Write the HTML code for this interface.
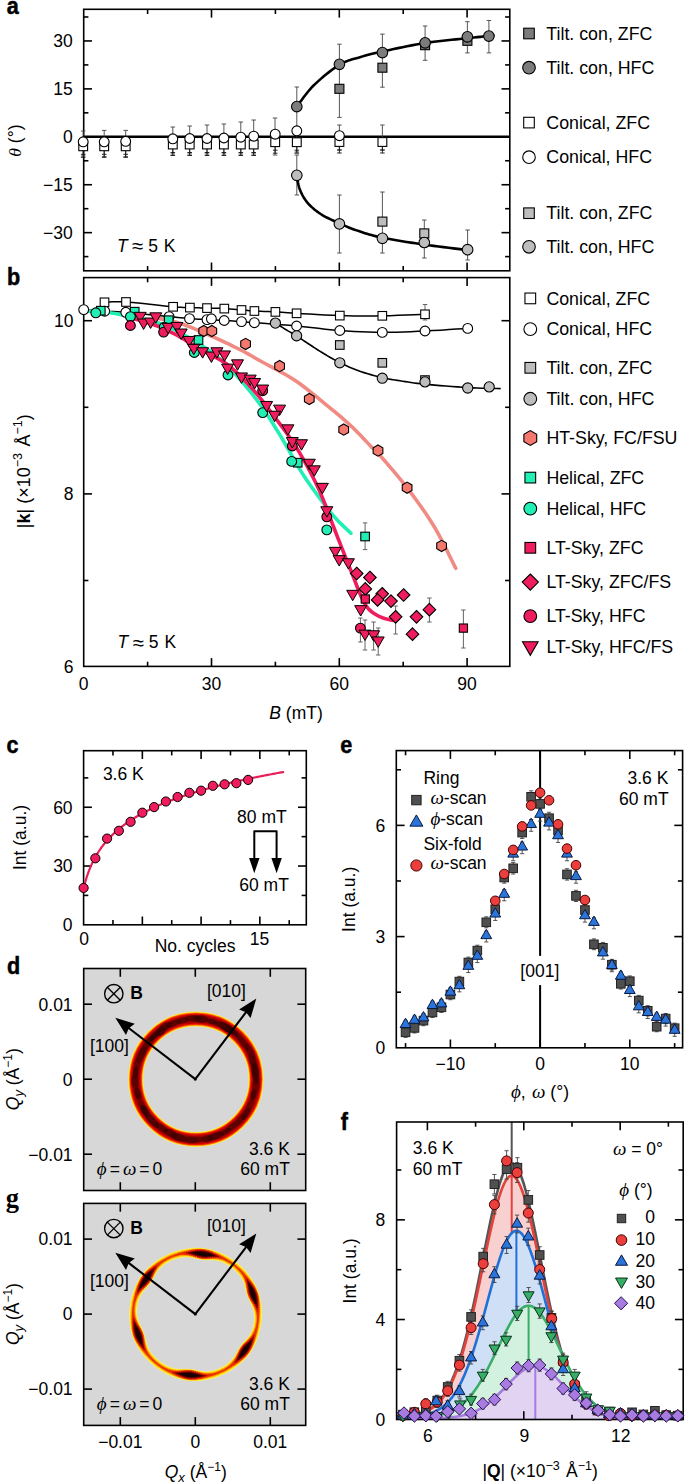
<!DOCTYPE html>
<html><head><meta charset="utf-8"><style>html,body{margin:0;padding:0;background:#fff;}svg{display:block;}</style></head><body>
<svg width="685" height="1484" viewBox="0 0 685 1484">
<rect x="83.7" y="9.3" width="426.1" height="261.5" fill="none" stroke="#000" stroke-width="1.6"/>
<line x1="83.7" y1="232.65" x2="92" y2="232.65" stroke="#000" stroke-width="1.6"/>
<line x1="509.8" y1="232.65" x2="501.5" y2="232.65" stroke="#000" stroke-width="1.6"/>
<line x1="83.7" y1="184.73" x2="92" y2="184.73" stroke="#000" stroke-width="1.6"/>
<line x1="509.8" y1="184.73" x2="501.5" y2="184.73" stroke="#000" stroke-width="1.6"/>
<line x1="83.7" y1="88.88" x2="92" y2="88.88" stroke="#000" stroke-width="1.6"/>
<line x1="509.8" y1="88.88" x2="501.5" y2="88.88" stroke="#000" stroke-width="1.6"/>
<line x1="83.7" y1="40.95" x2="92" y2="40.95" stroke="#000" stroke-width="1.6"/>
<line x1="509.8" y1="40.95" x2="501.5" y2="40.95" stroke="#000" stroke-width="1.6"/>
<line x1="83.7" y1="256.61" x2="88.4" y2="256.61" stroke="#000" stroke-width="1.6"/>
<line x1="509.8" y1="256.61" x2="505.1" y2="256.61" stroke="#000" stroke-width="1.6"/>
<line x1="83.7" y1="208.69" x2="88.4" y2="208.69" stroke="#000" stroke-width="1.6"/>
<line x1="509.8" y1="208.69" x2="505.1" y2="208.69" stroke="#000" stroke-width="1.6"/>
<line x1="83.7" y1="160.76" x2="88.4" y2="160.76" stroke="#000" stroke-width="1.6"/>
<line x1="509.8" y1="160.76" x2="505.1" y2="160.76" stroke="#000" stroke-width="1.6"/>
<line x1="83.7" y1="112.84" x2="88.4" y2="112.84" stroke="#000" stroke-width="1.6"/>
<line x1="509.8" y1="112.84" x2="505.1" y2="112.84" stroke="#000" stroke-width="1.6"/>
<line x1="83.7" y1="64.91" x2="88.4" y2="64.91" stroke="#000" stroke-width="1.6"/>
<line x1="509.8" y1="64.91" x2="505.1" y2="64.91" stroke="#000" stroke-width="1.6"/>
<line x1="83.7" y1="16.99" x2="88.4" y2="16.99" stroke="#000" stroke-width="1.6"/>
<line x1="509.8" y1="16.99" x2="505.1" y2="16.99" stroke="#000" stroke-width="1.6"/>
<line x1="211.5" y1="270.8" x2="211.5" y2="262.5" stroke="#000" stroke-width="1.6"/>
<line x1="211.5" y1="9.3" x2="211.5" y2="17.6" stroke="#000" stroke-width="1.6"/>
<line x1="339.3" y1="270.8" x2="339.3" y2="262.5" stroke="#000" stroke-width="1.6"/>
<line x1="339.3" y1="9.3" x2="339.3" y2="17.6" stroke="#000" stroke-width="1.6"/>
<line x1="467.1" y1="270.8" x2="467.1" y2="262.5" stroke="#000" stroke-width="1.6"/>
<line x1="467.1" y1="9.3" x2="467.1" y2="17.6" stroke="#000" stroke-width="1.6"/>
<line x1="147.6" y1="270.8" x2="147.6" y2="266.1" stroke="#000" stroke-width="1.6"/>
<line x1="147.6" y1="9.3" x2="147.6" y2="14" stroke="#000" stroke-width="1.6"/>
<line x1="275.4" y1="270.8" x2="275.4" y2="266.1" stroke="#000" stroke-width="1.6"/>
<line x1="275.4" y1="9.3" x2="275.4" y2="14" stroke="#000" stroke-width="1.6"/>
<line x1="403.2" y1="270.8" x2="403.2" y2="266.1" stroke="#000" stroke-width="1.6"/>
<line x1="403.2" y1="9.3" x2="403.2" y2="14" stroke="#000" stroke-width="1.6"/>
<text x="72.8" y="47.25" font-family="Liberation Sans" font-size="17.5" text-anchor="end" font-weight="normal" font-style="normal">30</text>
<text x="72.8" y="95.18" font-family="Liberation Sans" font-size="17.5" text-anchor="end" font-weight="normal" font-style="normal">15</text>
<text x="72.8" y="143.1" font-family="Liberation Sans" font-size="17.5" text-anchor="end" font-weight="normal" font-style="normal">0</text>
<text x="72.8" y="191.03" font-family="Liberation Sans" font-size="17.5" text-anchor="end" font-weight="normal" font-style="normal">−15</text>
<text x="72.8" y="238.95" font-family="Liberation Sans" font-size="17.5" text-anchor="end" font-weight="normal" font-style="normal">−30</text>
<text transform="translate(21.3,140.6) rotate(-90)" font-family="Liberation Sans" font-size="17.5" text-anchor="middle"><tspan font-family="Liberation Serif" font-style="italic">θ</tspan> (°)</text>
<line x1="83.7" y1="136.7" x2="509.8" y2="136.7" stroke="#000" stroke-width="2.4"/>
<line x1="83.2" y1="131" x2="83.2" y2="156" stroke="#444" stroke-width="0.9"/>
<line x1="80.95" y1="131" x2="85.45" y2="131" stroke="#444" stroke-width="0.9"/>
<line x1="80.95" y1="156" x2="85.45" y2="156" stroke="#444" stroke-width="0.9"/>
<line x1="104.2" y1="130.4" x2="104.2" y2="156.7" stroke="#444" stroke-width="0.9"/>
<line x1="101.95" y1="130.4" x2="106.45" y2="130.4" stroke="#444" stroke-width="0.9"/>
<line x1="101.95" y1="156.7" x2="106.45" y2="156.7" stroke="#444" stroke-width="0.9"/>
<line x1="125.7" y1="130.4" x2="125.7" y2="156.7" stroke="#444" stroke-width="0.9"/>
<line x1="123.45" y1="130.4" x2="127.95" y2="130.4" stroke="#444" stroke-width="0.9"/>
<line x1="123.45" y1="156.7" x2="127.95" y2="156.7" stroke="#444" stroke-width="0.9"/>
<line x1="172.8" y1="127" x2="172.8" y2="154" stroke="#444" stroke-width="0.9"/>
<line x1="170.55" y1="127" x2="175.05" y2="127" stroke="#444" stroke-width="0.9"/>
<line x1="170.55" y1="154" x2="175.05" y2="154" stroke="#444" stroke-width="0.9"/>
<line x1="189.7" y1="126" x2="189.7" y2="154" stroke="#444" stroke-width="0.9"/>
<line x1="187.45" y1="126" x2="191.95" y2="126" stroke="#444" stroke-width="0.9"/>
<line x1="187.45" y1="154" x2="191.95" y2="154" stroke="#444" stroke-width="0.9"/>
<line x1="207" y1="125" x2="207" y2="154" stroke="#444" stroke-width="0.9"/>
<line x1="204.75" y1="125" x2="209.25" y2="125" stroke="#444" stroke-width="0.9"/>
<line x1="204.75" y1="154" x2="209.25" y2="154" stroke="#444" stroke-width="0.9"/>
<line x1="223.9" y1="124" x2="223.9" y2="154" stroke="#444" stroke-width="0.9"/>
<line x1="221.65" y1="124" x2="226.15" y2="124" stroke="#444" stroke-width="0.9"/>
<line x1="221.65" y1="154" x2="226.15" y2="154" stroke="#444" stroke-width="0.9"/>
<line x1="240.8" y1="122" x2="240.8" y2="154" stroke="#444" stroke-width="0.9"/>
<line x1="238.55" y1="122" x2="243.05" y2="122" stroke="#444" stroke-width="0.9"/>
<line x1="238.55" y1="154" x2="243.05" y2="154" stroke="#444" stroke-width="0.9"/>
<line x1="253.7" y1="120" x2="253.7" y2="154" stroke="#444" stroke-width="0.9"/>
<line x1="251.45" y1="120" x2="255.95" y2="120" stroke="#444" stroke-width="0.9"/>
<line x1="251.45" y1="154" x2="255.95" y2="154" stroke="#444" stroke-width="0.9"/>
<line x1="275" y1="118" x2="275" y2="155" stroke="#444" stroke-width="0.9"/>
<line x1="272.75" y1="118" x2="277.25" y2="118" stroke="#444" stroke-width="0.9"/>
<line x1="272.75" y1="155" x2="277.25" y2="155" stroke="#444" stroke-width="0.9"/>
<line x1="296.8" y1="87" x2="296.8" y2="152" stroke="#444" stroke-width="0.9"/>
<line x1="294.55" y1="87" x2="299.05" y2="87" stroke="#444" stroke-width="0.9"/>
<line x1="294.55" y1="152" x2="299.05" y2="152" stroke="#444" stroke-width="0.9"/>
<line x1="339.4" y1="44.2" x2="339.4" y2="117.4" stroke="#444" stroke-width="0.9"/>
<line x1="337.15" y1="44.2" x2="341.65" y2="44.2" stroke="#444" stroke-width="0.9"/>
<line x1="337.15" y1="117.4" x2="341.65" y2="117.4" stroke="#444" stroke-width="0.9"/>
<line x1="382.4" y1="34.1" x2="382.4" y2="87.2" stroke="#444" stroke-width="0.9"/>
<line x1="380.15" y1="34.1" x2="384.65" y2="34.1" stroke="#444" stroke-width="0.9"/>
<line x1="380.15" y1="87.2" x2="384.65" y2="87.2" stroke="#444" stroke-width="0.9"/>
<line x1="425.1" y1="26" x2="425.1" y2="60.3" stroke="#444" stroke-width="0.9"/>
<line x1="422.85" y1="26" x2="427.35" y2="26" stroke="#444" stroke-width="0.9"/>
<line x1="422.85" y1="60.3" x2="427.35" y2="60.3" stroke="#444" stroke-width="0.9"/>
<line x1="467.4" y1="21.7" x2="467.4" y2="52.9" stroke="#444" stroke-width="0.9"/>
<line x1="465.15" y1="21.7" x2="469.65" y2="21.7" stroke="#444" stroke-width="0.9"/>
<line x1="465.15" y1="52.9" x2="469.65" y2="52.9" stroke="#444" stroke-width="0.9"/>
<line x1="488.9" y1="20.5" x2="488.9" y2="52.9" stroke="#444" stroke-width="0.9"/>
<line x1="486.65" y1="20.5" x2="491.15" y2="20.5" stroke="#444" stroke-width="0.9"/>
<line x1="486.65" y1="52.9" x2="491.15" y2="52.9" stroke="#444" stroke-width="0.9"/>
<line x1="339.4" y1="125" x2="339.4" y2="150" stroke="#444" stroke-width="0.9"/>
<line x1="337.15" y1="125" x2="341.65" y2="125" stroke="#444" stroke-width="0.9"/>
<line x1="337.15" y1="150" x2="341.65" y2="150" stroke="#444" stroke-width="0.9"/>
<line x1="382.4" y1="125" x2="382.4" y2="150" stroke="#444" stroke-width="0.9"/>
<line x1="380.15" y1="125" x2="384.65" y2="125" stroke="#444" stroke-width="0.9"/>
<line x1="380.15" y1="150" x2="384.65" y2="150" stroke="#444" stroke-width="0.9"/>
<line x1="296.8" y1="155" x2="296.8" y2="195" stroke="#444" stroke-width="0.9"/>
<line x1="294.55" y1="155" x2="299.05" y2="155" stroke="#444" stroke-width="0.9"/>
<line x1="294.55" y1="195" x2="299.05" y2="195" stroke="#444" stroke-width="0.9"/>
<line x1="339.4" y1="195" x2="339.4" y2="253" stroke="#444" stroke-width="0.9"/>
<line x1="337.15" y1="195" x2="341.65" y2="195" stroke="#444" stroke-width="0.9"/>
<line x1="337.15" y1="253" x2="341.65" y2="253" stroke="#444" stroke-width="0.9"/>
<line x1="382.4" y1="192" x2="382.4" y2="253" stroke="#444" stroke-width="0.9"/>
<line x1="380.15" y1="192" x2="384.65" y2="192" stroke="#444" stroke-width="0.9"/>
<line x1="380.15" y1="253" x2="384.65" y2="253" stroke="#444" stroke-width="0.9"/>
<line x1="424.3" y1="220" x2="424.3" y2="258" stroke="#444" stroke-width="0.9"/>
<line x1="422.05" y1="220" x2="426.55" y2="220" stroke="#444" stroke-width="0.9"/>
<line x1="422.05" y1="258" x2="426.55" y2="258" stroke="#444" stroke-width="0.9"/>
<line x1="467.6" y1="230" x2="467.6" y2="260" stroke="#444" stroke-width="0.9"/>
<line x1="465.35" y1="230" x2="469.85" y2="230" stroke="#444" stroke-width="0.9"/>
<line x1="465.35" y1="260" x2="469.85" y2="260" stroke="#444" stroke-width="0.9"/>
<line x1="83.2" y1="150.3" x2="83.2" y2="157.3" stroke="#111" stroke-width="0.9"/>
<line x1="80.9" y1="154.3" x2="85.5" y2="154.3" stroke="#111" stroke-width="0.9"/>
<line x1="80.9" y1="157.3" x2="85.5" y2="157.3" stroke="#111" stroke-width="0.9"/>
<line x1="104.2" y1="150.3" x2="104.2" y2="157.3" stroke="#111" stroke-width="0.9"/>
<line x1="101.9" y1="154.3" x2="106.5" y2="154.3" stroke="#111" stroke-width="0.9"/>
<line x1="101.9" y1="157.3" x2="106.5" y2="157.3" stroke="#111" stroke-width="0.9"/>
<line x1="125.7" y1="150.3" x2="125.7" y2="157.3" stroke="#111" stroke-width="0.9"/>
<line x1="123.4" y1="154.3" x2="128" y2="154.3" stroke="#111" stroke-width="0.9"/>
<line x1="123.4" y1="157.3" x2="128" y2="157.3" stroke="#111" stroke-width="0.9"/>
<line x1="172.8" y1="148.5" x2="172.8" y2="155.5" stroke="#111" stroke-width="0.9"/>
<line x1="170.5" y1="152.5" x2="175.1" y2="152.5" stroke="#111" stroke-width="0.9"/>
<line x1="170.5" y1="155.5" x2="175.1" y2="155.5" stroke="#111" stroke-width="0.9"/>
<line x1="189.7" y1="148.5" x2="189.7" y2="155.5" stroke="#111" stroke-width="0.9"/>
<line x1="187.4" y1="152.5" x2="192" y2="152.5" stroke="#111" stroke-width="0.9"/>
<line x1="187.4" y1="155.5" x2="192" y2="155.5" stroke="#111" stroke-width="0.9"/>
<line x1="207" y1="148.5" x2="207" y2="155.5" stroke="#111" stroke-width="0.9"/>
<line x1="204.7" y1="152.5" x2="209.3" y2="152.5" stroke="#111" stroke-width="0.9"/>
<line x1="204.7" y1="155.5" x2="209.3" y2="155.5" stroke="#111" stroke-width="0.9"/>
<line x1="223.9" y1="148.5" x2="223.9" y2="155.5" stroke="#111" stroke-width="0.9"/>
<line x1="221.6" y1="152.5" x2="226.2" y2="152.5" stroke="#111" stroke-width="0.9"/>
<line x1="221.6" y1="155.5" x2="226.2" y2="155.5" stroke="#111" stroke-width="0.9"/>
<line x1="240.8" y1="148.5" x2="240.8" y2="155.5" stroke="#111" stroke-width="0.9"/>
<line x1="238.5" y1="152.5" x2="243.1" y2="152.5" stroke="#111" stroke-width="0.9"/>
<line x1="238.5" y1="155.5" x2="243.1" y2="155.5" stroke="#111" stroke-width="0.9"/>
<line x1="253.7" y1="148.5" x2="253.7" y2="155.5" stroke="#111" stroke-width="0.9"/>
<line x1="251.4" y1="152.5" x2="256" y2="152.5" stroke="#111" stroke-width="0.9"/>
<line x1="251.4" y1="155.5" x2="256" y2="155.5" stroke="#111" stroke-width="0.9"/>
<line x1="275.2" y1="146.2" x2="275.2" y2="153.2" stroke="#111" stroke-width="0.9"/>
<line x1="272.9" y1="150.2" x2="277.5" y2="150.2" stroke="#111" stroke-width="0.9"/>
<line x1="272.9" y1="153.2" x2="277.5" y2="153.2" stroke="#111" stroke-width="0.9"/>
<line x1="296.8" y1="146.2" x2="296.8" y2="153.2" stroke="#111" stroke-width="0.9"/>
<line x1="294.5" y1="150.2" x2="299.1" y2="150.2" stroke="#111" stroke-width="0.9"/>
<line x1="294.5" y1="153.2" x2="299.1" y2="153.2" stroke="#111" stroke-width="0.9"/>
<line x1="339.4" y1="146" x2="339.4" y2="153" stroke="#111" stroke-width="0.9"/>
<line x1="337.1" y1="150" x2="341.7" y2="150" stroke="#111" stroke-width="0.9"/>
<line x1="337.1" y1="153" x2="341.7" y2="153" stroke="#111" stroke-width="0.9"/>
<line x1="382.4" y1="146" x2="382.4" y2="153" stroke="#111" stroke-width="0.9"/>
<line x1="380.1" y1="150" x2="384.7" y2="150" stroke="#111" stroke-width="0.9"/>
<line x1="380.1" y1="153" x2="384.7" y2="153" stroke="#111" stroke-width="0.9"/>
<rect x="78.8" y="141.9" width="8.8" height="8.8" fill="#fff" stroke="#000" stroke-width="1.1"/>
<rect x="99.8" y="141.9" width="8.8" height="8.8" fill="#fff" stroke="#000" stroke-width="1.1"/>
<rect x="121.3" y="141.9" width="8.8" height="8.8" fill="#fff" stroke="#000" stroke-width="1.1"/>
<rect x="168.4" y="140.1" width="8.8" height="8.8" fill="#fff" stroke="#000" stroke-width="1.1"/>
<rect x="185.3" y="140.1" width="8.8" height="8.8" fill="#fff" stroke="#000" stroke-width="1.1"/>
<rect x="202.6" y="140.1" width="8.8" height="8.8" fill="#fff" stroke="#000" stroke-width="1.1"/>
<rect x="219.5" y="140.1" width="8.8" height="8.8" fill="#fff" stroke="#000" stroke-width="1.1"/>
<rect x="236.4" y="140.1" width="8.8" height="8.8" fill="#fff" stroke="#000" stroke-width="1.1"/>
<rect x="249.3" y="140.1" width="8.8" height="8.8" fill="#fff" stroke="#000" stroke-width="1.1"/>
<rect x="270.8" y="137.8" width="8.8" height="8.8" fill="#fff" stroke="#000" stroke-width="1.1"/>
<rect x="292.4" y="137.8" width="8.8" height="8.8" fill="#fff" stroke="#000" stroke-width="1.1"/>
<rect x="335" y="137.6" width="8.8" height="8.8" fill="#fff" stroke="#000" stroke-width="1.1"/>
<rect x="378" y="137.6" width="8.8" height="8.8" fill="#fff" stroke="#000" stroke-width="1.1"/>
<circle cx="83.2" cy="141.8" r="4.9" fill="#fff" stroke="#000" stroke-width="1.1"/>
<circle cx="104.2" cy="141.8" r="4.9" fill="#fff" stroke="#000" stroke-width="1.1"/>
<circle cx="125.7" cy="141.3" r="4.9" fill="#fff" stroke="#000" stroke-width="1.1"/>
<circle cx="172.8" cy="138.8" r="4.9" fill="#fff" stroke="#000" stroke-width="1.1"/>
<circle cx="189.7" cy="138.5" r="4.9" fill="#fff" stroke="#000" stroke-width="1.1"/>
<circle cx="207" cy="138.5" r="4.9" fill="#fff" stroke="#000" stroke-width="1.1"/>
<circle cx="223.9" cy="138" r="4.9" fill="#fff" stroke="#000" stroke-width="1.1"/>
<circle cx="240.8" cy="137.2" r="4.9" fill="#fff" stroke="#000" stroke-width="1.1"/>
<circle cx="253.7" cy="136.2" r="4.9" fill="#fff" stroke="#000" stroke-width="1.1"/>
<circle cx="275.2" cy="134.2" r="4.9" fill="#fff" stroke="#000" stroke-width="1.1"/>
<circle cx="296.8" cy="130.8" r="4.9" fill="#fff" stroke="#000" stroke-width="1.1"/>
<circle cx="339.4" cy="135.7" r="4.9" fill="#fff" stroke="#000" stroke-width="1.1"/>
<polyline points="296.8,106.6 297.76,105.34 298.94,103.72 300.32,101.81 301.88,99.66 303.59,97.34 305.43,94.92 307.37,92.47 309.4,90.03 311.48,87.69 313.6,85.5 315.84,83.36 318.26,81.13 320.82,78.85 323.49,76.57 326.23,74.32 328.98,72.13 331.71,70.05 334.39,68.11 336.97,66.35 339.4,64.8 341.7,63.49 343.92,62.38 346.08,61.44 348.18,60.64 350.25,59.95 352.3,59.34 354.34,58.76 356.4,58.21 358.48,57.63 360.6,57 362.66,56.37 364.59,55.8 366.44,55.28 368.27,54.78 370.16,54.29 372.15,53.81 374.3,53.3 376.69,52.76 379.37,52.16 382.4,51.5 385.83,50.75 389.61,49.93 393.69,49.05 397.99,48.14 402.47,47.21 407.05,46.28 411.66,45.37 416.25,44.51 420.75,43.71 425.1,43 429.42,42.36 433.84,41.77 438.33,41.22 442.83,40.71 447.29,40.24 451.67,39.79 455.91,39.37 459.98,38.97 463.83,38.58 467.4,38.2 470.78,37.83 474.07,37.48 477.24,37.15 480.26,36.84 483.09,36.55 485.72,36.28 488.1,36.05 490.21,35.83 492.02,35.65 493.5,35.5" fill="none" stroke="#000" stroke-width="2.6" stroke-linejoin="round" stroke-linecap="round"/>
<rect x="334.9" y="84.3" width="9" height="9" fill="#7c7c7c" stroke="#000" stroke-width="1.1"/>
<rect x="377.9" y="63.2" width="9" height="9" fill="#7c7c7c" stroke="#000" stroke-width="1.1"/>
<rect x="420.6" y="40.7" width="9" height="9" fill="#7c7c7c" stroke="#000" stroke-width="1.1"/>
<rect x="462.9" y="36.3" width="9" height="9" fill="#7c7c7c" stroke="#000" stroke-width="1.1"/>
<circle cx="296.8" cy="106.6" r="5.3" fill="#7c7c7c" stroke="#000" stroke-width="1.1"/>
<circle cx="339.4" cy="64.3" r="5.3" fill="#7c7c7c" stroke="#000" stroke-width="1.1"/>
<circle cx="382.4" cy="52.6" r="5.3" fill="#7c7c7c" stroke="#000" stroke-width="1.1"/>
<circle cx="425.1" cy="42.8" r="5.3" fill="#7c7c7c" stroke="#000" stroke-width="1.1"/>
<circle cx="467.4" cy="36.8" r="5.3" fill="#7c7c7c" stroke="#000" stroke-width="1.1"/>
<circle cx="488.9" cy="36.1" r="5.3" fill="#7c7c7c" stroke="#000" stroke-width="1.1"/>
<polyline points="296.8,175.3 296.96,176.14 297.13,177.22 297.33,178.49 297.56,179.93 297.83,181.47 298.12,183.08 298.47,184.71 298.86,186.32 299.3,187.87 299.8,189.3 300.35,190.67 300.93,192.04 301.56,193.4 302.24,194.76 302.96,196.11 303.73,197.45 304.56,198.77 305.44,200.07 306.39,201.35 307.4,202.6 308.47,203.83 309.61,205.03 310.8,206.22 312.05,207.39 313.36,208.54 314.72,209.68 316.13,210.79 317.6,211.88 319.13,212.95 320.7,214 322.35,215.03 324.08,216.04 325.89,217.02 327.76,217.99 329.67,218.93 331.62,219.86 333.58,220.77 335.54,221.66 337.48,222.54 339.4,223.4 341.29,224.24 343.15,225.07 345.01,225.87 346.87,226.66 348.74,227.43 350.63,228.18 352.57,228.92 354.55,229.66 356.59,230.38 358.7,231.1 360.81,231.8 362.87,232.49 364.91,233.15 366.99,233.8 369.14,234.45 371.4,235.09 373.81,235.73 376.42,236.38 379.27,237.03 382.4,237.7 385.85,238.38 389.59,239.08 393.59,239.79 397.78,240.51 402.12,241.22 406.57,241.93 411.05,242.62 415.54,243.3 419.97,243.97 424.3,244.6 428.77,245.23 433.56,245.88 438.55,246.53 443.6,247.16 448.57,247.78 453.33,248.36 457.75,248.9 461.69,249.37 465.02,249.78 467.6,250.1" fill="none" stroke="#000" stroke-width="2.6" stroke-linejoin="round" stroke-linecap="round"/>
<rect x="377.9" y="217.1" width="9" height="9" fill="#bdbdbd" stroke="#000" stroke-width="1.1"/>
<rect x="419.8" y="228.9" width="9" height="9" fill="#bdbdbd" stroke="#000" stroke-width="1.1"/>
<circle cx="296.8" cy="175.3" r="5.3" fill="#bdbdbd" stroke="#000" stroke-width="1.1"/>
<circle cx="339.4" cy="223.9" r="5.3" fill="#bdbdbd" stroke="#000" stroke-width="1.1"/>
<circle cx="382.4" cy="238.3" r="5.3" fill="#bdbdbd" stroke="#000" stroke-width="1.1"/>
<circle cx="424.3" cy="242.5" r="5.3" fill="#bdbdbd" stroke="#000" stroke-width="1.1"/>
<circle cx="467.6" cy="249.7" r="5.3" fill="#bdbdbd" stroke="#000" stroke-width="1.1"/>
<text x="117" y="251.8" font-family="Liberation Sans" font-size="17.5"><tspan font-style="italic">T</tspan><tspan x="131.8" font-size="20.5" dy="1.6">≈</tspan><tspan x="148.2" dy="-1.6">5</tspan><tspan x="163.8">K</tspan></text>
<rect x="523.7" y="28.2" width="10.6" height="10.6" fill="#7c7c7c" stroke="#000" stroke-width="1.1"/>
<text x="546.3" y="39.7" font-family="Liberation Sans" font-size="17.8" text-anchor="start" font-weight="normal" font-style="normal">Tilt. con, ZFC</text>
<circle cx="529" cy="67.7" r="6.3" fill="#7c7c7c" stroke="#000" stroke-width="1.1"/>
<text x="546.3" y="73.9" font-family="Liberation Sans" font-size="17.8" text-anchor="start" font-weight="normal" font-style="normal">Tilt. con, HFC</text>
<rect x="523.7" y="117.3" width="10.6" height="10.6" fill="#fff" stroke="#000" stroke-width="1.1"/>
<text x="546.3" y="128.8" font-family="Liberation Sans" font-size="17.8" text-anchor="start" font-weight="normal" font-style="normal">Conical, ZFC</text>
<circle cx="529" cy="157.2" r="6.3" fill="#fff" stroke="#000" stroke-width="1.1"/>
<text x="546.3" y="163.4" font-family="Liberation Sans" font-size="17.8" text-anchor="start" font-weight="normal" font-style="normal">Conical, HFC</text>
<rect x="523.7" y="207.9" width="10.6" height="10.6" fill="#bdbdbd" stroke="#000" stroke-width="1.1"/>
<text x="546.3" y="219.4" font-family="Liberation Sans" font-size="17.8" text-anchor="start" font-weight="normal" font-style="normal">Tilt. con, ZFC</text>
<circle cx="529" cy="246.8" r="6.3" fill="#bdbdbd" stroke="#000" stroke-width="1.1"/>
<text x="546.3" y="253" font-family="Liberation Sans" font-size="17.8" text-anchor="start" font-weight="normal" font-style="normal">Tilt. con, HFC</text>
<rect x="83.7" y="277.6" width="426.1" height="388.8" fill="none" stroke="#000" stroke-width="1.6"/>
<line x1="83.7" y1="493.9" x2="92" y2="493.9" stroke="#000" stroke-width="1.6"/>
<line x1="509.8" y1="493.9" x2="501.5" y2="493.9" stroke="#000" stroke-width="1.6"/>
<line x1="83.7" y1="320.7" x2="92" y2="320.7" stroke="#000" stroke-width="1.6"/>
<line x1="509.8" y1="320.7" x2="501.5" y2="320.7" stroke="#000" stroke-width="1.6"/>
<line x1="83.7" y1="580.5" x2="88.4" y2="580.5" stroke="#000" stroke-width="1.6"/>
<line x1="509.8" y1="580.5" x2="505.1" y2="580.5" stroke="#000" stroke-width="1.6"/>
<line x1="83.7" y1="407.3" x2="88.4" y2="407.3" stroke="#000" stroke-width="1.6"/>
<line x1="509.8" y1="407.3" x2="505.1" y2="407.3" stroke="#000" stroke-width="1.6"/>
<line x1="211.5" y1="666.4" x2="211.5" y2="658.1" stroke="#000" stroke-width="1.6"/>
<line x1="211.5" y1="277.6" x2="211.5" y2="285.9" stroke="#000" stroke-width="1.6"/>
<line x1="339.3" y1="666.4" x2="339.3" y2="658.1" stroke="#000" stroke-width="1.6"/>
<line x1="339.3" y1="277.6" x2="339.3" y2="285.9" stroke="#000" stroke-width="1.6"/>
<line x1="467.1" y1="666.4" x2="467.1" y2="658.1" stroke="#000" stroke-width="1.6"/>
<line x1="467.1" y1="277.6" x2="467.1" y2="285.9" stroke="#000" stroke-width="1.6"/>
<line x1="147.6" y1="666.4" x2="147.6" y2="661.7" stroke="#000" stroke-width="1.6"/>
<line x1="147.6" y1="277.6" x2="147.6" y2="282.3" stroke="#000" stroke-width="1.6"/>
<line x1="275.4" y1="666.4" x2="275.4" y2="661.7" stroke="#000" stroke-width="1.6"/>
<line x1="275.4" y1="277.6" x2="275.4" y2="282.3" stroke="#000" stroke-width="1.6"/>
<line x1="403.2" y1="666.4" x2="403.2" y2="661.7" stroke="#000" stroke-width="1.6"/>
<line x1="403.2" y1="277.6" x2="403.2" y2="282.3" stroke="#000" stroke-width="1.6"/>
<text x="73.4" y="327" font-family="Liberation Sans" font-size="17.5" text-anchor="end" font-weight="normal" font-style="normal">10</text>
<text x="73.4" y="500.2" font-family="Liberation Sans" font-size="17.5" text-anchor="end" font-weight="normal" font-style="normal">8</text>
<text x="73.4" y="673.4" font-family="Liberation Sans" font-size="17.5" text-anchor="end" font-weight="normal" font-style="normal">6</text>
<text x="83.7" y="689.6" font-family="Liberation Sans" font-size="17.5" text-anchor="middle" font-weight="normal" font-style="normal">0</text>
<text x="211.5" y="689.6" font-family="Liberation Sans" font-size="17.5" text-anchor="middle" font-weight="normal" font-style="normal">30</text>
<text x="339.3" y="689.6" font-family="Liberation Sans" font-size="17.5" text-anchor="middle" font-weight="normal" font-style="normal">60</text>
<text x="467.1" y="689.6" font-family="Liberation Sans" font-size="17.5" text-anchor="middle" font-weight="normal" font-style="normal">90</text>
<text x="269.3" y="719.4" font-family="Liberation Sans" font-size="17.5" text-anchor="start" font-weight="normal" font-style="normal"><tspan font-style="italic">B</tspan> (mT)</text>
<text transform="translate(29.6,471.2) rotate(-90)" font-family="Liberation Sans" font-size="18" text-anchor="middle">|<tspan font-weight="bold">k</tspan>| (×10<tspan dy="-7.5" font-size="12.5">−3</tspan><tspan dy="7.5" dx="1.5"> Å</tspan><tspan dy="-7.5" font-size="12.5">−1</tspan><tspan dy="7.5">)</tspan></text>
<text x="117.6" y="648.2" font-family="Liberation Sans" font-size="17.5"><tspan font-style="italic">T</tspan><tspan x="132.4" font-size="20.5" dy="1.6">≈</tspan><tspan x="148.8" dy="-1.6">5</tspan><tspan x="164.4">K</tspan></text>
<polyline points="104.5,302.3 106.54,302.21 109.13,302.03 112.31,301.85 116.14,301.73 120.69,301.76 126,302 132.72,302.55 140.93,303.37 149.84,304.33 158.7,305.31 166.71,306.17 173.1,306.8 177.65,307.17 180.93,307.37 183.37,307.47 185.4,307.5 187.43,307.53 189.9,307.6 192.73,307.7 195.57,307.79 198.42,307.87 201.27,307.94 204.13,308.02 207,308.1 209.87,308.17 212.76,308.23 215.64,308.29 218.53,308.37 221.42,308.46 224.3,308.6 227.22,308.79 230.2,309.01 233.18,309.27 236.09,309.53 238.88,309.78 241.5,310 243.81,310.19 245.82,310.37 247.71,310.53 249.66,310.69 251.83,310.84 254.4,311 257.43,311.15 260.79,311.29 264.38,311.43 268.09,311.57 271.79,311.72 275.4,311.9 278.67,312.09 281.64,312.3 284.61,312.51 287.9,312.75 291.79,313.01 296.6,313.3 302.53,313.66 309.4,314.08 316.87,314.53 324.64,314.96 332.39,315.33 339.8,315.6 346.92,315.77 354.01,315.89 361.08,315.94 368.14,315.94 375.21,315.89 382.3,315.8 389.9,315.63 398.1,315.37 406.31,315.06 413.92,314.75 420.35,314.48 425,314.3" fill="none" stroke="#000" stroke-width="1.5" stroke-linejoin="round" stroke-linecap="round"/>
<polyline points="83.7,309.6 85.98,309.78 89.14,310.03 92.88,310.33 96.91,310.64 100.95,310.94 104.7,311.2 107.95,311.38 110.9,311.49 113.86,311.58 117.12,311.71 121,311.94 125.8,312.3 132,312.86 139.44,313.58 147.49,314.39 155.54,315.22 162.95,315.98 169.1,316.6 173.86,317.08 177.7,317.47 180.91,317.81 183.76,318.09 186.53,318.35 189.5,318.6 192.59,318.83 195.56,319.01 198.45,319.17 201.3,319.31 204.13,319.45 207,319.6 209.88,319.75 212.75,319.9 215.61,320.04 218.47,320.19 221.33,320.34 224.2,320.5 227.13,320.67 230.12,320.85 233.12,321.04 236.06,321.23 238.87,321.41 241.5,321.6 243.57,321.76 245.04,321.89 246.39,322.01 248.09,322.17 250.61,322.39 254.4,322.7 259.73,323.11 266.26,323.59 273.61,324.14 281.37,324.73 289.17,325.36 296.6,326 303.75,326.71 310.95,327.51 318.18,328.34 325.41,329.15 332.63,329.89 339.8,330.5 346.92,331.01 354.01,331.45 361.08,331.82 368.14,332.11 375.21,332.3 382.3,332.4 389.41,332.37 396.52,332.22 403.64,331.98 410.76,331.68 417.88,331.34 425,331 432.61,330.61 440.81,330.13 449.02,329.61 456.63,329.12 463.05,328.7 467.7,328.4" fill="none" stroke="#000" stroke-width="1.5" stroke-linejoin="round" stroke-linecap="round"/>
<polyline points="275.4,322.8 276.15,323.29 277.12,323.94 278.29,324.72 279.59,325.58 280.98,326.5 282.41,327.43 283.83,328.34 285.2,329.2 286.55,330.02 287.94,330.83 289.36,331.65 290.8,332.47 292.25,333.31 293.71,334.15 295.16,335.02 296.6,335.9 298.01,336.8 299.41,337.72 300.8,338.64 302.19,339.59 303.59,340.54 305.02,341.52 306.49,342.5 308,343.5 309.53,344.51 311.06,345.52 312.6,346.54 314.18,347.57 315.81,348.63 317.51,349.72 319.3,350.84 321.2,352 323.22,353.22 325.34,354.51 327.55,355.84 329.83,357.19 332.17,358.55 334.53,359.88 336.92,361.17 339.3,362.4 341.68,363.57 344.08,364.72 346.5,365.84 348.96,366.94 351.45,368 353.98,369.03 356.56,370.03 359.2,371 361.94,371.94 364.81,372.87 367.75,373.77 370.72,374.64 373.67,375.46 376.57,376.24 379.36,376.95 382,377.6 384.43,378.16 386.67,378.63 388.79,379.04 390.86,379.4 392.95,379.73 395.12,380.07 397.45,380.41 400,380.8 402.67,381.22 405.34,381.64 408.08,382.06 410.96,382.49 414.02,382.92 417.34,383.35 420.98,383.77 425,384.2 429.56,384.64 434.67,385.11 440.17,385.58 445.89,386.05 451.66,386.5 457.33,386.92 462.73,387.29 467.7,387.6 472.46,387.85 477.28,388.04 482.03,388.19 486.57,388.31 490.78,388.4 494.52,388.48 497.67,388.54 500.1,388.6" fill="none" stroke="#000" stroke-width="1.6" stroke-linejoin="round" stroke-linecap="round"/>
<polyline points="158,318.2 159.85,318.62 162.29,319.13 165.18,319.74 168.42,320.44 171.87,321.23 175.42,322.1 178.93,323.06 182.3,324.1 185.58,325.24 188.93,326.5 192.34,327.85 195.79,329.29 199.29,330.79 202.83,332.33 206.4,333.91 210,335.5 213.72,337.16 217.61,338.92 221.58,340.75 225.57,342.61 229.48,344.46 233.25,346.27 236.78,348 240,349.6 242.75,351.01 245.05,352.24 247.05,353.35 248.94,354.43 250.87,355.56 253.01,356.81 255.53,358.27 258.6,360 262.29,362.01 266.46,364.24 270.99,366.63 275.75,369.16 280.6,371.8 285.41,374.51 290.06,377.25 294.4,380 298.51,382.81 302.55,385.74 306.5,388.76 310.38,391.83 314.16,394.9 317.87,397.94 321.48,400.92 325,403.8 328.43,406.58 331.76,409.3 335,411.98 338.16,414.61 341.24,417.22 344.23,419.82 347.15,422.41 350,425 352.78,427.63 355.49,430.29 358.13,432.96 360.69,435.61 363.16,438.21 365.54,440.73 367.82,443.13 370,445.4 371.96,447.39 373.64,449.06 375.16,450.55 376.62,452 378.13,453.53 379.8,455.29 381.72,457.4 384,460 386.68,463.1 389.68,466.59 392.92,470.39 396.31,474.44 399.8,478.65 403.29,482.96 406.72,487.3 410,491.6 413.2,495.89 416.42,500.27 419.64,504.73 422.83,509.26 425.98,513.85 429.08,518.51 432.09,523.23 435,528 437.93,533.13 440.96,538.75 443.99,544.6 446.91,550.42 449.64,555.97 452.08,560.97 454.13,565.16 455.7,568.3" fill="none" stroke="#f08a82" stroke-width="3.6" stroke-linejoin="round" stroke-linecap="round"/>
<polyline points="86,311 87.88,311.13 90.41,311.28 93.42,311.46 96.75,311.67 100.24,311.91 103.72,312.17 107.03,312.47 110,312.8 112.66,313.16 115.17,313.55 117.59,313.97 119.96,314.43 122.34,314.9 124.77,315.41 127.31,315.94 130,316.5 132.88,317.08 135.92,317.67 139.07,318.28 142.27,318.92 145.48,319.6 148.64,320.32 151.69,321.08 154.6,321.9 157.28,322.71 159.75,323.5 162.1,324.3 164.42,325.15 166.78,326.1 169.27,327.2 171.99,328.49 175,330 178.38,331.77 182.09,333.78 186.02,335.97 190.08,338.31 194.17,340.74 198.2,343.23 202.07,345.73 205.7,348.2 209.06,350.59 212.24,352.92 215.29,355.26 218.26,357.66 221.22,360.17 224.21,362.86 227.28,365.78 230.5,369 233.9,372.56 237.44,376.44 241.07,380.56 244.73,384.85 248.37,389.24 251.93,393.66 255.36,398.04 258.6,402.3 261.66,406.51 264.61,410.75 267.46,415.01 270.21,419.27 272.87,423.51 275.47,427.7 278.01,431.84 280.5,435.9 282.95,439.95 285.34,444.06 287.67,448.15 289.94,452.17 292.12,456.08 294.22,459.81 296.21,463.3 298.1,466.5 299.83,469.34 301.37,471.85 302.79,474.1 304.14,476.18 305.46,478.18 306.81,480.18 308.24,482.25 309.8,484.5 311.51,486.92 313.31,489.42 315.19,491.99 317.1,494.56 319.01,497.11 320.89,499.59 322.69,501.97 324.4,504.2 325.98,506.27 327.46,508.21 328.86,510.06 330.24,511.83 331.61,513.56 333.02,515.28 334.51,517.02 336.1,518.8 337.9,520.71 339.93,522.75 342.07,524.85 344.23,526.91 346.3,528.86 348.17,530.62 349.74,532.09 350.9,533.2" fill="none" stroke="#22efb5" stroke-width="3.6" stroke-linejoin="round" stroke-linecap="round"/>
<polyline points="135,319 136.62,319.48 138.79,320.1 141.36,320.83 144.22,321.66 147.24,322.56 150.29,323.51 153.26,324.5 156,325.5 158.58,326.52 161.13,327.58 163.66,328.68 166.19,329.83 168.73,331.03 171.29,332.29 173.87,333.61 176.5,335 179.12,336.45 181.71,337.96 184.29,339.53 186.91,341.16 189.59,342.84 192.38,344.57 195.3,346.36 198.4,348.2 201.73,350.06 205.28,351.93 209,353.83 212.8,355.8 216.63,357.85 220.42,360.02 224.1,362.33 227.6,364.8 230.96,367.45 234.24,370.27 237.45,373.23 240.61,376.31 243.7,379.47 246.75,382.69 249.74,385.94 252.7,389.2 255.61,392.51 258.47,395.93 261.27,399.41 264.03,402.93 266.74,406.47 269.4,410 272.02,413.48 274.6,416.9 277.14,420.26 279.65,423.6 282.12,426.91 284.54,430.2 286.91,433.47 289.21,436.73 291.45,439.97 293.6,443.2 295.66,446.4 297.64,449.56 299.53,452.69 301.37,455.81 303.16,458.93 304.92,462.08 306.66,465.26 308.4,468.5 310.11,471.72 311.76,474.88 313.37,478.02 314.96,481.21 316.55,484.5 318.16,487.94 319.8,491.59 321.5,495.5 323.25,499.73 325.05,504.24 326.87,508.98 328.71,513.86 330.57,518.81 332.42,523.77 334.27,528.65 336.1,533.4 337.92,538.05 339.75,542.7 341.58,547.34 343.4,551.95 345.22,556.52 347.03,561.05 348.82,565.51 350.6,569.9 352.37,574.34 354.14,578.91 355.9,583.49 357.64,587.98 359.37,592.28 361.08,596.29 362.76,599.9 364.4,603 365.98,605.56 367.49,607.64 368.95,609.34 370.4,610.74 371.86,611.93 373.36,612.97 374.93,613.97 376.6,615 378.44,616.02 380.44,616.93 382.55,617.73 384.68,618.42 386.77,619.02 388.73,619.51 390.5,619.9 392,620.2 393.25,620.35 394.32,620.32 395.24,620.17 396.01,619.93 396.67,619.64 397.22,619.37 397.69,619.14 398.1,619" fill="none" stroke="#ef1d5d" stroke-width="3.6" stroke-linejoin="round" stroke-linecap="round"/>
<line x1="425" y1="304.5" x2="425" y2="320" stroke="#555" stroke-width="0.9"/>
<line x1="422.75" y1="304.5" x2="427.25" y2="304.5" stroke="#555" stroke-width="0.9"/>
<line x1="422.75" y1="320" x2="427.25" y2="320" stroke="#555" stroke-width="0.9"/>
<line x1="365.1" y1="522.9" x2="365.1" y2="549.6" stroke="#555" stroke-width="0.9"/>
<line x1="362.85" y1="522.9" x2="367.35" y2="522.9" stroke="#555" stroke-width="0.9"/>
<line x1="362.85" y1="549.6" x2="367.35" y2="549.6" stroke="#555" stroke-width="0.9"/>
<line x1="463.4" y1="610" x2="463.4" y2="648" stroke="#555" stroke-width="0.9"/>
<line x1="461.15" y1="610" x2="465.65" y2="610" stroke="#555" stroke-width="0.9"/>
<line x1="461.15" y1="648" x2="465.65" y2="648" stroke="#555" stroke-width="0.9"/>
<line x1="429.4" y1="598" x2="429.4" y2="622" stroke="#555" stroke-width="0.9"/>
<line x1="427.15" y1="598" x2="431.65" y2="598" stroke="#555" stroke-width="0.9"/>
<line x1="427.15" y1="622" x2="431.65" y2="622" stroke="#555" stroke-width="0.9"/>
<line x1="395.6" y1="606" x2="395.6" y2="634" stroke="#555" stroke-width="0.9"/>
<line x1="393.35" y1="606" x2="397.85" y2="606" stroke="#555" stroke-width="0.9"/>
<line x1="393.35" y1="634" x2="397.85" y2="634" stroke="#555" stroke-width="0.9"/>
<line x1="365" y1="620" x2="365" y2="650" stroke="#555" stroke-width="0.9"/>
<line x1="362.75" y1="620" x2="367.25" y2="620" stroke="#555" stroke-width="0.9"/>
<line x1="362.75" y1="650" x2="367.25" y2="650" stroke="#555" stroke-width="0.9"/>
<line x1="373.6" y1="622" x2="373.6" y2="650" stroke="#555" stroke-width="0.9"/>
<line x1="371.35" y1="622" x2="375.85" y2="622" stroke="#555" stroke-width="0.9"/>
<line x1="371.35" y1="650" x2="375.85" y2="650" stroke="#555" stroke-width="0.9"/>
<line x1="378.2" y1="628" x2="378.2" y2="655" stroke="#555" stroke-width="0.9"/>
<line x1="375.95" y1="628" x2="380.45" y2="628" stroke="#555" stroke-width="0.9"/>
<line x1="375.95" y1="655" x2="380.45" y2="655" stroke="#555" stroke-width="0.9"/>
<line x1="360.4" y1="618" x2="360.4" y2="642" stroke="#555" stroke-width="0.9"/>
<line x1="358.15" y1="618" x2="362.65" y2="618" stroke="#555" stroke-width="0.9"/>
<line x1="358.15" y1="642" x2="362.65" y2="642" stroke="#555" stroke-width="0.9"/>
<rect x="100.2" y="298" width="8.6" height="8.6" fill="#fff" stroke="#000" stroke-width="1.1"/>
<rect x="121.7" y="297.7" width="8.6" height="8.6" fill="#fff" stroke="#000" stroke-width="1.1"/>
<rect x="168.8" y="302.5" width="8.6" height="8.6" fill="#fff" stroke="#000" stroke-width="1.1"/>
<rect x="185.6" y="303.3" width="8.6" height="8.6" fill="#fff" stroke="#000" stroke-width="1.1"/>
<rect x="202.7" y="303.8" width="8.6" height="8.6" fill="#fff" stroke="#000" stroke-width="1.1"/>
<rect x="220" y="304.3" width="8.6" height="8.6" fill="#fff" stroke="#000" stroke-width="1.1"/>
<rect x="237.2" y="305.7" width="8.6" height="8.6" fill="#fff" stroke="#000" stroke-width="1.1"/>
<rect x="250.1" y="306.7" width="8.6" height="8.6" fill="#fff" stroke="#000" stroke-width="1.1"/>
<rect x="271.1" y="307.6" width="8.6" height="8.6" fill="#fff" stroke="#000" stroke-width="1.1"/>
<rect x="292.3" y="309" width="8.6" height="8.6" fill="#fff" stroke="#000" stroke-width="1.1"/>
<rect x="335.5" y="311.3" width="8.6" height="8.6" fill="#fff" stroke="#000" stroke-width="1.1"/>
<rect x="378" y="311.5" width="8.6" height="8.6" fill="#fff" stroke="#000" stroke-width="1.1"/>
<rect x="420.7" y="310" width="8.6" height="8.6" fill="#fff" stroke="#000" stroke-width="1.1"/>
<circle cx="83.7" cy="309.6" r="4.9" fill="#fff" stroke="#000" stroke-width="1.1"/>
<circle cx="104.7" cy="311.2" r="4.9" fill="#fff" stroke="#000" stroke-width="1.1"/>
<circle cx="125.8" cy="312.3" r="4.9" fill="#fff" stroke="#000" stroke-width="1.1"/>
<circle cx="169.1" cy="316.6" r="4.9" fill="#fff" stroke="#000" stroke-width="1.1"/>
<circle cx="189.5" cy="318.6" r="4.9" fill="#fff" stroke="#000" stroke-width="1.1"/>
<circle cx="207" cy="319.6" r="4.9" fill="#fff" stroke="#000" stroke-width="1.1"/>
<circle cx="224.2" cy="320.5" r="4.9" fill="#fff" stroke="#000" stroke-width="1.1"/>
<circle cx="241.5" cy="321.6" r="4.9" fill="#fff" stroke="#000" stroke-width="1.1"/>
<circle cx="254.4" cy="322.7" r="4.9" fill="#fff" stroke="#000" stroke-width="1.1"/>
<circle cx="296.6" cy="326" r="4.9" fill="#fff" stroke="#000" stroke-width="1.1"/>
<circle cx="339.8" cy="330.5" r="4.9" fill="#fff" stroke="#000" stroke-width="1.1"/>
<circle cx="382.3" cy="332.4" r="4.9" fill="#fff" stroke="#000" stroke-width="1.1"/>
<circle cx="425" cy="331" r="4.9" fill="#fff" stroke="#000" stroke-width="1.1"/>
<circle cx="467.7" cy="328.4" r="4.9" fill="#fff" stroke="#000" stroke-width="1.1"/>
<circle cx="211.4" cy="318.8" r="4.9" fill="#fff" stroke="#000" stroke-width="1.1"/>
<rect x="335.5" y="340.7" width="8.6" height="8.6" fill="#bdbdbd" stroke="#000" stroke-width="1.1"/>
<rect x="378" y="358.5" width="8.6" height="8.6" fill="#bdbdbd" stroke="#000" stroke-width="1.1"/>
<rect x="420.7" y="375.8" width="8.6" height="8.6" fill="#bdbdbd" stroke="#000" stroke-width="1.1"/>
<circle cx="275.4" cy="323.1" r="5.1" fill="#bdbdbd" stroke="#000" stroke-width="1.1"/>
<circle cx="296.6" cy="335.8" r="5.1" fill="#bdbdbd" stroke="#000" stroke-width="1.1"/>
<circle cx="339.8" cy="362.8" r="5.1" fill="#bdbdbd" stroke="#000" stroke-width="1.1"/>
<circle cx="382.3" cy="378.2" r="5.1" fill="#bdbdbd" stroke="#000" stroke-width="1.1"/>
<circle cx="425" cy="381.9" r="5.1" fill="#bdbdbd" stroke="#000" stroke-width="1.1"/>
<circle cx="467.7" cy="388" r="5.1" fill="#bdbdbd" stroke="#000" stroke-width="1.1"/>
<circle cx="489.2" cy="386.9" r="5.1" fill="#bdbdbd" stroke="#000" stroke-width="1.1"/>
<polygon points="208.55,333.8 203.7,336.6 198.85,333.8 198.85,328.2 203.7,325.4 208.55,328.2" fill="#f4786e" stroke="#000" stroke-width="1.1"/>
<polygon points="216.65,333.8 211.8,336.6 206.95,333.8 206.95,328.2 211.8,325.4 216.65,328.2" fill="#f4786e" stroke="#000" stroke-width="1.1"/>
<polygon points="250.45,346.7 245.6,349.5 240.75,346.7 240.75,341.1 245.6,338.3 250.45,341.1" fill="#f4786e" stroke="#000" stroke-width="1.1"/>
<polygon points="284.45,368.9 279.6,371.7 274.75,368.9 274.75,363.3 279.6,360.5 284.45,363.3" fill="#f4786e" stroke="#000" stroke-width="1.1"/>
<polygon points="314.15,401.8 309.3,404.6 304.45,401.8 304.45,396.2 309.3,393.4 314.15,396.2" fill="#f4786e" stroke="#000" stroke-width="1.1"/>
<polygon points="348.55,432.4 343.7,435.2 338.85,432.4 338.85,426.8 343.7,424 348.55,426.8" fill="#f4786e" stroke="#000" stroke-width="1.1"/>
<polygon points="382.85,453.4 378,456.2 373.15,453.4 373.15,447.8 378,445 382.85,447.8" fill="#f4786e" stroke="#000" stroke-width="1.1"/>
<polygon points="411.95,490.5 407.1,493.3 402.25,490.5 402.25,484.9 407.1,482.1 411.95,484.9" fill="#f4786e" stroke="#000" stroke-width="1.1"/>
<polygon points="446.45,548.7 441.6,551.5 436.75,548.7 436.75,543.1 441.6,540.3 446.45,543.1" fill="#f4786e" stroke="#000" stroke-width="1.1"/>
<rect x="96.5" y="306.4" width="8.6" height="8.6" fill="#22efb5" stroke="#000" stroke-width="1.1"/>
<rect x="130.4" y="307.4" width="8.6" height="8.6" fill="#22efb5" stroke="#000" stroke-width="1.1"/>
<rect x="164.4" y="315.9" width="8.6" height="8.6" fill="#22efb5" stroke="#000" stroke-width="1.1"/>
<rect x="194.2" y="335.7" width="8.6" height="8.6" fill="#22efb5" stroke="#000" stroke-width="1.1"/>
<rect x="293.4" y="458.4" width="8.6" height="8.6" fill="#22efb5" stroke="#000" stroke-width="1.1"/>
<rect x="360.8" y="532.2" width="8.6" height="8.6" fill="#22efb5" stroke="#000" stroke-width="1.1"/>
<circle cx="95.8" cy="312.8" r="4.9" fill="#22efb5" stroke="#000" stroke-width="1.1"/>
<circle cx="130.4" cy="316.6" r="4.9" fill="#22efb5" stroke="#000" stroke-width="1.1"/>
<circle cx="164.3" cy="327.1" r="4.9" fill="#22efb5" stroke="#000" stroke-width="1.1"/>
<circle cx="194.3" cy="352.5" r="4.9" fill="#22efb5" stroke="#000" stroke-width="1.1"/>
<circle cx="228" cy="375" r="4.9" fill="#22efb5" stroke="#000" stroke-width="1.1"/>
<circle cx="262.7" cy="412.6" r="4.9" fill="#22efb5" stroke="#000" stroke-width="1.1"/>
<circle cx="291.7" cy="461.4" r="4.9" fill="#22efb5" stroke="#000" stroke-width="1.1"/>
<circle cx="326.8" cy="529.9" r="4.9" fill="#22efb5" stroke="#000" stroke-width="1.1"/>
<circle cx="130.4" cy="325.5" r="4.9" fill="#ef1d5d" stroke="#000" stroke-width="1.1"/>
<circle cx="163.6" cy="332.1" r="4.9" fill="#ef1d5d" stroke="#000" stroke-width="1.1"/>
<circle cx="262.7" cy="390.7" r="4.9" fill="#ef1d5d" stroke="#000" stroke-width="1.1"/>
<circle cx="292.3" cy="446" r="4.9" fill="#ef1d5d" stroke="#000" stroke-width="1.1"/>
<circle cx="326.8" cy="516.8" r="4.9" fill="#ef1d5d" stroke="#000" stroke-width="1.1"/>
<circle cx="360.4" cy="628.1" r="4.9" fill="#ef1d5d" stroke="#000" stroke-width="1.1"/>
<polygon points="134.2,312.34 146.2,312.34 140.2,322.73" fill="#ef1d5d" stroke="#000" stroke-width="1.0" stroke-linejoin="miter"/>
<polygon points="137.6,319.04 149.6,319.04 143.6,329.43" fill="#ef1d5d" stroke="#000" stroke-width="1.0" stroke-linejoin="miter"/>
<polygon points="144.6,318.04 156.6,318.04 150.6,328.43" fill="#ef1d5d" stroke="#000" stroke-width="1.0" stroke-linejoin="miter"/>
<polygon points="149.8,312.84 161.8,312.84 155.8,323.23" fill="#ef1d5d" stroke="#000" stroke-width="1.0" stroke-linejoin="miter"/>
<polygon points="162.1,323.34 174.1,323.34 168.1,333.73" fill="#ef1d5d" stroke="#000" stroke-width="1.0" stroke-linejoin="miter"/>
<polygon points="170.9,322.44 182.9,322.44 176.9,332.83" fill="#ef1d5d" stroke="#000" stroke-width="1.0" stroke-linejoin="miter"/>
<polygon points="175.2,329.04 187.2,329.04 181.2,339.43" fill="#ef1d5d" stroke="#000" stroke-width="1.0" stroke-linejoin="miter"/>
<polygon points="183.1,336.44 195.1,336.44 189.1,346.83" fill="#ef1d5d" stroke="#000" stroke-width="1.0" stroke-linejoin="miter"/>
<polygon points="187.8,344.34 199.8,344.34 193.8,354.73" fill="#ef1d5d" stroke="#000" stroke-width="1.0" stroke-linejoin="miter"/>
<polygon points="196.6,347.74 208.6,347.74 202.6,358.13" fill="#ef1d5d" stroke="#000" stroke-width="1.0" stroke-linejoin="miter"/>
<polygon points="205.4,352.04 217.4,352.04 211.4,362.43" fill="#ef1d5d" stroke="#000" stroke-width="1.0" stroke-linejoin="miter"/>
<polygon points="210.9,347.74 222.9,347.74 216.9,358.13" fill="#ef1d5d" stroke="#000" stroke-width="1.0" stroke-linejoin="miter"/>
<polygon points="218.5,350.94 230.5,350.94 224.5,361.33" fill="#ef1d5d" stroke="#000" stroke-width="1.0" stroke-linejoin="miter"/>
<polygon points="221.6,364.14 233.6,364.14 227.6,374.53" fill="#ef1d5d" stroke="#000" stroke-width="1.0" stroke-linejoin="miter"/>
<polygon points="231.5,359.84 243.5,359.84 237.5,370.23" fill="#ef1d5d" stroke="#000" stroke-width="1.0" stroke-linejoin="miter"/>
<polygon points="235.5,372.94 247.5,372.94 241.5,383.33" fill="#ef1d5d" stroke="#000" stroke-width="1.0" stroke-linejoin="miter"/>
<polygon points="244.2,375.14 256.2,375.14 250.2,385.53" fill="#ef1d5d" stroke="#000" stroke-width="1.0" stroke-linejoin="miter"/>
<polygon points="248.6,378.44 260.6,378.44 254.6,388.83" fill="#ef1d5d" stroke="#000" stroke-width="1.0" stroke-linejoin="miter"/>
<polygon points="256.7,385.04 268.7,385.04 262.7,395.43" fill="#ef1d5d" stroke="#000" stroke-width="1.0" stroke-linejoin="miter"/>
<polygon points="260.6,401.44 272.6,401.44 266.6,411.83" fill="#ef1d5d" stroke="#000" stroke-width="1.0" stroke-linejoin="miter"/>
<polygon points="273.6,405.14 285.6,405.14 279.6,415.53" fill="#ef1d5d" stroke="#000" stroke-width="1.0" stroke-linejoin="miter"/>
<polygon points="268.7,411.24 280.7,411.24 274.7,421.63" fill="#ef1d5d" stroke="#000" stroke-width="1.0" stroke-linejoin="miter"/>
<polygon points="281.9,424.84 293.9,424.84 287.9,435.23" fill="#ef1d5d" stroke="#000" stroke-width="1.0" stroke-linejoin="miter"/>
<polygon points="286.3,437.54 298.3,437.54 292.3,447.93" fill="#ef1d5d" stroke="#000" stroke-width="1.0" stroke-linejoin="miter"/>
<polygon points="295.5,439.74 307.5,439.74 301.5,450.13" fill="#ef1d5d" stroke="#000" stroke-width="1.0" stroke-linejoin="miter"/>
<polygon points="303.3,459.24 315.3,459.24 309.3,469.63" fill="#ef1d5d" stroke="#000" stroke-width="1.0" stroke-linejoin="miter"/>
<polygon points="308.3,465.84 320.3,465.84 314.3,476.23" fill="#ef1d5d" stroke="#000" stroke-width="1.0" stroke-linejoin="miter"/>
<polygon points="316.4,483.34 328.4,483.34 322.4,493.73" fill="#ef1d5d" stroke="#000" stroke-width="1.0" stroke-linejoin="miter"/>
<polygon points="320.8,506.74 332.8,506.74 326.8,517.13" fill="#ef1d5d" stroke="#000" stroke-width="1.0" stroke-linejoin="miter"/>
<polygon points="329.3,547.34 341.3,547.34 335.3,557.73" fill="#ef1d5d" stroke="#000" stroke-width="1.0" stroke-linejoin="miter"/>
<polygon points="333.2,555.64 345.2,555.64 339.2,566.03" fill="#ef1d5d" stroke="#000" stroke-width="1.0" stroke-linejoin="miter"/>
<polygon points="342.4,558.74 354.4,558.74 348.4,569.13" fill="#ef1d5d" stroke="#000" stroke-width="1.0" stroke-linejoin="miter"/>
<polygon points="346.7,590.34 358.7,590.34 352.7,600.73" fill="#ef1d5d" stroke="#000" stroke-width="1.0" stroke-linejoin="miter"/>
<polygon points="354.7,605.64 366.7,605.64 360.7,616.03" fill="#ef1d5d" stroke="#000" stroke-width="1.0" stroke-linejoin="miter"/>
<polygon points="359,630.14 371,630.14 365,640.53" fill="#ef1d5d" stroke="#000" stroke-width="1.0" stroke-linejoin="miter"/>
<polygon points="367.6,630.74 379.6,630.74 373.6,641.13" fill="#ef1d5d" stroke="#000" stroke-width="1.0" stroke-linejoin="miter"/>
<polygon points="372.2,636.94 384.2,636.94 378.2,647.33" fill="#ef1d5d" stroke="#000" stroke-width="1.0" stroke-linejoin="miter"/>
<polygon points="356.7,567.2 363,573.5 356.7,579.8 350.4,573.5" fill="#ef1d5d" stroke="#000" stroke-width="1.1"/>
<polygon points="369.9,571.2 376.2,577.5 369.9,583.8 363.6,577.5" fill="#ef1d5d" stroke="#000" stroke-width="1.1"/>
<polygon points="365.3,582.6 371.6,588.9 365.3,595.2 359,588.9" fill="#ef1d5d" stroke="#000" stroke-width="1.1"/>
<polygon points="382.2,587.5 388.5,593.8 382.2,600.1 375.9,593.8" fill="#ef1d5d" stroke="#000" stroke-width="1.1"/>
<polygon points="377.6,593.6 383.9,599.9 377.6,606.2 371.3,599.9" fill="#ef1d5d" stroke="#000" stroke-width="1.1"/>
<polygon points="391,594.8 397.3,601.1 391,607.4 384.7,601.1" fill="#ef1d5d" stroke="#000" stroke-width="1.1"/>
<polygon points="403.6,588.7 409.9,595 403.6,601.3 397.3,595" fill="#ef1d5d" stroke="#000" stroke-width="1.1"/>
<polygon points="395.6,610.5 401.9,616.8 395.6,623.1 389.3,616.8" fill="#ef1d5d" stroke="#000" stroke-width="1.1"/>
<polygon points="416.5,610.5 422.8,616.8 416.5,623.1 410.2,616.8" fill="#ef1d5d" stroke="#000" stroke-width="1.1"/>
<polygon points="429.4,603.4 435.7,609.7 429.4,616 423.1,609.7" fill="#ef1d5d" stroke="#000" stroke-width="1.1"/>
<polygon points="412.5,627.9 418.8,634.2 412.5,640.5 406.2,634.2" fill="#ef1d5d" stroke="#000" stroke-width="1.1"/>
<rect x="361.2" y="594.9" width="8.2" height="8.2" fill="#ef1d5d" stroke="#000" stroke-width="1.1"/>
<rect x="459.3" y="624" width="8.2" height="8.2" fill="#ef1d5d" stroke="#000" stroke-width="1.1"/>
<rect x="524.95" y="293.05" width="10.7" height="10.7" fill="#fff" stroke="#000" stroke-width="1.1"/>
<text x="546.4" y="304.6" font-family="Liberation Sans" font-size="17.8" text-anchor="start" font-weight="normal" font-style="normal">Conical, ZFC</text>
<circle cx="530.3" cy="329.1" r="6.4" fill="#fff" stroke="#000" stroke-width="1.1"/>
<text x="546.4" y="335.3" font-family="Liberation Sans" font-size="17.8" text-anchor="start" font-weight="normal" font-style="normal">Conical, HFC</text>
<rect x="524.95" y="362.45" width="10.7" height="10.7" fill="#bdbdbd" stroke="#000" stroke-width="1.1"/>
<text x="546.4" y="374" font-family="Liberation Sans" font-size="17.8" text-anchor="start" font-weight="normal" font-style="normal">Tilt. con, ZFC</text>
<circle cx="530.3" cy="398.8" r="6.4" fill="#bdbdbd" stroke="#000" stroke-width="1.1"/>
<text x="546.4" y="405" font-family="Liberation Sans" font-size="17.8" text-anchor="start" font-weight="normal" font-style="normal">Tilt. con, HFC</text>
<polygon points="536.71,441.7 530.3,445.4 523.89,441.7 523.89,434.3 530.3,430.6 536.71,434.3" fill="#f4786e" stroke="#000" stroke-width="1.1"/>
<text x="546.4" y="444.2" font-family="Liberation Sans" font-size="17.8" text-anchor="start" font-weight="normal" font-style="normal">HT-Sky, FC/FSU</text>
<rect x="524.95" y="472.25" width="10.7" height="10.7" fill="#22efb5" stroke="#000" stroke-width="1.1"/>
<text x="546.4" y="483.8" font-family="Liberation Sans" font-size="17.8" text-anchor="start" font-weight="normal" font-style="normal">Helical, ZFC</text>
<circle cx="530.3" cy="508.6" r="6.4" fill="#22efb5" stroke="#000" stroke-width="1.1"/>
<text x="546.4" y="514.8" font-family="Liberation Sans" font-size="17.8" text-anchor="start" font-weight="normal" font-style="normal">Helical, HFC</text>
<rect x="524.95" y="542.45" width="10.7" height="10.7" fill="#ef1d5d" stroke="#000" stroke-width="1.1"/>
<text x="546.4" y="554" font-family="Liberation Sans" font-size="17.8" text-anchor="start" font-weight="normal" font-style="normal">LT-Sky, ZFC</text>
<polygon points="530.3,574 538.4,582.1 530.3,590.2 522.2,582.1" fill="#ef1d5d" stroke="#000" stroke-width="1.1"/>
<text x="546.4" y="588.3" font-family="Liberation Sans" font-size="17.8" text-anchor="start" font-weight="normal" font-style="normal">LT-Sky, ZFC/FS</text>
<circle cx="530.3" cy="616.1" r="6.4" fill="#ef1d5d" stroke="#000" stroke-width="1.1"/>
<text x="546.4" y="622.3" font-family="Liberation Sans" font-size="17.8" text-anchor="start" font-weight="normal" font-style="normal">LT-Sky, HFC</text>
<polygon points="522.5,641.8 538.1,641.8 530.3,655.31" fill="#ef1d5d" stroke="#000" stroke-width="1.1" stroke-linejoin="miter"/>
<text x="546.4" y="652.5" font-family="Liberation Sans" font-size="17.8" text-anchor="start" font-weight="normal" font-style="normal">LT-Sky, HFC/FS</text>
<rect x="83.6" y="750.7" width="222.7" height="174.1" fill="none" stroke="#000" stroke-width="1.6"/>
<line x1="83.6" y1="866.03" x2="91.9" y2="866.03" stroke="#000" stroke-width="1.6"/>
<line x1="306.3" y1="866.03" x2="298" y2="866.03" stroke="#000" stroke-width="1.6"/>
<line x1="83.6" y1="807.26" x2="91.9" y2="807.26" stroke="#000" stroke-width="1.6"/>
<line x1="306.3" y1="807.26" x2="298" y2="807.26" stroke="#000" stroke-width="1.6"/>
<line x1="83.6" y1="895.41" x2="88.3" y2="895.41" stroke="#000" stroke-width="1.6"/>
<line x1="306.3" y1="895.41" x2="301.6" y2="895.41" stroke="#000" stroke-width="1.6"/>
<line x1="83.6" y1="836.64" x2="88.3" y2="836.64" stroke="#000" stroke-width="1.6"/>
<line x1="306.3" y1="836.64" x2="301.6" y2="836.64" stroke="#000" stroke-width="1.6"/>
<line x1="83.6" y1="777.88" x2="88.3" y2="777.88" stroke="#000" stroke-width="1.6"/>
<line x1="306.3" y1="777.88" x2="301.6" y2="777.88" stroke="#000" stroke-width="1.6"/>
<line x1="142.35" y1="924.8" x2="142.35" y2="916.5" stroke="#000" stroke-width="1.6"/>
<line x1="142.35" y1="750.7" x2="142.35" y2="759" stroke="#000" stroke-width="1.6"/>
<line x1="201.1" y1="924.8" x2="201.1" y2="916.5" stroke="#000" stroke-width="1.6"/>
<line x1="201.1" y1="750.7" x2="201.1" y2="759" stroke="#000" stroke-width="1.6"/>
<line x1="259.85" y1="924.8" x2="259.85" y2="916.5" stroke="#000" stroke-width="1.6"/>
<line x1="259.85" y1="750.7" x2="259.85" y2="759" stroke="#000" stroke-width="1.6"/>
<line x1="112.97" y1="924.8" x2="112.97" y2="920.1" stroke="#000" stroke-width="1.6"/>
<line x1="112.97" y1="750.7" x2="112.97" y2="755.4" stroke="#000" stroke-width="1.6"/>
<line x1="171.72" y1="924.8" x2="171.72" y2="920.1" stroke="#000" stroke-width="1.6"/>
<line x1="171.72" y1="750.7" x2="171.72" y2="755.4" stroke="#000" stroke-width="1.6"/>
<line x1="230.47" y1="924.8" x2="230.47" y2="920.1" stroke="#000" stroke-width="1.6"/>
<line x1="230.47" y1="750.7" x2="230.47" y2="755.4" stroke="#000" stroke-width="1.6"/>
<line x1="289.23" y1="924.8" x2="289.23" y2="920.1" stroke="#000" stroke-width="1.6"/>
<line x1="289.23" y1="750.7" x2="289.23" y2="755.4" stroke="#000" stroke-width="1.6"/>
<text x="72.6" y="931.1" font-family="Liberation Sans" font-size="17.5" text-anchor="end" font-weight="normal" font-style="normal">0</text>
<text x="72.6" y="872.33" font-family="Liberation Sans" font-size="17.5" text-anchor="end" font-weight="normal" font-style="normal">30</text>
<text x="72.6" y="813.56" font-family="Liberation Sans" font-size="17.5" text-anchor="end" font-weight="normal" font-style="normal">60</text>
<text x="84.2" y="944.8" font-family="Liberation Sans" font-size="17.5" text-anchor="middle" font-weight="normal" font-style="normal">0</text>
<text x="259.6" y="944.6" font-family="Liberation Sans" font-size="17.5" text-anchor="middle" font-weight="normal" font-style="normal">15</text>
<text x="154.7" y="951.7" font-family="Liberation Sans" font-size="17.5" text-anchor="start" font-weight="normal" font-style="normal">No. cycles</text>
<text transform="translate(26.3,837.5) rotate(-90)" font-family="Liberation Sans" font-size="17.5" text-anchor="middle">Int (a.u.)</text>
<text x="102.9" y="779.9" font-family="Liberation Sans" font-size="17.5" text-anchor="start" font-weight="normal" font-style="normal">3.6 K</text>
<polyline points="83.6,888.24 85.28,881.81 86.95,876.35 88.63,871.59 90.31,867.39 91.98,863.61 93.66,860.19 95.34,857.06 97.01,854.18 98.69,851.5 100.37,849.01 102.04,846.68 103.72,844.49 105.4,842.42 107.07,840.46 108.75,838.6 110.43,836.84 112.1,835.15 113.78,833.53 115.46,831.99 117.13,830.51 118.81,829.08 120.49,827.71 122.16,826.39 123.84,825.11 125.51,823.88 127.19,822.69 128.87,821.53 130.54,820.41 132.22,819.33 133.9,818.27 135.57,817.24 137.25,816.25 138.93,815.27 140.6,814.33 142.28,813.41 143.96,812.51 145.63,811.63 147.31,810.77 148.99,809.93 150.66,809.11 152.34,808.31 154.02,807.53 155.69,806.76 157.37,806.01 159.05,805.27 160.72,804.55 162.4,803.84 164.08,803.14 165.75,802.46 167.43,801.79 169.11,801.13 170.78,800.49 172.46,799.85 174.14,799.23 175.81,798.62 177.49,798.01 179.17,797.42 180.84,796.84 182.52,796.26 184.2,795.69 185.87,795.14 187.55,794.59 189.23,794.05 190.9,793.51 192.58,792.99 194.26,792.47 195.93,791.96 197.61,791.46 199.29,790.96 200.96,790.47 202.64,789.98 204.31,789.51 205.99,789.04 207.67,788.57 209.34,788.11 211.02,787.66 212.7,787.21 214.37,786.76 216.05,786.33 217.73,785.89 219.4,785.47 221.08,785.04 222.76,784.63 224.43,784.21 226.11,783.81 227.79,783.4 229.46,783 231.14,782.61 232.82,782.22 234.49,781.83 236.17,781.45 237.85,781.07 239.52,780.69 241.2,780.32 242.88,779.95 244.55,779.59 246.23,779.23 247.91,778.87 249.58,778.52 251.26,778.17 252.94,777.82 254.61,777.48 256.29,777.14 257.97,776.8 259.64,776.47 261.32,776.14 263,775.81 264.67,775.49 266.35,775.16 268.03,774.84 269.7,774.53 271.38,774.21 273.06,773.9 274.73,773.59 276.41,773.29 278.09,772.98 279.76,772.68 281.44,772.39 283.12,772.09" fill="none" stroke="#e8205a" stroke-width="2.2" stroke-linejoin="round" stroke-linecap="round"/>
<circle cx="83.6" cy="887.9" r="4.6" fill="#ef1d5d" stroke="#000" stroke-width="1.0"/>
<circle cx="95.35" cy="858.3" r="4.6" fill="#ef1d5d" stroke="#000" stroke-width="1.0"/>
<circle cx="107.1" cy="838.6" r="4.6" fill="#ef1d5d" stroke="#000" stroke-width="1.0"/>
<circle cx="118.85" cy="830.8" r="4.6" fill="#ef1d5d" stroke="#000" stroke-width="1.0"/>
<circle cx="130.6" cy="821.8" r="4.6" fill="#ef1d5d" stroke="#000" stroke-width="1.0"/>
<circle cx="142.35" cy="812.7" r="4.6" fill="#ef1d5d" stroke="#000" stroke-width="1.0"/>
<circle cx="154.1" cy="807.1" r="4.6" fill="#ef1d5d" stroke="#000" stroke-width="1.0"/>
<circle cx="165.85" cy="801.5" r="4.6" fill="#ef1d5d" stroke="#000" stroke-width="1.0"/>
<circle cx="177.6" cy="797" r="4.6" fill="#ef1d5d" stroke="#000" stroke-width="1.0"/>
<circle cx="189.35" cy="792.8" r="4.6" fill="#ef1d5d" stroke="#000" stroke-width="1.0"/>
<circle cx="201.1" cy="790.7" r="4.6" fill="#ef1d5d" stroke="#000" stroke-width="1.0"/>
<circle cx="212.85" cy="785.8" r="4.6" fill="#ef1d5d" stroke="#000" stroke-width="1.0"/>
<circle cx="224.6" cy="784.3" r="4.6" fill="#ef1d5d" stroke="#000" stroke-width="1.0"/>
<circle cx="236.35" cy="783.2" r="4.6" fill="#ef1d5d" stroke="#000" stroke-width="1.0"/>
<circle cx="248.1" cy="779.9" r="4.6" fill="#ef1d5d" stroke="#000" stroke-width="1.0"/>
<text x="237.1" y="823.1" font-family="Liberation Sans" font-size="17.5" text-anchor="start" font-weight="normal" font-style="normal">80 mT</text>
<text x="239.3" y="891.2" font-family="Liberation Sans" font-size="17.5" text-anchor="start" font-weight="normal" font-style="normal">60 mT</text>
<polyline points="254.3,860 254.3,831.2 276.6,831.2 276.6,860" fill="none" stroke="#000" stroke-width="2.0" stroke-linejoin="round" stroke-linecap="round" stroke-linecap="butt" stroke-linejoin="miter"/>
<polygon points="249.1,858 259.5,858 254.3,873.2" fill="#000" stroke="none" stroke-width="1"/>
<polygon points="271.4,858 281.8,858 276.6,873.2" fill="#000" stroke="none" stroke-width="1"/>
<defs><filter id="bl" x="-20%" y="-20%" width="140%" height="140%"><feGaussianBlur stdDeviation="0.55"/></filter><filter id="bl2" x="-20%" y="-20%" width="140%" height="140%"><feGaussianBlur stdDeviation="0.45"/></filter></defs>
<rect x="83.7" y="968.5" width="222" height="222" fill="#d7d7d7" stroke="none" stroke-width="1"/>
<g filter="url(#bl)">
<circle cx="195.9" cy="1079.2" r="60.2" fill="none" stroke="#fff048" stroke-width="15.0"/>
<circle cx="195.9" cy="1079.2" r="60.2" fill="none" stroke="#ffb800" stroke-width="13.6"/>
<circle cx="195.9" cy="1079.2" r="60.2" fill="none" stroke="#ff5a00" stroke-width="12.4"/>
<circle cx="195.9" cy="1079.2" r="60.2" fill="none" stroke="#e81400" stroke-width="11.2"/>
<circle cx="195.9" cy="1079.2" r="60.2" fill="none" stroke="#c00000" stroke-width="9.2"/>
<circle cx="195.9" cy="1079.2" r="60.2" fill="none" stroke="#960000" stroke-width="6.6"/>
<ellipse cx="254.91" cy="1070.16" rx="8.02" ry="3.71" fill="#3c0000" fill-opacity="0.64" transform="rotate(81.29 254.91 1070.16)"/>
<ellipse cx="252.68" cy="1060.99" rx="8.33" ry="3.55" fill="#200000" fill-opacity="0.49" transform="rotate(72.21 252.68 1060.99)"/>
<ellipse cx="250.19" cy="1051.52" rx="9.51" ry="3.36" fill="#500000" fill-opacity="0.69" transform="rotate(62.98 250.19 1051.52)"/>
<ellipse cx="243.45" cy="1043.44" rx="8.27" ry="2.79" fill="#300000" fill-opacity="0.46" transform="rotate(53.06 243.45 1043.44)"/>
<ellipse cx="239.25" cy="1037.22" rx="6.59" ry="2.64" fill="#500000" fill-opacity="0.64" transform="rotate(45.92 239.25 1037.22)"/>
<ellipse cx="233.53" cy="1032.3" rx="6.55" ry="2.95" fill="#300000" fill-opacity="0.45" transform="rotate(38.75 233.53 1032.3)"/>
<ellipse cx="226.82" cy="1027.89" rx="9.99" ry="3.79" fill="#200000" fill-opacity="0.79" transform="rotate(31.08 226.82 1027.89)"/>
<ellipse cx="219.84" cy="1024.65" rx="6.8" ry="2.68" fill="#500000" fill-opacity="0.76" transform="rotate(23.7 219.84 1024.65)"/>
<ellipse cx="212.32" cy="1021.77" rx="5.8" ry="2.62" fill="#3c0000" fill-opacity="0.72" transform="rotate(15.95 212.32 1021.77)"/>
<ellipse cx="200.62" cy="1019.08" rx="7.61" ry="3.78" fill="#300000" fill-opacity="0.61" transform="rotate(4.49 200.62 1019.08)"/>
<ellipse cx="193.03" cy="1018.33" rx="8.54" ry="3" fill="#300000" fill-opacity="0.57" transform="rotate(-2.7 193.03 1018.33)"/>
<ellipse cx="182.12" cy="1020.66" rx="6.03" ry="2.9" fill="#300000" fill-opacity="0.49" transform="rotate(-13.25 182.12 1020.66)"/>
<ellipse cx="173.23" cy="1023.57" rx="8.57" ry="2.83" fill="#3c0000" fill-opacity="0.65" transform="rotate(-22.17 173.23 1023.57)"/>
<ellipse cx="164.97" cy="1026.63" rx="7.28" ry="3.79" fill="#200000" fill-opacity="0.45" transform="rotate(-30.47 164.97 1026.63)"/>
<ellipse cx="160.45" cy="1031.45" rx="6.34" ry="3.8" fill="#300000" fill-opacity="0.69" transform="rotate(-36.59 160.45 1031.45)"/>
<ellipse cx="154.61" cy="1035.64" rx="7.49" ry="2.61" fill="#200000" fill-opacity="0.69" transform="rotate(-43.47 154.61 1035.64)"/>
<ellipse cx="150" cy="1040.57" rx="6.44" ry="3.36" fill="#200000" fill-opacity="0.46" transform="rotate(-49.91 150 1040.57)"/>
<ellipse cx="144.93" cy="1048.13" rx="9.82" ry="3.18" fill="#500000" fill-opacity="0.68" transform="rotate(-58.63 144.93 1048.13)"/>
<ellipse cx="141.59" cy="1054.52" rx="9.59" ry="3.58" fill="#3c0000" fill-opacity="0.55" transform="rotate(-65.56 141.59 1054.52)"/>
<ellipse cx="137.5" cy="1063.91" rx="7.99" ry="3.42" fill="#500000" fill-opacity="0.61" transform="rotate(-75.33 137.5 1063.91)"/>
<ellipse cx="135.66" cy="1072.72" rx="5.97" ry="2.65" fill="#3c0000" fill-opacity="0.84" transform="rotate(-83.86 135.66 1072.72)"/>
<ellipse cx="135.06" cy="1081.55" rx="7.39" ry="3.69" fill="#3c0000" fill-opacity="0.65" transform="rotate(-92.21 135.06 1081.55)"/>
<ellipse cx="137.85" cy="1093.75" rx="6.07" ry="3.18" fill="#300000" fill-opacity="0.71" transform="rotate(-104.07 137.85 1093.75)"/>
<ellipse cx="141.96" cy="1105.02" rx="6.42" ry="2.62" fill="#500000" fill-opacity="0.56" transform="rotate(-115.58 141.96 1105.02)"/>
<ellipse cx="144.95" cy="1110.86" rx="6.77" ry="3.24" fill="#300000" fill-opacity="0.84" transform="rotate(-121.86 144.95 1110.86)"/>
<ellipse cx="151.91" cy="1120.51" rx="9.91" ry="3.39" fill="#3c0000" fill-opacity="0.73" transform="rotate(-133.2 151.91 1120.51)"/>
<ellipse cx="161.59" cy="1127.73" rx="7.64" ry="3.03" fill="#300000" fill-opacity="0.57" transform="rotate(-144.74 161.59 1127.73)"/>
<ellipse cx="170.33" cy="1132.95" rx="7.67" ry="3.48" fill="#300000" fill-opacity="0.58" transform="rotate(-154.56 170.33 1132.95)"/>
<ellipse cx="179.01" cy="1137.47" rx="8.82" ry="3.68" fill="#3c0000" fill-opacity="0.74" transform="rotate(-163.84 179.01 1137.47)"/>
<ellipse cx="190.94" cy="1139.91" rx="7.08" ry="3.42" fill="#500000" fill-opacity="0.81" transform="rotate(-175.33 190.94 1139.91)"/>
<ellipse cx="197.49" cy="1139.51" rx="7.75" ry="2.62" fill="#500000" fill-opacity="0.71" transform="rotate(-181.51 197.49 1139.51)"/>
<ellipse cx="207.62" cy="1138.62" rx="5.86" ry="3.37" fill="#500000" fill-opacity="0.85" transform="rotate(-191.16 207.62 1138.62)"/>
<ellipse cx="216" cy="1135.98" rx="8.81" ry="3.3" fill="#300000" fill-opacity="0.63" transform="rotate(-199.49 216 1135.98)"/>
<ellipse cx="224.7" cy="1132.06" rx="6.9" ry="2.71" fill="#300000" fill-opacity="0.46" transform="rotate(-208.58 224.7 1132.06)"/>
<ellipse cx="232.83" cy="1126.02" rx="9.64" ry="2.91" fill="#200000" fill-opacity="0.45" transform="rotate(-218.27 232.83 1126.02)"/>
<ellipse cx="240.59" cy="1119.53" rx="7.83" ry="3.5" fill="#500000" fill-opacity="0.59" transform="rotate(-227.94 240.59 1119.53)"/>
<ellipse cx="245.95" cy="1113.74" rx="7.32" ry="2.9" fill="#3c0000" fill-opacity="0.7" transform="rotate(-235.39 245.95 1113.74)"/>
<ellipse cx="249.65" cy="1105.77" rx="8.12" ry="2.98" fill="#500000" fill-opacity="0.5" transform="rotate(-243.69 249.65 1105.77)"/>
<ellipse cx="253.47" cy="1094.55" rx="5.68" ry="2.68" fill="#3c0000" fill-opacity="0.84" transform="rotate(-255.07 253.47 1094.55)"/>
<ellipse cx="256.03" cy="1085.63" rx="9.67" ry="3.6" fill="#500000" fill-opacity="0.6" transform="rotate(-263.89 256.03 1085.63)"/>
<ellipse cx="255.58" cy="1074.83" rx="9.29" ry="3.35" fill="#300000" fill-opacity="0.58" transform="rotate(-274.19 255.58 1074.83)"/>
</g>
<rect x="83.7" y="968.5" width="222" height="222" fill="none" stroke="#000" stroke-width="1.6"/>
<line x1="120.3" y1="968.5" x2="120.3" y2="976.8" stroke="#000" stroke-width="1.6"/>
<line x1="120.3" y1="1190.5" x2="120.3" y2="1182.2" stroke="#000" stroke-width="1.6"/>
<line x1="83.7" y1="1004.2" x2="92" y2="1004.2" stroke="#000" stroke-width="1.6"/>
<line x1="305.7" y1="1004.2" x2="297.4" y2="1004.2" stroke="#000" stroke-width="1.6"/>
<line x1="195.3" y1="968.5" x2="195.3" y2="976.8" stroke="#000" stroke-width="1.6"/>
<line x1="195.3" y1="1190.5" x2="195.3" y2="1182.2" stroke="#000" stroke-width="1.6"/>
<line x1="83.7" y1="1079.2" x2="92" y2="1079.2" stroke="#000" stroke-width="1.6"/>
<line x1="305.7" y1="1079.2" x2="297.4" y2="1079.2" stroke="#000" stroke-width="1.6"/>
<line x1="270.3" y1="968.5" x2="270.3" y2="976.8" stroke="#000" stroke-width="1.6"/>
<line x1="270.3" y1="1190.5" x2="270.3" y2="1182.2" stroke="#000" stroke-width="1.6"/>
<line x1="83.7" y1="1154.2" x2="92" y2="1154.2" stroke="#000" stroke-width="1.6"/>
<line x1="305.7" y1="1154.2" x2="297.4" y2="1154.2" stroke="#000" stroke-width="1.6"/>
<text x="72.6" y="1010.5" font-family="Liberation Sans" font-size="17.5" text-anchor="end" font-weight="normal" font-style="normal">0.01</text>
<text x="72.6" y="1085.5" font-family="Liberation Sans" font-size="17.5" text-anchor="end" font-weight="normal" font-style="normal">0</text>
<text x="72.6" y="1160.5" font-family="Liberation Sans" font-size="17.5" text-anchor="end" font-weight="normal" font-style="normal">−0.01</text>
<text transform="translate(19,1079.2) rotate(-90)" font-family="Liberation Sans" font-size="17.5" text-anchor="middle"><tspan font-style="italic">Q</tspan><tspan font-style="italic" font-size="13" dy="4">y</tspan><tspan dy="-4"> (Å</tspan><tspan dy="-7" font-size="12">−1</tspan><tspan dy="7">)</tspan></text>
<line x1="195.3" y1="1079.2" x2="127.99" y2="1027.54" stroke="#000" stroke-width="2.1"/>
<polygon points="115.3,1017.8 134.76,1023.66 128.79,1028.15 125.99,1035.08" fill="#000" stroke="none" stroke-width="1"/>
<line x1="195.3" y1="1079.2" x2="246.64" y2="1011.36" stroke="#000" stroke-width="2.1"/>
<polygon points="256.3,998.6 250.58,1018.1 246.04,1012.16 239.09,1009.41" fill="#000" stroke="none" stroke-width="1"/>
<polyline points="194.8,1079.7 195.3,1079.2 195.8,1079.7" fill="none" stroke="#000" stroke-width="1.9" stroke-linejoin="round" stroke-linecap="round"/>
<text x="90" y="1052.3" font-family="Liberation Sans" font-size="17.5" text-anchor="start" font-weight="normal" font-style="normal">[100]</text>
<text x="206.9" y="997" font-family="Liberation Sans" font-size="17.5" text-anchor="start" font-weight="normal" font-style="normal">[010]</text>
<circle cx="113.8" cy="993.7" r="9.2" fill="none" stroke="#000" stroke-width="1.4"/>
<line x1="107.29" y1="987.19" x2="120.31" y2="1000.21" stroke="#000" stroke-width="1.3"/>
<line x1="107.29" y1="1000.21" x2="120.31" y2="987.19" stroke="#000" stroke-width="1.3"/>
<text x="130.2" y="998.6" font-family="Liberation Sans" font-size="17.5" text-anchor="start" font-weight="bold" font-style="normal">B</text>
<text x="289.9" y="1154.8" font-family="Liberation Sans" font-size="17.5" text-anchor="end" font-weight="normal" font-style="normal">3.6 K</text>
<text x="289.9" y="1174.9" font-family="Liberation Sans" font-size="17.5" text-anchor="end" font-weight="normal" font-style="normal">60 mT</text>
<text x="96.8" y="1174.9" font-family="Liberation Serif" font-size="19" font-style="italic">ϕ<tspan font-style="normal" font-family="Liberation Sans" font-size="17.5" dx="3">=</tspan><tspan dx="3">ω</tspan><tspan font-style="normal" font-family="Liberation Sans" font-size="17.5" dx="3">=</tspan><tspan font-style="normal" font-family="Liberation Sans" font-size="17.5" dx="3">0</tspan></text>
<rect x="83.7" y="1203.4" width="222" height="222" fill="#d7d7d7" stroke="none" stroke-width="1"/>
<g filter="url(#bl2)">
<path d="M257.92,1314.4 A62.32,62.32 0 0 0 257.86,1311.57" fill="none" stroke="#fff25a" stroke-width="7.91"/>
<path d="M257.76,1312.23 A62.19,62.19 0 0 0 257.59,1309.41" fill="none" stroke="#fff25a" stroke-width="8.24"/>
<path d="M257.48,1310.07 A62.03,62.03 0 0 0 257.22,1307.27" fill="none" stroke="#fff25a" stroke-width="8.66"/>
<path d="M257.09,1307.94 A61.83,61.83 0 0 0 256.74,1305.15" fill="none" stroke="#fff25a" stroke-width="9.16"/>
<path d="M256.61,1305.83 A61.61,61.61 0 0 0 256.16,1303.07" fill="none" stroke="#fff25a" stroke-width="9.73"/>
<path d="M256.05,1303.74 A61.38,61.38 0 0 0 255.5,1301.01" fill="none" stroke="#fff25a" stroke-width="10.31"/>
<path d="M255.43,1301.68 A61.17,61.17 0 0 0 254.79,1298.98" fill="none" stroke="#fff25a" stroke-width="10.87"/>
<path d="M254.77,1299.65 A60.98,60.98 0 0 0 254.04,1296.98" fill="none" stroke="#fff25a" stroke-width="11.33"/>
<path d="M254.1,1297.63 A60.86,60.86 0 0 0 253.28,1294.99" fill="none" stroke="#fff25a" stroke-width="11.66"/>
<path d="M253.43,1295.61 A60.8,60.8 0 0 0 252.51,1293.01" fill="none" stroke="#fff25a" stroke-width="11.8"/>
<path d="M252.76,1293.6 A60.83,60.83 0 0 0 251.75,1291.03" fill="none" stroke="#fff25a" stroke-width="11.74"/>
<path d="M252.09,1291.58 A60.92,60.92 0 0 0 250.99,1289.04" fill="none" stroke="#fff25a" stroke-width="11.48"/>
<path d="M251.41,1289.55 A61.09,61.09 0 0 0 250.22,1287.05" fill="none" stroke="#fff25a" stroke-width="11.07"/>
<path d="M250.69,1287.53 A61.29,61.29 0 0 0 249.41,1285.06" fill="none" stroke="#fff25a" stroke-width="10.54"/>
<path d="M249.92,1285.52 A61.52,61.52 0 0 0 248.55,1283.08" fill="none" stroke="#fff25a" stroke-width="9.96"/>
<path d="M249.07,1283.53 A61.75,61.75 0 0 0 247.62,1281.13" fill="none" stroke="#fff25a" stroke-width="9.38"/>
<path d="M248.14,1281.57 A61.95,61.95 0 0 0 246.6,1279.22" fill="none" stroke="#fff25a" stroke-width="8.85"/>
<path d="M247.11,1279.66 A62.13,62.13 0 0 0 245.48,1277.36" fill="none" stroke="#fff25a" stroke-width="8.39"/>
<path d="M245.98,1277.79 A62.28,62.28 0 0 0 244.27,1275.55" fill="none" stroke="#fff25a" stroke-width="8.03"/>
<path d="M244.76,1275.99 A62.39,62.39 0 0 0 242.97,1273.8" fill="none" stroke="#fff25a" stroke-width="7.75"/>
<path d="M243.45,1274.25 A62.46,62.46 0 0 0 241.58,1272.12" fill="none" stroke="#fff25a" stroke-width="7.55"/>
<path d="M242.06,1272.57 A62.52,62.52 0 0 0 240.11,1270.5" fill="none" stroke="#fff25a" stroke-width="7.41"/>
<path d="M240.6,1270.95 A62.55,62.55 0 0 0 238.58,1268.95" fill="none" stroke="#fff25a" stroke-width="7.32"/>
<path d="M239.07,1269.39 A62.57,62.57 0 0 0 236.98,1267.46" fill="none" stroke="#fff25a" stroke-width="7.27"/>
<path d="M237.48,1267.89 A62.58,62.58 0 0 0 235.32,1266.04" fill="none" stroke="#fff25a" stroke-width="7.24"/>
<path d="M235.83,1266.46 A62.59,62.59 0 0 0 233.61,1264.68" fill="none" stroke="#fff25a" stroke-width="7.23"/>
<path d="M234.13,1265.08 A62.58,62.58 0 0 0 231.85,1263.39" fill="none" stroke="#fff25a" stroke-width="7.24"/>
<path d="M232.38,1263.78 A62.58,62.58 0 0 0 230.05,1262.16" fill="none" stroke="#fff25a" stroke-width="7.26"/>
<path d="M230.58,1262.54 A62.56,62.56 0 0 0 228.19,1261" fill="none" stroke="#fff25a" stroke-width="7.31"/>
<path d="M228.73,1261.38 A62.53,62.53 0 0 0 226.29,1259.93" fill="none" stroke="#fff25a" stroke-width="7.39"/>
<path d="M226.84,1260.29 A62.48,62.48 0 0 0 224.35,1258.93" fill="none" stroke="#fff25a" stroke-width="7.52"/>
<path d="M224.9,1259.3 A62.4,62.4 0 0 0 222.37,1258.03" fill="none" stroke="#fff25a" stroke-width="7.7"/>
<path d="M222.91,1258.4 A62.3,62.3 0 0 0 220.34,1257.22" fill="none" stroke="#fff25a" stroke-width="7.96"/>
<path d="M220.88,1257.61 A62.16,62.16 0 0 0 218.28,1256.52" fill="none" stroke="#fff25a" stroke-width="8.31"/>
<path d="M218.82,1256.92 A61.99,61.99 0 0 0 216.19,1255.93" fill="none" stroke="#fff25a" stroke-width="8.75"/>
<path d="M216.73,1256.34 A61.79,61.79 0 0 0 214.08,1255.44" fill="none" stroke="#fff25a" stroke-width="9.27"/>
<path d="M214.62,1255.85 A61.57,61.57 0 0 0 211.95,1255.04" fill="none" stroke="#fff25a" stroke-width="9.84"/>
<path d="M212.51,1255.44 A61.34,61.34 0 0 0 209.81,1254.73" fill="none" stroke="#fff25a" stroke-width="10.43"/>
<path d="M210.39,1255.09 A61.13,61.13 0 0 0 207.68,1254.48" fill="none" stroke="#fff25a" stroke-width="10.97"/>
<path d="M208.27,1254.78 A60.95,60.95 0 0 0 205.56,1254.27" fill="none" stroke="#fff25a" stroke-width="11.41"/>
<path d="M206.16,1254.48 A60.84,60.84 0 0 0 203.44,1254.07" fill="none" stroke="#fff25a" stroke-width="11.7"/>
<path d="M204.06,1254.19 A60.8,60.8 0 0 0 201.32,1253.87" fill="none" stroke="#fff25a" stroke-width="11.8"/>
<path d="M201.96,1253.89 A60.84,60.84 0 0 0 199.21,1253.67" fill="none" stroke="#fff25a" stroke-width="11.7"/>
<path d="M199.85,1253.6 A60.95,60.95 0 0 0 197.09,1253.47" fill="none" stroke="#fff25a" stroke-width="11.41"/>
<path d="M197.73,1253.31 A61.13,61.13 0 0 0 194.96,1253.28" fill="none" stroke="#fff25a" stroke-width="10.97"/>
<path d="M195.6,1253.06 A61.34,61.34 0 0 0 192.82,1253.13" fill="none" stroke="#fff25a" stroke-width="10.43"/>
<path d="M193.45,1252.87 A61.57,61.57 0 0 0 190.66,1253.03" fill="none" stroke="#fff25a" stroke-width="9.84"/>
<path d="M191.29,1252.76 A61.79,61.79 0 0 0 188.5,1253.02" fill="none" stroke="#fff25a" stroke-width="9.27"/>
<path d="M189.12,1252.75 A61.99,61.99 0 0 0 186.33,1253.1" fill="none" stroke="#fff25a" stroke-width="8.75"/>
<path d="M186.95,1252.84 A62.16,62.16 0 0 0 184.16,1253.3" fill="none" stroke="#fff25a" stroke-width="8.31"/>
<path d="M184.78,1253.05 A62.3,62.3 0 0 0 182.01,1253.6" fill="none" stroke="#fff25a" stroke-width="7.96"/>
<path d="M182.63,1253.36 A62.4,62.4 0 0 0 179.87,1254.01" fill="none" stroke="#fff25a" stroke-width="7.7"/>
<path d="M180.49,1253.78 A62.48,62.48 0 0 0 177.75,1254.53" fill="none" stroke="#fff25a" stroke-width="7.52"/>
<path d="M178.37,1254.3 A62.53,62.53 0 0 0 175.66,1255.14" fill="none" stroke="#fff25a" stroke-width="7.39"/>
<path d="M176.27,1254.91 A62.56,62.56 0 0 0 173.59,1255.84" fill="none" stroke="#fff25a" stroke-width="7.31"/>
<path d="M174.2,1255.6 A62.57,62.57 0 0 0 171.55,1256.63" fill="none" stroke="#fff25a" stroke-width="7.27"/>
<path d="M172.16,1256.38 A62.58,62.58 0 0 0 169.55,1257.5" fill="none" stroke="#fff25a" stroke-width="7.25"/>
<path d="M170.15,1257.23 A62.58,62.58 0 0 0 167.58,1258.44" fill="none" stroke="#fff25a" stroke-width="7.25"/>
<path d="M168.17,1258.16 A62.57,62.57 0 0 0 165.65,1259.47" fill="none" stroke="#fff25a" stroke-width="7.28"/>
<path d="M166.24,1259.17 A62.55,62.55 0 0 0 163.76,1260.56" fill="none" stroke="#fff25a" stroke-width="7.33"/>
<path d="M164.34,1260.26 A62.51,62.51 0 0 0 161.92,1261.74" fill="none" stroke="#fff25a" stroke-width="7.42"/>
<path d="M162.5,1261.43 A62.46,62.46 0 0 0 160.13,1262.99" fill="none" stroke="#fff25a" stroke-width="7.56"/>
<path d="M160.72,1262.69 A62.38,62.38 0 0 0 158.41,1264.32" fill="none" stroke="#fff25a" stroke-width="7.77"/>
<path d="M159,1264.03 A62.26,62.26 0 0 0 156.76,1265.74" fill="none" stroke="#fff25a" stroke-width="8.06"/>
<path d="M157.36,1265.45 A62.12,62.12 0 0 0 155.18,1267.24" fill="none" stroke="#fff25a" stroke-width="8.44"/>
<path d="M155.79,1266.96 A61.93,61.93 0 0 0 153.68,1268.81" fill="none" stroke="#fff25a" stroke-width="8.9"/>
<path d="M154.3,1268.53 A61.72,61.72 0 0 0 152.26,1270.45" fill="none" stroke="#fff25a" stroke-width="9.44"/>
<path d="M152.88,1270.16 A61.5,61.5 0 0 0 150.92,1272.15" fill="none" stroke="#fff25a" stroke-width="10.02"/>
<path d="M151.53,1271.84 A61.27,61.27 0 0 0 149.64,1273.88" fill="none" stroke="#fff25a" stroke-width="10.6"/>
<path d="M150.22,1273.54 A61.07,61.07 0 0 0 148.41,1275.64" fill="none" stroke="#fff25a" stroke-width="11.11"/>
<path d="M148.94,1275.25 A60.91,60.91 0 0 0 147.21,1277.4" fill="none" stroke="#fff25a" stroke-width="11.51"/>
<path d="M147.67,1276.96 A60.82,60.82 0 0 0 146.02,1279.17" fill="none" stroke="#fff25a" stroke-width="11.75"/>
<path d="M146.41,1278.66 A60.8,60.8 0 0 0 144.84,1280.93" fill="none" stroke="#fff25a" stroke-width="11.79"/>
<path d="M145.14,1280.36 A60.87,60.87 0 0 0 143.65,1282.69" fill="none" stroke="#fff25a" stroke-width="11.63"/>
<path d="M143.87,1282.08 A61,61 0 0 0 142.46,1284.46" fill="none" stroke="#fff25a" stroke-width="11.29"/>
<path d="M142.61,1283.81 A61.19,61.19 0 0 0 141.28,1286.24" fill="none" stroke="#fff25a" stroke-width="10.81"/>
<path d="M141.38,1285.57 A61.41,61.41 0 0 0 140.13,1288.06" fill="none" stroke="#fff25a" stroke-width="10.25"/>
<path d="M140.2,1287.38 A61.63,61.63 0 0 0 139.04,1289.92" fill="none" stroke="#fff25a" stroke-width="9.67"/>
<path d="M139.09,1289.24 A61.85,61.85 0 0 0 138.01,1291.83" fill="none" stroke="#fff25a" stroke-width="9.11"/>
<path d="M138.07,1291.16 A62.05,62.05 0 0 0 137.08,1293.79" fill="none" stroke="#fff25a" stroke-width="8.61"/>
<path d="M137.14,1293.12 A62.21,62.21 0 0 0 136.24,1295.8" fill="none" stroke="#fff25a" stroke-width="8.2"/>
<path d="M136.32,1295.14 A62.33,62.33 0 0 0 135.5,1297.85" fill="none" stroke="#fff25a" stroke-width="7.88"/>
<path d="M135.59,1297.19 A62.43,62.43 0 0 0 134.87,1299.93" fill="none" stroke="#fff25a" stroke-width="7.65"/>
<path d="M134.97,1299.28 A62.49,62.49 0 0 0 134.34,1302.05" fill="none" stroke="#fff25a" stroke-width="7.49"/>
<path d="M134.44,1301.4 A62.53,62.53 0 0 0 133.91,1304.19" fill="none" stroke="#fff25a" stroke-width="7.39"/>
<path d="M134.01,1303.54 A62.54,62.54 0 0 0 133.58,1306.34" fill="none" stroke="#fff25a" stroke-width="7.35"/>
<path d="M133.67,1305.7 A62.54,62.54 0 0 0 133.34,1308.51" fill="none" stroke="#fff25a" stroke-width="7.35"/>
<path d="M133.42,1307.86 A62.52,62.52 0 0 0 133.19,1310.69" fill="none" stroke="#fff25a" stroke-width="7.4"/>
<path d="M133.27,1310.04 A62.48,62.48 0 0 0 133.14,1312.87" fill="none" stroke="#fff25a" stroke-width="7.51"/>
<path d="M133.22,1312.22 A62.41,62.41 0 0 0 133.19,1315.05" fill="none" stroke="#fff25a" stroke-width="7.68"/>
<path d="M133.28,1314.4 A62.32,62.32 0 0 0 133.35,1317.23" fill="none" stroke="#fff25a" stroke-width="7.92"/>
<path d="M133.45,1316.57 A62.19,62.19 0 0 0 133.61,1319.39" fill="none" stroke="#fff25a" stroke-width="8.26"/>
<path d="M133.73,1318.73 A62.02,62.02 0 0 0 133.99,1321.53" fill="none" stroke="#fff25a" stroke-width="8.68"/>
<path d="M134.12,1320.86 A61.82,61.82 0 0 0 134.47,1323.64" fill="none" stroke="#fff25a" stroke-width="9.19"/>
<path d="M134.6,1322.97 A61.6,61.6 0 0 0 135.05,1325.73" fill="none" stroke="#fff25a" stroke-width="9.76"/>
<path d="M135.16,1325.06 A61.37,61.37 0 0 0 135.71,1327.79" fill="none" stroke="#fff25a" stroke-width="10.34"/>
<path d="M135.78,1327.11 A61.16,61.16 0 0 0 136.42,1329.82" fill="none" stroke="#fff25a" stroke-width="10.89"/>
<path d="M136.44,1329.15 A60.98,60.98 0 0 0 137.17,1331.82" fill="none" stroke="#fff25a" stroke-width="11.35"/>
<path d="M137.11,1331.17 A60.85,60.85 0 0 0 137.93,1333.81" fill="none" stroke="#fff25a" stroke-width="11.67"/>
<path d="M137.77,1333.19 A60.8,60.8 0 0 0 138.69,1335.79" fill="none" stroke="#fff25a" stroke-width="11.8"/>
<path d="M138.44,1335.2 A60.83,60.83 0 0 0 139.44,1337.78" fill="none" stroke="#fff25a" stroke-width="11.73"/>
<path d="M139.11,1337.23 A60.93,60.93 0 0 0 140.2,1339.76" fill="none" stroke="#fff25a" stroke-width="11.46"/>
<path d="M139.79,1339.25 A61.1,61.1 0 0 0 140.97,1341.76" fill="none" stroke="#fff25a" stroke-width="11.04"/>
<path d="M140.5,1341.27 A61.3,61.3 0 0 0 141.78,1343.75" fill="none" stroke="#fff25a" stroke-width="10.51"/>
<path d="M141.27,1343.29 A61.53,61.53 0 0 0 142.64,1345.72" fill="none" stroke="#fff25a" stroke-width="9.93"/>
<path d="M142.12,1345.28 A61.76,61.76 0 0 0 143.57,1347.67" fill="none" stroke="#fff25a" stroke-width="9.35"/>
<path d="M143.05,1347.24 A61.96,61.96 0 0 0 144.6,1349.59" fill="none" stroke="#fff25a" stroke-width="8.83"/>
<path d="M144.08,1349.15 A62.14,62.14 0 0 0 145.71,1351.45" fill="none" stroke="#fff25a" stroke-width="8.37"/>
<path d="M145.21,1351.01 A62.28,62.28 0 0 0 146.92,1353.26" fill="none" stroke="#fff25a" stroke-width="8.01"/>
<path d="M146.44,1352.81 A62.39,62.39 0 0 0 148.23,1355" fill="none" stroke="#fff25a" stroke-width="7.74"/>
<path d="M147.75,1354.55 A62.47,62.47 0 0 0 149.62,1356.68" fill="none" stroke="#fff25a" stroke-width="7.54"/>
<path d="M149.14,1356.23 A62.52,62.52 0 0 0 151.08,1358.3" fill="none" stroke="#fff25a" stroke-width="7.41"/>
<path d="M150.6,1357.85 A62.55,62.55 0 0 0 152.62,1359.85" fill="none" stroke="#fff25a" stroke-width="7.32"/>
<path d="M152.13,1359.41 A62.57,62.57 0 0 0 154.22,1361.34" fill="none" stroke="#fff25a" stroke-width="7.27"/>
<path d="M153.72,1360.91 A62.58,62.58 0 0 0 155.88,1362.76" fill="none" stroke="#fff25a" stroke-width="7.24"/>
<path d="M155.37,1362.35 A62.59,62.59 0 0 0 157.58,1364.12" fill="none" stroke="#fff25a" stroke-width="7.23"/>
<path d="M157.07,1363.72 A62.59,62.59 0 0 0 159.34,1365.42" fill="none" stroke="#fff25a" stroke-width="7.23"/>
<path d="M158.81,1365.03 A62.58,62.58 0 0 0 161.15,1366.65" fill="none" stroke="#fff25a" stroke-width="7.24"/>
<path d="M160.61,1366.27 A62.57,62.57 0 0 0 163,1367.81" fill="none" stroke="#fff25a" stroke-width="7.28"/>
<path d="M162.46,1367.44 A62.55,62.55 0 0 0 164.9,1368.89" fill="none" stroke="#fff25a" stroke-width="7.34"/>
<path d="M164.35,1368.53 A62.51,62.51 0 0 0 166.83,1369.9" fill="none" stroke="#fff25a" stroke-width="7.43"/>
<path d="M166.28,1369.54 A62.45,62.45 0 0 0 168.81,1370.81" fill="none" stroke="#fff25a" stroke-width="7.58"/>
<path d="M168.26,1370.45 A62.37,62.37 0 0 0 170.83,1371.64" fill="none" stroke="#fff25a" stroke-width="7.8"/>
<path d="M170.28,1371.27 A62.25,62.25 0 0 0 172.89,1372.36" fill="none" stroke="#fff25a" stroke-width="8.09"/>
<path d="M172.34,1371.98 A62.1,62.1 0 0 0 174.97,1372.97" fill="none" stroke="#fff25a" stroke-width="8.48"/>
<path d="M174.42,1372.58 A61.91,61.91 0 0 0 177.09,1373.48" fill="none" stroke="#fff25a" stroke-width="8.95"/>
<path d="M176.53,1373.08 A61.7,61.7 0 0 0 179.21,1373.89" fill="none" stroke="#fff25a" stroke-width="9.5"/>
<path d="M178.66,1373.49 A61.47,61.47 0 0 0 181.35,1374.2" fill="none" stroke="#fff25a" stroke-width="10.08"/>
<path d="M180.78,1373.83 A61.25,61.25 0 0 0 183.49,1374.44" fill="none" stroke="#fff25a" stroke-width="10.65"/>
<path d="M182.91,1374.12 A61.05,61.05 0 0 0 185.63,1374.63" fill="none" stroke="#fff25a" stroke-width="11.16"/>
<path d="M185.02,1374.37 A60.9,60.9 0 0 0 187.76,1374.79" fill="none" stroke="#fff25a" stroke-width="11.55"/>
<path d="M187.14,1374.62 A60.81,60.81 0 0 0 189.88,1374.94" fill="none" stroke="#fff25a" stroke-width="11.76"/>
<path d="M189.24,1374.87 A60.81,60.81 0 0 0 191.99,1375.1" fill="none" stroke="#fff25a" stroke-width="11.78"/>
<path d="M191.35,1375.13 A60.88,60.88 0 0 0 194.11,1375.26" fill="none" stroke="#fff25a" stroke-width="11.6"/>
<path d="M193.47,1375.38 A61.02,61.02 0 0 0 196.24,1375.41" fill="none" stroke="#fff25a" stroke-width="11.25"/>
<path d="M195.6,1375.61 A61.21,61.21 0 0 0 198.38,1375.54" fill="none" stroke="#fff25a" stroke-width="10.76"/>
<path d="M197.74,1375.79 A61.43,61.43 0 0 0 200.53,1375.63" fill="none" stroke="#fff25a" stroke-width="10.2"/>
<path d="M199.9,1375.91 A61.66,61.66 0 0 0 202.69,1375.65" fill="none" stroke="#fff25a" stroke-width="9.61"/>
<path d="M202.07,1375.93 A61.87,61.87 0 0 0 204.85,1375.58" fill="none" stroke="#fff25a" stroke-width="9.06"/>
<path d="M204.24,1375.86 A62.07,62.07 0 0 0 207.02,1375.41" fill="none" stroke="#fff25a" stroke-width="8.57"/>
<path d="M206.4,1375.68 A62.22,62.22 0 0 0 209.17,1375.12" fill="none" stroke="#fff25a" stroke-width="8.16"/>
<path d="M208.56,1375.38 A62.35,62.35 0 0 0 211.32,1374.73" fill="none" stroke="#fff25a" stroke-width="7.85"/>
<path d="M210.7,1374.98 A62.44,62.44 0 0 0 213.44,1374.23" fill="none" stroke="#fff25a" stroke-width="7.62"/>
<path d="M212.83,1374.48 A62.5,62.5 0 0 0 215.53,1373.63" fill="none" stroke="#fff25a" stroke-width="7.46"/>
<path d="M214.93,1373.88 A62.54,62.54 0 0 0 217.6,1372.94" fill="none" stroke="#fff25a" stroke-width="7.36"/>
<path d="M217,1373.19 A62.56,62.56 0 0 0 219.64,1372.16" fill="none" stroke="#fff25a" stroke-width="7.3"/>
<path d="M219.04,1372.42 A62.57,62.57 0 0 0 221.65,1371.29" fill="none" stroke="#fff25a" stroke-width="7.27"/>
<path d="M221.05,1371.56 A62.57,62.57 0 0 0 223.62,1370.35" fill="none" stroke="#fff25a" stroke-width="7.27"/>
<path d="M223.03,1370.63 A62.56,62.56 0 0 0 225.55,1369.33" fill="none" stroke="#fff25a" stroke-width="7.29"/>
<path d="M224.96,1369.62 A62.54,62.54 0 0 0 227.44,1368.23" fill="none" stroke="#fff25a" stroke-width="7.35"/>
<path d="M226.85,1368.53 A62.5,62.5 0 0 0 229.27,1367.06" fill="none" stroke="#fff25a" stroke-width="7.45"/>
<path d="M228.69,1367.35 A62.44,62.44 0 0 0 231.06,1365.8" fill="none" stroke="#fff25a" stroke-width="7.6"/>
<path d="M230.47,1366.1 A62.36,62.36 0 0 0 232.78,1364.46" fill="none" stroke="#fff25a" stroke-width="7.82"/>
<path d="M232.18,1364.75 A62.24,62.24 0 0 0 234.43,1363.04" fill="none" stroke="#fff25a" stroke-width="8.13"/>
<path d="M233.82,1363.32 A62.08,62.08 0 0 0 236,1361.54" fill="none" stroke="#fff25a" stroke-width="8.52"/>
<path d="M235.38,1361.81 A61.89,61.89 0 0 0 237.49,1359.96" fill="none" stroke="#fff25a" stroke-width="9"/>
<path d="M236.87,1360.24 A61.68,61.68 0 0 0 238.91,1358.32" fill="none" stroke="#fff25a" stroke-width="9.55"/>
<path d="M238.29,1358.6 A61.45,61.45 0 0 0 240.25,1356.62" fill="none" stroke="#fff25a" stroke-width="10.14"/>
<path d="M239.64,1356.93 A61.23,61.23 0 0 0 241.53,1354.89" fill="none" stroke="#fff25a" stroke-width="10.71"/>
<path d="M240.96,1355.24 A61.03,61.03 0 0 0 242.76,1353.14" fill="none" stroke="#fff25a" stroke-width="11.21"/>
<path d="M242.24,1353.54 A60.89,60.89 0 0 0 243.97,1351.38" fill="none" stroke="#fff25a" stroke-width="11.58"/>
<path d="M243.52,1351.84 A60.81,60.81 0 0 0 245.17,1349.63" fill="none" stroke="#fff25a" stroke-width="11.77"/>
<path d="M244.8,1350.14 A60.81,60.81 0 0 0 246.37,1347.87" fill="none" stroke="#fff25a" stroke-width="11.77"/>
<path d="M246.08,1348.45 A60.89,60.89 0 0 0 247.57,1346.12" fill="none" stroke="#fff25a" stroke-width="11.58"/>
<path d="M247.36,1346.74 A61.03,61.03 0 0 0 248.77,1344.36" fill="none" stroke="#fff25a" stroke-width="11.21"/>
<path d="M248.62,1345.01 A61.23,61.23 0 0 0 249.96,1342.58" fill="none" stroke="#fff25a" stroke-width="10.71"/>
<path d="M249.86,1343.25 A61.45,61.45 0 0 0 251.11,1340.76" fill="none" stroke="#fff25a" stroke-width="10.14"/>
<path d="M251.04,1341.44 A61.68,61.68 0 0 0 252.21,1338.9" fill="none" stroke="#fff25a" stroke-width="9.55"/>
<path d="M252.14,1339.57 A61.89,61.89 0 0 0 253.23,1336.98" fill="none" stroke="#fff25a" stroke-width="9"/>
<path d="M253.16,1337.66 A62.08,62.08 0 0 0 254.16,1335.02" fill="none" stroke="#fff25a" stroke-width="8.52"/>
<path d="M254.08,1335.69 A62.24,62.24 0 0 0 254.99,1333.01" fill="none" stroke="#fff25a" stroke-width="8.13"/>
<path d="M254.9,1333.67 A62.36,62.36 0 0 0 255.72,1330.96" fill="none" stroke="#fff25a" stroke-width="7.83"/>
<path d="M255.62,1331.61 A62.44,62.44 0 0 0 256.34,1328.87" fill="none" stroke="#fff25a" stroke-width="7.61"/>
<path d="M256.24,1329.52 A62.5,62.5 0 0 0 256.87,1326.75" fill="none" stroke="#fff25a" stroke-width="7.46"/>
<path d="M256.77,1327.4 A62.53,62.53 0 0 0 257.29,1324.61" fill="none" stroke="#fff25a" stroke-width="7.37"/>
<path d="M257.2,1325.26 A62.55,62.55 0 0 0 257.63,1322.46" fill="none" stroke="#fff25a" stroke-width="7.33"/>
<path d="M257.54,1323.1 A62.55,62.55 0 0 0 257.87,1320.29" fill="none" stroke="#fff25a" stroke-width="7.34"/>
<path d="M257.78,1320.94 A62.52,62.52 0 0 0 258.01,1318.11" fill="none" stroke="#fff25a" stroke-width="7.39"/>
<path d="M257.93,1318.76 A62.48,62.48 0 0 0 258.07,1315.93" fill="none" stroke="#fff25a" stroke-width="7.5"/>
<path d="M257.98,1316.58 A62.42,62.42 0 0 0 258.02,1313.75" fill="none" stroke="#fff25a" stroke-width="7.66"/>
<path d="M257.92,1314.4 A62.32,62.32 0 0 0 257.86,1311.57" fill="none" stroke="#ffcc00" stroke-width="6.03"/>
<path d="M257.76,1312.23 A62.19,62.19 0 0 0 257.59,1309.41" fill="none" stroke="#ffcc00" stroke-width="6.42"/>
<path d="M257.48,1310.07 A62.03,62.03 0 0 0 257.22,1307.27" fill="none" stroke="#ffcc00" stroke-width="6.91"/>
<path d="M257.09,1307.94 A61.83,61.83 0 0 0 256.74,1305.15" fill="none" stroke="#ffcc00" stroke-width="7.5"/>
<path d="M256.61,1305.83 A61.61,61.61 0 0 0 256.16,1303.07" fill="none" stroke="#ffcc00" stroke-width="8.17"/>
<path d="M256.05,1303.74 A61.38,61.38 0 0 0 255.5,1301.01" fill="none" stroke="#ffcc00" stroke-width="8.85"/>
<path d="M255.43,1301.68 A61.17,61.17 0 0 0 254.79,1298.98" fill="none" stroke="#ffcc00" stroke-width="9.5"/>
<path d="M254.77,1299.65 A60.98,60.98 0 0 0 254.04,1296.98" fill="none" stroke="#ffcc00" stroke-width="10.05"/>
<path d="M254.1,1297.63 A60.86,60.86 0 0 0 253.28,1294.99" fill="none" stroke="#ffcc00" stroke-width="10.43"/>
<path d="M253.43,1295.61 A60.8,60.8 0 0 0 252.51,1293.01" fill="none" stroke="#ffcc00" stroke-width="10.6"/>
<path d="M252.76,1293.6 A60.83,60.83 0 0 0 251.75,1291.03" fill="none" stroke="#ffcc00" stroke-width="10.52"/>
<path d="M252.09,1291.58 A60.92,60.92 0 0 0 250.99,1289.04" fill="none" stroke="#ffcc00" stroke-width="10.23"/>
<path d="M251.41,1289.55 A61.09,61.09 0 0 0 250.22,1287.05" fill="none" stroke="#ffcc00" stroke-width="9.74"/>
<path d="M250.69,1287.53 A61.29,61.29 0 0 0 249.41,1285.06" fill="none" stroke="#ffcc00" stroke-width="9.12"/>
<path d="M249.92,1285.52 A61.52,61.52 0 0 0 248.55,1283.08" fill="none" stroke="#ffcc00" stroke-width="8.44"/>
<path d="M249.07,1283.53 A61.75,61.75 0 0 0 247.62,1281.13" fill="none" stroke="#ffcc00" stroke-width="7.76"/>
<path d="M248.14,1281.57 A61.95,61.95 0 0 0 246.6,1279.22" fill="none" stroke="#ffcc00" stroke-width="7.14"/>
<path d="M247.11,1279.66 A62.13,62.13 0 0 0 245.48,1277.36" fill="none" stroke="#ffcc00" stroke-width="6.6"/>
<path d="M245.98,1277.79 A62.28,62.28 0 0 0 244.27,1275.55" fill="none" stroke="#ffcc00" stroke-width="6.17"/>
<path d="M244.76,1275.99 A62.39,62.39 0 0 0 242.97,1273.8" fill="none" stroke="#ffcc00" stroke-width="5.84"/>
<path d="M243.45,1274.25 A62.46,62.46 0 0 0 241.58,1272.12" fill="none" stroke="#ffcc00" stroke-width="5.61"/>
<path d="M242.06,1272.57 A62.52,62.52 0 0 0 240.11,1270.5" fill="none" stroke="#ffcc00" stroke-width="5.45"/>
<path d="M240.6,1270.95 A62.55,62.55 0 0 0 238.58,1268.95" fill="none" stroke="#ffcc00" stroke-width="5.34"/>
<path d="M239.07,1269.39 A62.57,62.57 0 0 0 236.98,1267.46" fill="none" stroke="#ffcc00" stroke-width="5.28"/>
<path d="M237.48,1267.89 A62.58,62.58 0 0 0 235.32,1266.04" fill="none" stroke="#ffcc00" stroke-width="5.25"/>
<path d="M235.83,1266.46 A62.59,62.59 0 0 0 233.61,1264.68" fill="none" stroke="#ffcc00" stroke-width="5.24"/>
<path d="M234.13,1265.08 A62.58,62.58 0 0 0 231.85,1263.39" fill="none" stroke="#ffcc00" stroke-width="5.25"/>
<path d="M232.38,1263.78 A62.58,62.58 0 0 0 230.05,1262.16" fill="none" stroke="#ffcc00" stroke-width="5.27"/>
<path d="M230.58,1262.54 A62.56,62.56 0 0 0 228.19,1261" fill="none" stroke="#ffcc00" stroke-width="5.33"/>
<path d="M228.73,1261.38 A62.53,62.53 0 0 0 226.29,1259.93" fill="none" stroke="#ffcc00" stroke-width="5.42"/>
<path d="M226.84,1260.29 A62.48,62.48 0 0 0 224.35,1258.93" fill="none" stroke="#ffcc00" stroke-width="5.57"/>
<path d="M224.9,1259.3 A62.4,62.4 0 0 0 222.37,1258.03" fill="none" stroke="#ffcc00" stroke-width="5.79"/>
<path d="M222.91,1258.4 A62.3,62.3 0 0 0 220.34,1257.22" fill="none" stroke="#ffcc00" stroke-width="6.1"/>
<path d="M220.88,1257.61 A62.16,62.16 0 0 0 218.28,1256.52" fill="none" stroke="#ffcc00" stroke-width="6.51"/>
<path d="M218.82,1256.92 A61.99,61.99 0 0 0 216.19,1255.93" fill="none" stroke="#ffcc00" stroke-width="7.02"/>
<path d="M216.73,1256.34 A61.79,61.79 0 0 0 214.08,1255.44" fill="none" stroke="#ffcc00" stroke-width="7.63"/>
<path d="M214.62,1255.85 A61.57,61.57 0 0 0 211.95,1255.04" fill="none" stroke="#ffcc00" stroke-width="8.3"/>
<path d="M212.51,1255.44 A61.34,61.34 0 0 0 209.81,1254.73" fill="none" stroke="#ffcc00" stroke-width="8.99"/>
<path d="M210.39,1255.09 A61.13,61.13 0 0 0 207.68,1254.48" fill="none" stroke="#ffcc00" stroke-width="9.62"/>
<path d="M208.27,1254.78 A60.95,60.95 0 0 0 205.56,1254.27" fill="none" stroke="#ffcc00" stroke-width="10.14"/>
<path d="M206.16,1254.48 A60.84,60.84 0 0 0 203.44,1254.07" fill="none" stroke="#ffcc00" stroke-width="10.48"/>
<path d="M204.06,1254.19 A60.8,60.8 0 0 0 201.32,1253.87" fill="none" stroke="#ffcc00" stroke-width="10.6"/>
<path d="M201.96,1253.89 A60.84,60.84 0 0 0 199.21,1253.67" fill="none" stroke="#ffcc00" stroke-width="10.48"/>
<path d="M199.85,1253.6 A60.95,60.95 0 0 0 197.09,1253.47" fill="none" stroke="#ffcc00" stroke-width="10.14"/>
<path d="M197.73,1253.31 A61.13,61.13 0 0 0 194.96,1253.28" fill="none" stroke="#ffcc00" stroke-width="9.62"/>
<path d="M195.6,1253.06 A61.34,61.34 0 0 0 192.82,1253.13" fill="none" stroke="#ffcc00" stroke-width="8.99"/>
<path d="M193.45,1252.87 A61.57,61.57 0 0 0 190.66,1253.03" fill="none" stroke="#ffcc00" stroke-width="8.3"/>
<path d="M191.29,1252.76 A61.79,61.79 0 0 0 188.5,1253.02" fill="none" stroke="#ffcc00" stroke-width="7.63"/>
<path d="M189.12,1252.75 A61.99,61.99 0 0 0 186.33,1253.1" fill="none" stroke="#ffcc00" stroke-width="7.02"/>
<path d="M186.95,1252.84 A62.16,62.16 0 0 0 184.16,1253.3" fill="none" stroke="#ffcc00" stroke-width="6.51"/>
<path d="M184.78,1253.05 A62.3,62.3 0 0 0 182.01,1253.6" fill="none" stroke="#ffcc00" stroke-width="6.1"/>
<path d="M182.63,1253.36 A62.4,62.4 0 0 0 179.87,1254.01" fill="none" stroke="#ffcc00" stroke-width="5.79"/>
<path d="M180.49,1253.78 A62.48,62.48 0 0 0 177.75,1254.53" fill="none" stroke="#ffcc00" stroke-width="5.57"/>
<path d="M178.37,1254.3 A62.53,62.53 0 0 0 175.66,1255.14" fill="none" stroke="#ffcc00" stroke-width="5.42"/>
<path d="M176.27,1254.91 A62.56,62.56 0 0 0 173.59,1255.84" fill="none" stroke="#ffcc00" stroke-width="5.33"/>
<path d="M174.2,1255.6 A62.57,62.57 0 0 0 171.55,1256.63" fill="none" stroke="#ffcc00" stroke-width="5.28"/>
<path d="M172.16,1256.38 A62.58,62.58 0 0 0 169.55,1257.5" fill="none" stroke="#ffcc00" stroke-width="5.26"/>
<path d="M170.15,1257.23 A62.58,62.58 0 0 0 167.58,1258.44" fill="none" stroke="#ffcc00" stroke-width="5.26"/>
<path d="M168.17,1258.16 A62.57,62.57 0 0 0 165.65,1259.47" fill="none" stroke="#ffcc00" stroke-width="5.29"/>
<path d="M166.24,1259.17 A62.55,62.55 0 0 0 163.76,1260.56" fill="none" stroke="#ffcc00" stroke-width="5.36"/>
<path d="M164.34,1260.26 A62.51,62.51 0 0 0 161.92,1261.74" fill="none" stroke="#ffcc00" stroke-width="5.46"/>
<path d="M162.5,1261.43 A62.46,62.46 0 0 0 160.13,1262.99" fill="none" stroke="#ffcc00" stroke-width="5.63"/>
<path d="M160.72,1262.69 A62.38,62.38 0 0 0 158.41,1264.32" fill="none" stroke="#ffcc00" stroke-width="5.87"/>
<path d="M159,1264.03 A62.26,62.26 0 0 0 156.76,1265.74" fill="none" stroke="#ffcc00" stroke-width="6.21"/>
<path d="M157.36,1265.45 A62.12,62.12 0 0 0 155.18,1267.24" fill="none" stroke="#ffcc00" stroke-width="6.65"/>
<path d="M155.79,1266.96 A61.93,61.93 0 0 0 153.68,1268.81" fill="none" stroke="#ffcc00" stroke-width="7.2"/>
<path d="M154.3,1268.53 A61.72,61.72 0 0 0 152.26,1270.45" fill="none" stroke="#ffcc00" stroke-width="7.83"/>
<path d="M152.88,1270.16 A61.5,61.5 0 0 0 150.92,1272.15" fill="none" stroke="#ffcc00" stroke-width="8.51"/>
<path d="M151.53,1271.84 A61.27,61.27 0 0 0 149.64,1273.88" fill="none" stroke="#ffcc00" stroke-width="9.19"/>
<path d="M150.22,1273.54 A61.07,61.07 0 0 0 148.41,1275.64" fill="none" stroke="#ffcc00" stroke-width="9.79"/>
<path d="M148.94,1275.25 A60.91,60.91 0 0 0 147.21,1277.4" fill="none" stroke="#ffcc00" stroke-width="10.27"/>
<path d="M147.67,1276.96 A60.82,60.82 0 0 0 146.02,1279.17" fill="none" stroke="#ffcc00" stroke-width="10.54"/>
<path d="M146.41,1278.66 A60.8,60.8 0 0 0 144.84,1280.93" fill="none" stroke="#ffcc00" stroke-width="10.59"/>
<path d="M145.14,1280.36 A60.87,60.87 0 0 0 143.65,1282.69" fill="none" stroke="#ffcc00" stroke-width="10.4"/>
<path d="M143.87,1282.08 A61,61 0 0 0 142.46,1284.46" fill="none" stroke="#ffcc00" stroke-width="10"/>
<path d="M142.61,1283.81 A61.19,61.19 0 0 0 141.28,1286.24" fill="none" stroke="#ffcc00" stroke-width="9.44"/>
<path d="M141.38,1285.57 A61.41,61.41 0 0 0 140.13,1288.06" fill="none" stroke="#ffcc00" stroke-width="8.78"/>
<path d="M140.2,1287.38 A61.63,61.63 0 0 0 139.04,1289.92" fill="none" stroke="#ffcc00" stroke-width="8.1"/>
<path d="M139.09,1289.24 A61.85,61.85 0 0 0 138.01,1291.83" fill="none" stroke="#ffcc00" stroke-width="7.44"/>
<path d="M138.07,1291.16 A62.05,62.05 0 0 0 137.08,1293.79" fill="none" stroke="#ffcc00" stroke-width="6.86"/>
<path d="M137.14,1293.12 A62.21,62.21 0 0 0 136.24,1295.8" fill="none" stroke="#ffcc00" stroke-width="6.37"/>
<path d="M136.32,1295.14 A62.33,62.33 0 0 0 135.5,1297.85" fill="none" stroke="#ffcc00" stroke-width="6"/>
<path d="M135.59,1297.19 A62.43,62.43 0 0 0 134.87,1299.93" fill="none" stroke="#ffcc00" stroke-width="5.72"/>
<path d="M134.97,1299.28 A62.49,62.49 0 0 0 134.34,1302.05" fill="none" stroke="#ffcc00" stroke-width="5.54"/>
<path d="M134.44,1301.4 A62.53,62.53 0 0 0 133.91,1304.19" fill="none" stroke="#ffcc00" stroke-width="5.42"/>
<path d="M134.01,1303.54 A62.54,62.54 0 0 0 133.58,1306.34" fill="none" stroke="#ffcc00" stroke-width="5.37"/>
<path d="M133.67,1305.7 A62.54,62.54 0 0 0 133.34,1308.51" fill="none" stroke="#ffcc00" stroke-width="5.38"/>
<path d="M133.42,1307.86 A62.52,62.52 0 0 0 133.19,1310.69" fill="none" stroke="#ffcc00" stroke-width="5.44"/>
<path d="M133.27,1310.04 A62.48,62.48 0 0 0 133.14,1312.87" fill="none" stroke="#ffcc00" stroke-width="5.56"/>
<path d="M133.22,1312.22 A62.41,62.41 0 0 0 133.19,1315.05" fill="none" stroke="#ffcc00" stroke-width="5.76"/>
<path d="M133.28,1314.4 A62.32,62.32 0 0 0 133.35,1317.23" fill="none" stroke="#ffcc00" stroke-width="6.05"/>
<path d="M133.45,1316.57 A62.19,62.19 0 0 0 133.61,1319.39" fill="none" stroke="#ffcc00" stroke-width="6.44"/>
<path d="M133.73,1318.73 A62.02,62.02 0 0 0 133.99,1321.53" fill="none" stroke="#ffcc00" stroke-width="6.94"/>
<path d="M134.12,1320.86 A61.82,61.82 0 0 0 134.47,1323.64" fill="none" stroke="#ffcc00" stroke-width="7.54"/>
<path d="M134.6,1322.97 A61.6,61.6 0 0 0 135.05,1325.73" fill="none" stroke="#ffcc00" stroke-width="8.2"/>
<path d="M135.16,1325.06 A61.37,61.37 0 0 0 135.71,1327.79" fill="none" stroke="#ffcc00" stroke-width="8.89"/>
<path d="M135.78,1327.11 A61.16,61.16 0 0 0 136.42,1329.82" fill="none" stroke="#ffcc00" stroke-width="9.53"/>
<path d="M136.44,1329.15 A60.98,60.98 0 0 0 137.17,1331.82" fill="none" stroke="#ffcc00" stroke-width="10.07"/>
<path d="M137.11,1331.17 A60.85,60.85 0 0 0 137.93,1333.81" fill="none" stroke="#ffcc00" stroke-width="10.44"/>
<path d="M137.77,1333.19 A60.8,60.8 0 0 0 138.69,1335.79" fill="none" stroke="#ffcc00" stroke-width="10.6"/>
<path d="M138.44,1335.2 A60.83,60.83 0 0 0 139.44,1337.78" fill="none" stroke="#ffcc00" stroke-width="10.51"/>
<path d="M139.11,1337.23 A60.93,60.93 0 0 0 140.2,1339.76" fill="none" stroke="#ffcc00" stroke-width="10.21"/>
<path d="M139.79,1339.25 A61.1,61.1 0 0 0 140.97,1341.76" fill="none" stroke="#ffcc00" stroke-width="9.71"/>
<path d="M140.5,1341.27 A61.3,61.3 0 0 0 141.78,1343.75" fill="none" stroke="#ffcc00" stroke-width="9.09"/>
<path d="M141.27,1343.29 A61.53,61.53 0 0 0 142.64,1345.72" fill="none" stroke="#ffcc00" stroke-width="8.41"/>
<path d="M142.12,1345.28 A61.76,61.76 0 0 0 143.57,1347.67" fill="none" stroke="#ffcc00" stroke-width="7.73"/>
<path d="M143.05,1347.24 A61.96,61.96 0 0 0 144.6,1349.59" fill="none" stroke="#ffcc00" stroke-width="7.11"/>
<path d="M144.08,1349.15 A62.14,62.14 0 0 0 145.71,1351.45" fill="none" stroke="#ffcc00" stroke-width="6.58"/>
<path d="M145.21,1351.01 A62.28,62.28 0 0 0 146.92,1353.26" fill="none" stroke="#ffcc00" stroke-width="6.15"/>
<path d="M146.44,1352.81 A62.39,62.39 0 0 0 148.23,1355" fill="none" stroke="#ffcc00" stroke-width="5.83"/>
<path d="M147.75,1354.55 A62.47,62.47 0 0 0 149.62,1356.68" fill="none" stroke="#ffcc00" stroke-width="5.6"/>
<path d="M149.14,1356.23 A62.52,62.52 0 0 0 151.08,1358.3" fill="none" stroke="#ffcc00" stroke-width="5.44"/>
<path d="M150.6,1357.85 A62.55,62.55 0 0 0 152.62,1359.85" fill="none" stroke="#ffcc00" stroke-width="5.34"/>
<path d="M152.13,1359.41 A62.57,62.57 0 0 0 154.22,1361.34" fill="none" stroke="#ffcc00" stroke-width="5.28"/>
<path d="M153.72,1360.91 A62.58,62.58 0 0 0 155.88,1362.76" fill="none" stroke="#ffcc00" stroke-width="5.25"/>
<path d="M155.37,1362.35 A62.59,62.59 0 0 0 157.58,1364.12" fill="none" stroke="#ffcc00" stroke-width="5.23"/>
<path d="M157.07,1363.72 A62.59,62.59 0 0 0 159.34,1365.42" fill="none" stroke="#ffcc00" stroke-width="5.23"/>
<path d="M158.81,1365.03 A62.58,62.58 0 0 0 161.15,1366.65" fill="none" stroke="#ffcc00" stroke-width="5.25"/>
<path d="M160.61,1366.27 A62.57,62.57 0 0 0 163,1367.81" fill="none" stroke="#ffcc00" stroke-width="5.29"/>
<path d="M162.46,1367.44 A62.55,62.55 0 0 0 164.9,1368.89" fill="none" stroke="#ffcc00" stroke-width="5.36"/>
<path d="M164.35,1368.53 A62.51,62.51 0 0 0 166.83,1369.9" fill="none" stroke="#ffcc00" stroke-width="5.47"/>
<path d="M166.28,1369.54 A62.45,62.45 0 0 0 168.81,1370.81" fill="none" stroke="#ffcc00" stroke-width="5.65"/>
<path d="M168.26,1370.45 A62.37,62.37 0 0 0 170.83,1371.64" fill="none" stroke="#ffcc00" stroke-width="5.9"/>
<path d="M170.28,1371.27 A62.25,62.25 0 0 0 172.89,1372.36" fill="none" stroke="#ffcc00" stroke-width="6.25"/>
<path d="M172.34,1371.98 A62.1,62.1 0 0 0 174.97,1372.97" fill="none" stroke="#ffcc00" stroke-width="6.7"/>
<path d="M174.42,1372.58 A61.91,61.91 0 0 0 177.09,1373.48" fill="none" stroke="#ffcc00" stroke-width="7.26"/>
<path d="M176.53,1373.08 A61.7,61.7 0 0 0 179.21,1373.89" fill="none" stroke="#ffcc00" stroke-width="7.9"/>
<path d="M178.66,1373.49 A61.47,61.47 0 0 0 181.35,1374.2" fill="none" stroke="#ffcc00" stroke-width="8.58"/>
<path d="M180.78,1373.83 A61.25,61.25 0 0 0 183.49,1374.44" fill="none" stroke="#ffcc00" stroke-width="9.25"/>
<path d="M182.91,1374.12 A61.05,61.05 0 0 0 185.63,1374.63" fill="none" stroke="#ffcc00" stroke-width="9.85"/>
<path d="M185.02,1374.37 A60.9,60.9 0 0 0 187.76,1374.79" fill="none" stroke="#ffcc00" stroke-width="10.3"/>
<path d="M187.14,1374.62 A60.81,60.81 0 0 0 189.88,1374.94" fill="none" stroke="#ffcc00" stroke-width="10.56"/>
<path d="M189.24,1374.87 A60.81,60.81 0 0 0 191.99,1375.1" fill="none" stroke="#ffcc00" stroke-width="10.58"/>
<path d="M191.35,1375.13 A60.88,60.88 0 0 0 194.11,1375.26" fill="none" stroke="#ffcc00" stroke-width="10.37"/>
<path d="M193.47,1375.38 A61.02,61.02 0 0 0 196.24,1375.41" fill="none" stroke="#ffcc00" stroke-width="9.95"/>
<path d="M195.6,1375.61 A61.21,61.21 0 0 0 198.38,1375.54" fill="none" stroke="#ffcc00" stroke-width="9.38"/>
<path d="M197.74,1375.79 A61.43,61.43 0 0 0 200.53,1375.63" fill="none" stroke="#ffcc00" stroke-width="8.72"/>
<path d="M199.9,1375.91 A61.66,61.66 0 0 0 202.69,1375.65" fill="none" stroke="#ffcc00" stroke-width="8.03"/>
<path d="M202.07,1375.93 A61.87,61.87 0 0 0 204.85,1375.58" fill="none" stroke="#ffcc00" stroke-width="7.38"/>
<path d="M204.24,1375.86 A62.07,62.07 0 0 0 207.02,1375.41" fill="none" stroke="#ffcc00" stroke-width="6.8"/>
<path d="M206.4,1375.68 A62.22,62.22 0 0 0 209.17,1375.12" fill="none" stroke="#ffcc00" stroke-width="6.33"/>
<path d="M208.56,1375.38 A62.35,62.35 0 0 0 211.32,1374.73" fill="none" stroke="#ffcc00" stroke-width="5.96"/>
<path d="M210.7,1374.98 A62.44,62.44 0 0 0 213.44,1374.23" fill="none" stroke="#ffcc00" stroke-width="5.69"/>
<path d="M212.83,1374.48 A62.5,62.5 0 0 0 215.53,1373.63" fill="none" stroke="#ffcc00" stroke-width="5.51"/>
<path d="M214.93,1373.88 A62.54,62.54 0 0 0 217.6,1372.94" fill="none" stroke="#ffcc00" stroke-width="5.38"/>
<path d="M217,1373.19 A62.56,62.56 0 0 0 219.64,1372.16" fill="none" stroke="#ffcc00" stroke-width="5.31"/>
<path d="M219.04,1372.42 A62.57,62.57 0 0 0 221.65,1371.29" fill="none" stroke="#ffcc00" stroke-width="5.28"/>
<path d="M221.05,1371.56 A62.57,62.57 0 0 0 223.62,1370.35" fill="none" stroke="#ffcc00" stroke-width="5.28"/>
<path d="M223.03,1370.63 A62.56,62.56 0 0 0 225.55,1369.33" fill="none" stroke="#ffcc00" stroke-width="5.31"/>
<path d="M224.96,1369.62 A62.54,62.54 0 0 0 227.44,1368.23" fill="none" stroke="#ffcc00" stroke-width="5.38"/>
<path d="M226.85,1368.53 A62.5,62.5 0 0 0 229.27,1367.06" fill="none" stroke="#ffcc00" stroke-width="5.49"/>
<path d="M228.69,1367.35 A62.44,62.44 0 0 0 231.06,1365.8" fill="none" stroke="#ffcc00" stroke-width="5.67"/>
<path d="M230.47,1366.1 A62.36,62.36 0 0 0 232.78,1364.46" fill="none" stroke="#ffcc00" stroke-width="5.93"/>
<path d="M232.18,1364.75 A62.24,62.24 0 0 0 234.43,1363.04" fill="none" stroke="#ffcc00" stroke-width="6.29"/>
<path d="M233.82,1363.32 A62.08,62.08 0 0 0 236,1361.54" fill="none" stroke="#ffcc00" stroke-width="6.75"/>
<path d="M235.38,1361.81 A61.89,61.89 0 0 0 237.49,1359.96" fill="none" stroke="#ffcc00" stroke-width="7.32"/>
<path d="M236.87,1360.24 A61.68,61.68 0 0 0 238.91,1358.32" fill="none" stroke="#ffcc00" stroke-width="7.96"/>
<path d="M238.29,1358.6 A61.45,61.45 0 0 0 240.25,1356.62" fill="none" stroke="#ffcc00" stroke-width="8.65"/>
<path d="M239.64,1356.93 A61.23,61.23 0 0 0 241.53,1354.89" fill="none" stroke="#ffcc00" stroke-width="9.32"/>
<path d="M240.96,1355.24 A61.03,61.03 0 0 0 242.76,1353.14" fill="none" stroke="#ffcc00" stroke-width="9.9"/>
<path d="M242.24,1353.54 A60.89,60.89 0 0 0 243.97,1351.38" fill="none" stroke="#ffcc00" stroke-width="10.34"/>
<path d="M243.52,1351.84 A60.81,60.81 0 0 0 245.17,1349.63" fill="none" stroke="#ffcc00" stroke-width="10.57"/>
<path d="M244.8,1350.14 A60.81,60.81 0 0 0 246.37,1347.87" fill="none" stroke="#ffcc00" stroke-width="10.57"/>
<path d="M246.08,1348.45 A60.89,60.89 0 0 0 247.57,1346.12" fill="none" stroke="#ffcc00" stroke-width="10.34"/>
<path d="M247.36,1346.74 A61.03,61.03 0 0 0 248.77,1344.36" fill="none" stroke="#ffcc00" stroke-width="9.9"/>
<path d="M248.62,1345.01 A61.23,61.23 0 0 0 249.96,1342.58" fill="none" stroke="#ffcc00" stroke-width="9.32"/>
<path d="M249.86,1343.25 A61.45,61.45 0 0 0 251.11,1340.76" fill="none" stroke="#ffcc00" stroke-width="8.65"/>
<path d="M251.04,1341.44 A61.68,61.68 0 0 0 252.21,1338.9" fill="none" stroke="#ffcc00" stroke-width="7.96"/>
<path d="M252.14,1339.57 A61.89,61.89 0 0 0 253.23,1336.98" fill="none" stroke="#ffcc00" stroke-width="7.32"/>
<path d="M253.16,1337.66 A62.08,62.08 0 0 0 254.16,1335.02" fill="none" stroke="#ffcc00" stroke-width="6.75"/>
<path d="M254.08,1335.69 A62.24,62.24 0 0 0 254.99,1333.01" fill="none" stroke="#ffcc00" stroke-width="6.29"/>
<path d="M254.9,1333.67 A62.36,62.36 0 0 0 255.72,1330.96" fill="none" stroke="#ffcc00" stroke-width="5.93"/>
<path d="M255.62,1331.61 A62.44,62.44 0 0 0 256.34,1328.87" fill="none" stroke="#ffcc00" stroke-width="5.68"/>
<path d="M256.24,1329.52 A62.5,62.5 0 0 0 256.87,1326.75" fill="none" stroke="#ffcc00" stroke-width="5.5"/>
<path d="M256.77,1327.4 A62.53,62.53 0 0 0 257.29,1324.61" fill="none" stroke="#ffcc00" stroke-width="5.4"/>
<path d="M257.2,1325.26 A62.55,62.55 0 0 0 257.63,1322.46" fill="none" stroke="#ffcc00" stroke-width="5.36"/>
<path d="M257.54,1323.1 A62.55,62.55 0 0 0 257.87,1320.29" fill="none" stroke="#ffcc00" stroke-width="5.36"/>
<path d="M257.78,1320.94 A62.52,62.52 0 0 0 258.01,1318.11" fill="none" stroke="#ffcc00" stroke-width="5.43"/>
<path d="M257.93,1318.76 A62.48,62.48 0 0 0 258.07,1315.93" fill="none" stroke="#ffcc00" stroke-width="5.55"/>
<path d="M257.98,1316.58 A62.42,62.42 0 0 0 258.02,1313.75" fill="none" stroke="#ffcc00" stroke-width="5.74"/>
<path d="M257.92,1314.4 A62.32,62.32 0 0 0 257.86,1311.57" fill="none" stroke="#ff8a00" stroke-width="4.21"/>
<path d="M257.76,1312.23 A62.19,62.19 0 0 0 257.59,1309.41" fill="none" stroke="#ff8a00" stroke-width="4.69"/>
<path d="M257.48,1310.07 A62.03,62.03 0 0 0 257.22,1307.27" fill="none" stroke="#ff8a00" stroke-width="5.29"/>
<path d="M257.09,1307.94 A61.83,61.83 0 0 0 256.74,1305.15" fill="none" stroke="#ff8a00" stroke-width="6.02"/>
<path d="M256.61,1305.83 A61.61,61.61 0 0 0 256.16,1303.07" fill="none" stroke="#ff8a00" stroke-width="6.83"/>
<path d="M256.05,1303.74 A61.38,61.38 0 0 0 255.5,1301.01" fill="none" stroke="#ff8a00" stroke-width="7.66"/>
<path d="M255.43,1301.68 A61.17,61.17 0 0 0 254.79,1298.98" fill="none" stroke="#ff8a00" stroke-width="8.46"/>
<path d="M254.77,1299.65 A60.98,60.98 0 0 0 254.04,1296.98" fill="none" stroke="#ff8a00" stroke-width="9.13"/>
<path d="M254.1,1297.63 A60.86,60.86 0 0 0 253.28,1294.99" fill="none" stroke="#ff8a00" stroke-width="9.59"/>
<path d="M253.43,1295.61 A60.8,60.8 0 0 0 252.51,1293.01" fill="none" stroke="#ff8a00" stroke-width="9.79"/>
<path d="M252.76,1293.6 A60.83,60.83 0 0 0 251.75,1291.03" fill="none" stroke="#ff8a00" stroke-width="9.71"/>
<path d="M252.09,1291.58 A60.92,60.92 0 0 0 250.99,1289.04" fill="none" stroke="#ff8a00" stroke-width="9.34"/>
<path d="M251.41,1289.55 A61.09,61.09 0 0 0 250.22,1287.05" fill="none" stroke="#ff8a00" stroke-width="8.75"/>
<path d="M250.69,1287.53 A61.29,61.29 0 0 0 249.41,1285.06" fill="none" stroke="#ff8a00" stroke-width="7.99"/>
<path d="M249.92,1285.52 A61.52,61.52 0 0 0 248.55,1283.08" fill="none" stroke="#ff8a00" stroke-width="7.16"/>
<path d="M249.07,1283.53 A61.75,61.75 0 0 0 247.62,1281.13" fill="none" stroke="#ff8a00" stroke-width="6.33"/>
<path d="M248.14,1281.57 A61.95,61.95 0 0 0 246.6,1279.22" fill="none" stroke="#ff8a00" stroke-width="5.57"/>
<path d="M247.11,1279.66 A62.13,62.13 0 0 0 245.48,1277.36" fill="none" stroke="#ff8a00" stroke-width="4.91"/>
<path d="M245.98,1277.79 A62.28,62.28 0 0 0 244.27,1275.55" fill="none" stroke="#ff8a00" stroke-width="4.39"/>
<path d="M244.76,1275.99 A62.39,62.39 0 0 0 242.97,1273.8" fill="none" stroke="#ff8a00" stroke-width="3.99"/>
<path d="M243.45,1274.25 A62.46,62.46 0 0 0 241.58,1272.12" fill="none" stroke="#ff8a00" stroke-width="3.7"/>
<path d="M242.06,1272.57 A62.52,62.52 0 0 0 240.11,1270.5" fill="none" stroke="#ff8a00" stroke-width="3.5"/>
<path d="M240.6,1270.95 A62.55,62.55 0 0 0 238.58,1268.95" fill="none" stroke="#ff8a00" stroke-width="3.38"/>
<path d="M239.07,1269.39 A62.57,62.57 0 0 0 236.98,1267.46" fill="none" stroke="#ff8a00" stroke-width="3.3"/>
<path d="M237.48,1267.89 A62.58,62.58 0 0 0 235.32,1266.04" fill="none" stroke="#ff8a00" stroke-width="3.26"/>
<path d="M235.83,1266.46 A62.59,62.59 0 0 0 233.61,1264.68" fill="none" stroke="#ff8a00" stroke-width="3.25"/>
<path d="M234.13,1265.08 A62.58,62.58 0 0 0 231.85,1263.39" fill="none" stroke="#ff8a00" stroke-width="3.26"/>
<path d="M232.38,1263.78 A62.58,62.58 0 0 0 230.05,1262.16" fill="none" stroke="#ff8a00" stroke-width="3.29"/>
<path d="M230.58,1262.54 A62.56,62.56 0 0 0 228.19,1261" fill="none" stroke="#ff8a00" stroke-width="3.36"/>
<path d="M228.73,1261.38 A62.53,62.53 0 0 0 226.29,1259.93" fill="none" stroke="#ff8a00" stroke-width="3.47"/>
<path d="M226.84,1260.29 A62.48,62.48 0 0 0 224.35,1258.93" fill="none" stroke="#ff8a00" stroke-width="3.65"/>
<path d="M224.9,1259.3 A62.4,62.4 0 0 0 222.37,1258.03" fill="none" stroke="#ff8a00" stroke-width="3.92"/>
<path d="M222.91,1258.4 A62.3,62.3 0 0 0 220.34,1257.22" fill="none" stroke="#ff8a00" stroke-width="4.3"/>
<path d="M220.88,1257.61 A62.16,62.16 0 0 0 218.28,1256.52" fill="none" stroke="#ff8a00" stroke-width="4.8"/>
<path d="M218.82,1256.92 A61.99,61.99 0 0 0 216.19,1255.93" fill="none" stroke="#ff8a00" stroke-width="5.43"/>
<path d="M216.73,1256.34 A61.79,61.79 0 0 0 214.08,1255.44" fill="none" stroke="#ff8a00" stroke-width="6.17"/>
<path d="M214.62,1255.85 A61.57,61.57 0 0 0 211.95,1255.04" fill="none" stroke="#ff8a00" stroke-width="6.99"/>
<path d="M212.51,1255.44 A61.34,61.34 0 0 0 209.81,1254.73" fill="none" stroke="#ff8a00" stroke-width="7.83"/>
<path d="M210.39,1255.09 A61.13,61.13 0 0 0 207.68,1254.48" fill="none" stroke="#ff8a00" stroke-width="8.61"/>
<path d="M208.27,1254.78 A60.95,60.95 0 0 0 205.56,1254.27" fill="none" stroke="#ff8a00" stroke-width="9.24"/>
<path d="M206.16,1254.48 A60.84,60.84 0 0 0 203.44,1254.07" fill="none" stroke="#ff8a00" stroke-width="9.66"/>
<path d="M204.06,1254.19 A60.8,60.8 0 0 0 201.32,1253.87" fill="none" stroke="#ff8a00" stroke-width="9.8"/>
<path d="M201.96,1253.89 A60.84,60.84 0 0 0 199.21,1253.67" fill="none" stroke="#ff8a00" stroke-width="9.66"/>
<path d="M199.85,1253.6 A60.95,60.95 0 0 0 197.09,1253.47" fill="none" stroke="#ff8a00" stroke-width="9.24"/>
<path d="M197.73,1253.31 A61.13,61.13 0 0 0 194.96,1253.28" fill="none" stroke="#ff8a00" stroke-width="8.61"/>
<path d="M195.6,1253.06 A61.34,61.34 0 0 0 192.82,1253.13" fill="none" stroke="#ff8a00" stroke-width="7.83"/>
<path d="M193.45,1252.87 A61.57,61.57 0 0 0 190.66,1253.03" fill="none" stroke="#ff8a00" stroke-width="6.99"/>
<path d="M191.29,1252.76 A61.79,61.79 0 0 0 188.5,1253.02" fill="none" stroke="#ff8a00" stroke-width="6.17"/>
<path d="M189.12,1252.75 A61.99,61.99 0 0 0 186.33,1253.1" fill="none" stroke="#ff8a00" stroke-width="5.43"/>
<path d="M186.95,1252.84 A62.16,62.16 0 0 0 184.16,1253.3" fill="none" stroke="#ff8a00" stroke-width="4.8"/>
<path d="M184.78,1253.05 A62.3,62.3 0 0 0 182.01,1253.6" fill="none" stroke="#ff8a00" stroke-width="4.3"/>
<path d="M182.63,1253.36 A62.4,62.4 0 0 0 179.87,1254.01" fill="none" stroke="#ff8a00" stroke-width="3.92"/>
<path d="M180.49,1253.78 A62.48,62.48 0 0 0 177.75,1254.53" fill="none" stroke="#ff8a00" stroke-width="3.65"/>
<path d="M178.37,1254.3 A62.53,62.53 0 0 0 175.66,1255.14" fill="none" stroke="#ff8a00" stroke-width="3.47"/>
<path d="M176.27,1254.91 A62.56,62.56 0 0 0 173.59,1255.84" fill="none" stroke="#ff8a00" stroke-width="3.36"/>
<path d="M174.2,1255.6 A62.57,62.57 0 0 0 171.55,1256.63" fill="none" stroke="#ff8a00" stroke-width="3.3"/>
<path d="M172.16,1256.38 A62.58,62.58 0 0 0 169.55,1257.5" fill="none" stroke="#ff8a00" stroke-width="3.27"/>
<path d="M170.15,1257.23 A62.58,62.58 0 0 0 167.58,1258.44" fill="none" stroke="#ff8a00" stroke-width="3.28"/>
<path d="M168.17,1258.16 A62.57,62.57 0 0 0 165.65,1259.47" fill="none" stroke="#ff8a00" stroke-width="3.31"/>
<path d="M166.24,1259.17 A62.55,62.55 0 0 0 163.76,1260.56" fill="none" stroke="#ff8a00" stroke-width="3.39"/>
<path d="M164.34,1260.26 A62.51,62.51 0 0 0 161.92,1261.74" fill="none" stroke="#ff8a00" stroke-width="3.52"/>
<path d="M162.5,1261.43 A62.46,62.46 0 0 0 160.13,1262.99" fill="none" stroke="#ff8a00" stroke-width="3.72"/>
<path d="M160.72,1262.69 A62.38,62.38 0 0 0 158.41,1264.32" fill="none" stroke="#ff8a00" stroke-width="4.02"/>
<path d="M159,1264.03 A62.26,62.26 0 0 0 156.76,1265.74" fill="none" stroke="#ff8a00" stroke-width="4.43"/>
<path d="M157.36,1265.45 A62.12,62.12 0 0 0 155.18,1267.24" fill="none" stroke="#ff8a00" stroke-width="4.97"/>
<path d="M155.79,1266.96 A61.93,61.93 0 0 0 153.68,1268.81" fill="none" stroke="#ff8a00" stroke-width="5.64"/>
<path d="M154.3,1268.53 A61.72,61.72 0 0 0 152.26,1270.45" fill="none" stroke="#ff8a00" stroke-width="6.41"/>
<path d="M152.88,1270.16 A61.5,61.5 0 0 0 150.92,1272.15" fill="none" stroke="#ff8a00" stroke-width="7.25"/>
<path d="M151.53,1271.84 A61.27,61.27 0 0 0 149.64,1273.88" fill="none" stroke="#ff8a00" stroke-width="8.07"/>
<path d="M150.22,1273.54 A61.07,61.07 0 0 0 148.41,1275.64" fill="none" stroke="#ff8a00" stroke-width="8.82"/>
<path d="M148.94,1275.25 A60.91,60.91 0 0 0 147.21,1277.4" fill="none" stroke="#ff8a00" stroke-width="9.39"/>
<path d="M147.67,1276.96 A60.82,60.82 0 0 0 146.02,1279.17" fill="none" stroke="#ff8a00" stroke-width="9.73"/>
<path d="M146.41,1278.66 A60.8,60.8 0 0 0 144.84,1280.93" fill="none" stroke="#ff8a00" stroke-width="9.79"/>
<path d="M145.14,1280.36 A60.87,60.87 0 0 0 143.65,1282.69" fill="none" stroke="#ff8a00" stroke-width="9.56"/>
<path d="M143.87,1282.08 A61,61 0 0 0 142.46,1284.46" fill="none" stroke="#ff8a00" stroke-width="9.07"/>
<path d="M142.61,1283.81 A61.19,61.19 0 0 0 141.28,1286.24" fill="none" stroke="#ff8a00" stroke-width="8.38"/>
<path d="M141.38,1285.57 A61.41,61.41 0 0 0 140.13,1288.06" fill="none" stroke="#ff8a00" stroke-width="7.58"/>
<path d="M140.2,1287.38 A61.63,61.63 0 0 0 139.04,1289.92" fill="none" stroke="#ff8a00" stroke-width="6.74"/>
<path d="M139.09,1289.24 A61.85,61.85 0 0 0 138.01,1291.83" fill="none" stroke="#ff8a00" stroke-width="5.94"/>
<path d="M138.07,1291.16 A62.05,62.05 0 0 0 137.08,1293.79" fill="none" stroke="#ff8a00" stroke-width="5.23"/>
<path d="M137.14,1293.12 A62.21,62.21 0 0 0 136.24,1295.8" fill="none" stroke="#ff8a00" stroke-width="4.64"/>
<path d="M136.32,1295.14 A62.33,62.33 0 0 0 135.5,1297.85" fill="none" stroke="#ff8a00" stroke-width="4.18"/>
<path d="M135.59,1297.19 A62.43,62.43 0 0 0 134.87,1299.93" fill="none" stroke="#ff8a00" stroke-width="3.84"/>
<path d="M134.97,1299.28 A62.49,62.49 0 0 0 134.34,1302.05" fill="none" stroke="#ff8a00" stroke-width="3.61"/>
<path d="M134.44,1301.4 A62.53,62.53 0 0 0 133.91,1304.19" fill="none" stroke="#ff8a00" stroke-width="3.47"/>
<path d="M134.01,1303.54 A62.54,62.54 0 0 0 133.58,1306.34" fill="none" stroke="#ff8a00" stroke-width="3.41"/>
<path d="M133.67,1305.7 A62.54,62.54 0 0 0 133.34,1308.51" fill="none" stroke="#ff8a00" stroke-width="3.41"/>
<path d="M133.42,1307.86 A62.52,62.52 0 0 0 133.19,1310.69" fill="none" stroke="#ff8a00" stroke-width="3.49"/>
<path d="M133.27,1310.04 A62.48,62.48 0 0 0 133.14,1312.87" fill="none" stroke="#ff8a00" stroke-width="3.64"/>
<path d="M133.22,1312.22 A62.41,62.41 0 0 0 133.19,1315.05" fill="none" stroke="#ff8a00" stroke-width="3.88"/>
<path d="M133.28,1314.4 A62.32,62.32 0 0 0 133.35,1317.23" fill="none" stroke="#ff8a00" stroke-width="4.24"/>
<path d="M133.45,1316.57 A62.19,62.19 0 0 0 133.61,1319.39" fill="none" stroke="#ff8a00" stroke-width="4.72"/>
<path d="M133.73,1318.73 A62.02,62.02 0 0 0 133.99,1321.53" fill="none" stroke="#ff8a00" stroke-width="5.33"/>
<path d="M134.12,1320.86 A61.82,61.82 0 0 0 134.47,1323.64" fill="none" stroke="#ff8a00" stroke-width="6.05"/>
<path d="M134.6,1322.97 A61.6,61.6 0 0 0 135.05,1325.73" fill="none" stroke="#ff8a00" stroke-width="6.87"/>
<path d="M135.16,1325.06 A61.37,61.37 0 0 0 135.71,1327.79" fill="none" stroke="#ff8a00" stroke-width="7.71"/>
<path d="M135.78,1327.11 A61.16,61.16 0 0 0 136.42,1329.82" fill="none" stroke="#ff8a00" stroke-width="8.5"/>
<path d="M136.44,1329.15 A60.98,60.98 0 0 0 137.17,1331.82" fill="none" stroke="#ff8a00" stroke-width="9.16"/>
<path d="M137.11,1331.17 A60.85,60.85 0 0 0 137.93,1333.81" fill="none" stroke="#ff8a00" stroke-width="9.61"/>
<path d="M137.77,1333.19 A60.8,60.8 0 0 0 138.69,1335.79" fill="none" stroke="#ff8a00" stroke-width="9.8"/>
<path d="M138.44,1335.2 A60.83,60.83 0 0 0 139.44,1337.78" fill="none" stroke="#ff8a00" stroke-width="9.7"/>
<path d="M139.11,1337.23 A60.93,60.93 0 0 0 140.2,1339.76" fill="none" stroke="#ff8a00" stroke-width="9.32"/>
<path d="M139.79,1339.25 A61.1,61.1 0 0 0 140.97,1341.76" fill="none" stroke="#ff8a00" stroke-width="8.71"/>
<path d="M140.5,1341.27 A61.3,61.3 0 0 0 141.78,1343.75" fill="none" stroke="#ff8a00" stroke-width="7.95"/>
<path d="M141.27,1343.29 A61.53,61.53 0 0 0 142.64,1345.72" fill="none" stroke="#ff8a00" stroke-width="7.12"/>
<path d="M142.12,1345.28 A61.76,61.76 0 0 0 143.57,1347.67" fill="none" stroke="#ff8a00" stroke-width="6.29"/>
<path d="M143.05,1347.24 A61.96,61.96 0 0 0 144.6,1349.59" fill="none" stroke="#ff8a00" stroke-width="5.53"/>
<path d="M144.08,1349.15 A62.14,62.14 0 0 0 145.71,1351.45" fill="none" stroke="#ff8a00" stroke-width="4.88"/>
<path d="M145.21,1351.01 A62.28,62.28 0 0 0 146.92,1353.26" fill="none" stroke="#ff8a00" stroke-width="4.36"/>
<path d="M146.44,1352.81 A62.39,62.39 0 0 0 148.23,1355" fill="none" stroke="#ff8a00" stroke-width="3.97"/>
<path d="M147.75,1354.55 A62.47,62.47 0 0 0 149.62,1356.68" fill="none" stroke="#ff8a00" stroke-width="3.69"/>
<path d="M149.14,1356.23 A62.52,62.52 0 0 0 151.08,1358.3" fill="none" stroke="#ff8a00" stroke-width="3.49"/>
<path d="M150.6,1357.85 A62.55,62.55 0 0 0 152.62,1359.85" fill="none" stroke="#ff8a00" stroke-width="3.37"/>
<path d="M152.13,1359.41 A62.57,62.57 0 0 0 154.22,1361.34" fill="none" stroke="#ff8a00" stroke-width="3.3"/>
<path d="M153.72,1360.91 A62.58,62.58 0 0 0 155.88,1362.76" fill="none" stroke="#ff8a00" stroke-width="3.26"/>
<path d="M155.37,1362.35 A62.59,62.59 0 0 0 157.58,1364.12" fill="none" stroke="#ff8a00" stroke-width="3.24"/>
<path d="M157.07,1363.72 A62.59,62.59 0 0 0 159.34,1365.42" fill="none" stroke="#ff8a00" stroke-width="3.24"/>
<path d="M158.81,1365.03 A62.58,62.58 0 0 0 161.15,1366.65" fill="none" stroke="#ff8a00" stroke-width="3.26"/>
<path d="M160.61,1366.27 A62.57,62.57 0 0 0 163,1367.81" fill="none" stroke="#ff8a00" stroke-width="3.31"/>
<path d="M162.46,1367.44 A62.55,62.55 0 0 0 164.9,1368.89" fill="none" stroke="#ff8a00" stroke-width="3.4"/>
<path d="M164.35,1368.53 A62.51,62.51 0 0 0 166.83,1369.9" fill="none" stroke="#ff8a00" stroke-width="3.54"/>
<path d="M166.28,1369.54 A62.45,62.45 0 0 0 168.81,1370.81" fill="none" stroke="#ff8a00" stroke-width="3.75"/>
<path d="M168.26,1370.45 A62.37,62.37 0 0 0 170.83,1371.64" fill="none" stroke="#ff8a00" stroke-width="4.06"/>
<path d="M170.28,1371.27 A62.25,62.25 0 0 0 172.89,1372.36" fill="none" stroke="#ff8a00" stroke-width="4.48"/>
<path d="M172.34,1371.98 A62.1,62.1 0 0 0 174.97,1372.97" fill="none" stroke="#ff8a00" stroke-width="5.04"/>
<path d="M174.42,1372.58 A61.91,61.91 0 0 0 177.09,1373.48" fill="none" stroke="#ff8a00" stroke-width="5.71"/>
<path d="M176.53,1373.08 A61.7,61.7 0 0 0 179.21,1373.89" fill="none" stroke="#ff8a00" stroke-width="6.49"/>
<path d="M178.66,1373.49 A61.47,61.47 0 0 0 181.35,1374.2" fill="none" stroke="#ff8a00" stroke-width="7.33"/>
<path d="M180.78,1373.83 A61.25,61.25 0 0 0 183.49,1374.44" fill="none" stroke="#ff8a00" stroke-width="8.15"/>
<path d="M182.91,1374.12 A61.05,61.05 0 0 0 185.63,1374.63" fill="none" stroke="#ff8a00" stroke-width="8.88"/>
<path d="M185.02,1374.37 A60.9,60.9 0 0 0 187.76,1374.79" fill="none" stroke="#ff8a00" stroke-width="9.44"/>
<path d="M187.14,1374.62 A60.81,60.81 0 0 0 189.88,1374.94" fill="none" stroke="#ff8a00" stroke-width="9.75"/>
<path d="M189.24,1374.87 A60.81,60.81 0 0 0 191.99,1375.1" fill="none" stroke="#ff8a00" stroke-width="9.78"/>
<path d="M191.35,1375.13 A60.88,60.88 0 0 0 194.11,1375.26" fill="none" stroke="#ff8a00" stroke-width="9.52"/>
<path d="M193.47,1375.38 A61.02,61.02 0 0 0 196.24,1375.41" fill="none" stroke="#ff8a00" stroke-width="9.01"/>
<path d="M195.6,1375.61 A61.21,61.21 0 0 0 198.38,1375.54" fill="none" stroke="#ff8a00" stroke-width="8.31"/>
<path d="M197.74,1375.79 A61.43,61.43 0 0 0 200.53,1375.63" fill="none" stroke="#ff8a00" stroke-width="7.5"/>
<path d="M199.9,1375.91 A61.66,61.66 0 0 0 202.69,1375.65" fill="none" stroke="#ff8a00" stroke-width="6.66"/>
<path d="M202.07,1375.93 A61.87,61.87 0 0 0 204.85,1375.58" fill="none" stroke="#ff8a00" stroke-width="5.86"/>
<path d="M204.24,1375.86 A62.07,62.07 0 0 0 207.02,1375.41" fill="none" stroke="#ff8a00" stroke-width="5.16"/>
<path d="M206.4,1375.68 A62.22,62.22 0 0 0 209.17,1375.12" fill="none" stroke="#ff8a00" stroke-width="4.58"/>
<path d="M208.56,1375.38 A62.35,62.35 0 0 0 211.32,1374.73" fill="none" stroke="#ff8a00" stroke-width="4.13"/>
<path d="M210.7,1374.98 A62.44,62.44 0 0 0 213.44,1374.23" fill="none" stroke="#ff8a00" stroke-width="3.8"/>
<path d="M212.83,1374.48 A62.5,62.5 0 0 0 215.53,1373.63" fill="none" stroke="#ff8a00" stroke-width="3.57"/>
<path d="M214.93,1373.88 A62.54,62.54 0 0 0 217.6,1372.94" fill="none" stroke="#ff8a00" stroke-width="3.43"/>
<path d="M217,1373.19 A62.56,62.56 0 0 0 219.64,1372.16" fill="none" stroke="#ff8a00" stroke-width="3.34"/>
<path d="M219.04,1372.42 A62.57,62.57 0 0 0 221.65,1371.29" fill="none" stroke="#ff8a00" stroke-width="3.3"/>
<path d="M221.05,1371.56 A62.57,62.57 0 0 0 223.62,1370.35" fill="none" stroke="#ff8a00" stroke-width="3.3"/>
<path d="M223.03,1370.63 A62.56,62.56 0 0 0 225.55,1369.33" fill="none" stroke="#ff8a00" stroke-width="3.33"/>
<path d="M224.96,1369.62 A62.54,62.54 0 0 0 227.44,1368.23" fill="none" stroke="#ff8a00" stroke-width="3.41"/>
<path d="M226.85,1368.53 A62.5,62.5 0 0 0 229.27,1367.06" fill="none" stroke="#ff8a00" stroke-width="3.56"/>
<path d="M228.69,1367.35 A62.44,62.44 0 0 0 231.06,1365.8" fill="none" stroke="#ff8a00" stroke-width="3.77"/>
<path d="M230.47,1366.1 A62.36,62.36 0 0 0 232.78,1364.46" fill="none" stroke="#ff8a00" stroke-width="4.09"/>
<path d="M232.18,1364.75 A62.24,62.24 0 0 0 234.43,1363.04" fill="none" stroke="#ff8a00" stroke-width="4.53"/>
<path d="M233.82,1363.32 A62.08,62.08 0 0 0 236,1361.54" fill="none" stroke="#ff8a00" stroke-width="5.1"/>
<path d="M235.38,1361.81 A61.89,61.89 0 0 0 237.49,1359.96" fill="none" stroke="#ff8a00" stroke-width="5.79"/>
<path d="M236.87,1360.24 A61.68,61.68 0 0 0 238.91,1358.32" fill="none" stroke="#ff8a00" stroke-width="6.58"/>
<path d="M238.29,1358.6 A61.45,61.45 0 0 0 240.25,1356.62" fill="none" stroke="#ff8a00" stroke-width="7.41"/>
<path d="M239.64,1356.93 A61.23,61.23 0 0 0 241.53,1354.89" fill="none" stroke="#ff8a00" stroke-width="8.23"/>
<path d="M240.96,1355.24 A61.03,61.03 0 0 0 242.76,1353.14" fill="none" stroke="#ff8a00" stroke-width="8.95"/>
<path d="M242.24,1353.54 A60.89,60.89 0 0 0 243.97,1351.38" fill="none" stroke="#ff8a00" stroke-width="9.48"/>
<path d="M243.52,1351.84 A60.81,60.81 0 0 0 245.17,1349.63" fill="none" stroke="#ff8a00" stroke-width="9.76"/>
<path d="M244.8,1350.14 A60.81,60.81 0 0 0 246.37,1347.87" fill="none" stroke="#ff8a00" stroke-width="9.76"/>
<path d="M246.08,1348.45 A60.89,60.89 0 0 0 247.57,1346.12" fill="none" stroke="#ff8a00" stroke-width="9.48"/>
<path d="M247.36,1346.74 A61.03,61.03 0 0 0 248.77,1344.36" fill="none" stroke="#ff8a00" stroke-width="8.95"/>
<path d="M248.62,1345.01 A61.23,61.23 0 0 0 249.96,1342.58" fill="none" stroke="#ff8a00" stroke-width="8.23"/>
<path d="M249.86,1343.25 A61.45,61.45 0 0 0 251.11,1340.76" fill="none" stroke="#ff8a00" stroke-width="7.41"/>
<path d="M251.04,1341.44 A61.68,61.68 0 0 0 252.21,1338.9" fill="none" stroke="#ff8a00" stroke-width="6.58"/>
<path d="M252.14,1339.57 A61.89,61.89 0 0 0 253.23,1336.98" fill="none" stroke="#ff8a00" stroke-width="5.79"/>
<path d="M253.16,1337.66 A62.08,62.08 0 0 0 254.16,1335.02" fill="none" stroke="#ff8a00" stroke-width="5.1"/>
<path d="M254.08,1335.69 A62.24,62.24 0 0 0 254.99,1333.01" fill="none" stroke="#ff8a00" stroke-width="4.53"/>
<path d="M254.9,1333.67 A62.36,62.36 0 0 0 255.72,1330.96" fill="none" stroke="#ff8a00" stroke-width="4.1"/>
<path d="M255.62,1331.61 A62.44,62.44 0 0 0 256.34,1328.87" fill="none" stroke="#ff8a00" stroke-width="3.78"/>
<path d="M256.24,1329.52 A62.5,62.5 0 0 0 256.87,1326.75" fill="none" stroke="#ff8a00" stroke-width="3.57"/>
<path d="M256.77,1327.4 A62.53,62.53 0 0 0 257.29,1324.61" fill="none" stroke="#ff8a00" stroke-width="3.45"/>
<path d="M257.2,1325.26 A62.55,62.55 0 0 0 257.63,1322.46" fill="none" stroke="#ff8a00" stroke-width="3.39"/>
<path d="M257.54,1323.1 A62.55,62.55 0 0 0 257.87,1320.29" fill="none" stroke="#ff8a00" stroke-width="3.4"/>
<path d="M257.78,1320.94 A62.52,62.52 0 0 0 258.01,1318.11" fill="none" stroke="#ff8a00" stroke-width="3.48"/>
<path d="M257.93,1318.76 A62.48,62.48 0 0 0 258.07,1315.93" fill="none" stroke="#ff8a00" stroke-width="3.63"/>
<path d="M257.98,1316.58 A62.42,62.42 0 0 0 258.02,1313.75" fill="none" stroke="#ff8a00" stroke-width="3.87"/>
<path d="M257.92,1314.4 A62.32,62.32 0 0 0 257.86,1311.57" fill="none" stroke="#e83000" stroke-width="2.63"/>
<path d="M257.76,1312.23 A62.19,62.19 0 0 0 257.59,1309.41" fill="none" stroke="#e83000" stroke-width="3.2"/>
<path d="M257.48,1310.07 A62.03,62.03 0 0 0 257.22,1307.27" fill="none" stroke="#e83000" stroke-width="3.94"/>
<path d="M257.09,1307.94 A61.83,61.83 0 0 0 256.74,1305.15" fill="none" stroke="#e83000" stroke-width="4.81"/>
<path d="M256.61,1305.83 A61.61,61.61 0 0 0 256.16,1303.07" fill="none" stroke="#e83000" stroke-width="5.79"/>
<path d="M256.05,1303.74 A61.38,61.38 0 0 0 255.5,1301.01" fill="none" stroke="#e83000" stroke-width="6.81"/>
<path d="M255.43,1301.68 A61.17,61.17 0 0 0 254.79,1298.98" fill="none" stroke="#e83000" stroke-width="7.78"/>
<path d="M254.77,1299.65 A60.98,60.98 0 0 0 254.04,1296.98" fill="none" stroke="#e83000" stroke-width="8.59"/>
<path d="M254.1,1297.63 A60.86,60.86 0 0 0 253.28,1294.99" fill="none" stroke="#e83000" stroke-width="9.15"/>
<path d="M253.43,1295.61 A60.8,60.8 0 0 0 252.51,1293.01" fill="none" stroke="#e83000" stroke-width="9.39"/>
<path d="M252.76,1293.6 A60.83,60.83 0 0 0 251.75,1291.03" fill="none" stroke="#e83000" stroke-width="9.29"/>
<path d="M252.09,1291.58 A60.92,60.92 0 0 0 250.99,1289.04" fill="none" stroke="#e83000" stroke-width="8.85"/>
<path d="M251.41,1289.55 A61.09,61.09 0 0 0 250.22,1287.05" fill="none" stroke="#e83000" stroke-width="8.12"/>
<path d="M250.69,1287.53 A61.29,61.29 0 0 0 249.41,1285.06" fill="none" stroke="#e83000" stroke-width="7.21"/>
<path d="M249.92,1285.52 A61.52,61.52 0 0 0 248.55,1283.08" fill="none" stroke="#e83000" stroke-width="6.2"/>
<path d="M249.07,1283.53 A61.75,61.75 0 0 0 247.62,1281.13" fill="none" stroke="#e83000" stroke-width="5.2"/>
<path d="M248.14,1281.57 A61.95,61.95 0 0 0 246.6,1279.22" fill="none" stroke="#e83000" stroke-width="4.27"/>
<path d="M247.11,1279.66 A62.13,62.13 0 0 0 245.48,1277.36" fill="none" stroke="#e83000" stroke-width="3.48"/>
<path d="M245.98,1277.79 A62.28,62.28 0 0 0 244.27,1275.55" fill="none" stroke="#e83000" stroke-width="2.84"/>
<path d="M244.76,1275.99 A62.39,62.39 0 0 0 242.97,1273.8" fill="none" stroke="#e83000" stroke-width="2.35"/>
<path d="M243.45,1274.25 A62.46,62.46 0 0 0 241.58,1272.12" fill="none" stroke="#e83000" stroke-width="2"/>
<path d="M242.06,1272.57 A62.52,62.52 0 0 0 240.11,1270.5" fill="none" stroke="#e83000" stroke-width="1.77"/>
<path d="M240.6,1270.95 A62.55,62.55 0 0 0 238.58,1268.95" fill="none" stroke="#e83000" stroke-width="1.61"/>
<path d="M239.07,1269.39 A62.57,62.57 0 0 0 236.98,1267.46" fill="none" stroke="#e83000" stroke-width="1.52"/>
<path d="M237.48,1267.89 A62.58,62.58 0 0 0 235.32,1266.04" fill="none" stroke="#e83000" stroke-width="1.48"/>
<path d="M235.83,1266.46 A62.59,62.59 0 0 0 233.61,1264.68" fill="none" stroke="#e83000" stroke-width="1.46"/>
<path d="M234.13,1265.08 A62.58,62.58 0 0 0 231.85,1263.39" fill="none" stroke="#e83000" stroke-width="1.47"/>
<path d="M232.38,1263.78 A62.58,62.58 0 0 0 230.05,1262.16" fill="none" stroke="#e83000" stroke-width="1.51"/>
<path d="M230.58,1262.54 A62.56,62.56 0 0 0 228.19,1261" fill="none" stroke="#e83000" stroke-width="1.59"/>
<path d="M228.73,1261.38 A62.53,62.53 0 0 0 226.29,1259.93" fill="none" stroke="#e83000" stroke-width="1.73"/>
<path d="M226.84,1260.29 A62.48,62.48 0 0 0 224.35,1258.93" fill="none" stroke="#e83000" stroke-width="1.95"/>
<path d="M224.9,1259.3 A62.4,62.4 0 0 0 222.37,1258.03" fill="none" stroke="#e83000" stroke-width="2.27"/>
<path d="M222.91,1258.4 A62.3,62.3 0 0 0 220.34,1257.22" fill="none" stroke="#e83000" stroke-width="2.73"/>
<path d="M220.88,1257.61 A62.16,62.16 0 0 0 218.28,1256.52" fill="none" stroke="#e83000" stroke-width="3.34"/>
<path d="M218.82,1256.92 A61.99,61.99 0 0 0 216.19,1255.93" fill="none" stroke="#e83000" stroke-width="4.1"/>
<path d="M216.73,1256.34 A61.79,61.79 0 0 0 214.08,1255.44" fill="none" stroke="#e83000" stroke-width="5"/>
<path d="M214.62,1255.85 A61.57,61.57 0 0 0 211.95,1255.04" fill="none" stroke="#e83000" stroke-width="6"/>
<path d="M212.51,1255.44 A61.34,61.34 0 0 0 209.81,1254.73" fill="none" stroke="#e83000" stroke-width="7.01"/>
<path d="M210.39,1255.09 A61.13,61.13 0 0 0 207.68,1254.48" fill="none" stroke="#e83000" stroke-width="7.95"/>
<path d="M208.27,1254.78 A60.95,60.95 0 0 0 205.56,1254.27" fill="none" stroke="#e83000" stroke-width="8.72"/>
<path d="M206.16,1254.48 A60.84,60.84 0 0 0 203.44,1254.07" fill="none" stroke="#e83000" stroke-width="9.22"/>
<path d="M204.06,1254.19 A60.8,60.8 0 0 0 201.32,1253.87" fill="none" stroke="#e83000" stroke-width="9.4"/>
<path d="M201.96,1253.89 A60.84,60.84 0 0 0 199.21,1253.67" fill="none" stroke="#e83000" stroke-width="9.22"/>
<path d="M199.85,1253.6 A60.95,60.95 0 0 0 197.09,1253.47" fill="none" stroke="#e83000" stroke-width="8.72"/>
<path d="M197.73,1253.31 A61.13,61.13 0 0 0 194.96,1253.28" fill="none" stroke="#e83000" stroke-width="7.95"/>
<path d="M195.6,1253.06 A61.34,61.34 0 0 0 192.82,1253.13" fill="none" stroke="#e83000" stroke-width="7.01"/>
<path d="M193.45,1252.87 A61.57,61.57 0 0 0 190.66,1253.03" fill="none" stroke="#e83000" stroke-width="6"/>
<path d="M191.29,1252.76 A61.79,61.79 0 0 0 188.5,1253.02" fill="none" stroke="#e83000" stroke-width="5"/>
<path d="M189.12,1252.75 A61.99,61.99 0 0 0 186.33,1253.1" fill="none" stroke="#e83000" stroke-width="4.1"/>
<path d="M186.95,1252.84 A62.16,62.16 0 0 0 184.16,1253.3" fill="none" stroke="#e83000" stroke-width="3.34"/>
<path d="M184.78,1253.05 A62.3,62.3 0 0 0 182.01,1253.6" fill="none" stroke="#e83000" stroke-width="2.73"/>
<path d="M182.63,1253.36 A62.4,62.4 0 0 0 179.87,1254.01" fill="none" stroke="#e83000" stroke-width="2.27"/>
<path d="M180.49,1253.78 A62.48,62.48 0 0 0 177.75,1254.53" fill="none" stroke="#e83000" stroke-width="1.95"/>
<path d="M178.37,1254.3 A62.53,62.53 0 0 0 175.66,1255.14" fill="none" stroke="#e83000" stroke-width="1.73"/>
<path d="M176.27,1254.91 A62.56,62.56 0 0 0 173.59,1255.84" fill="none" stroke="#e83000" stroke-width="1.6"/>
<path d="M174.2,1255.6 A62.57,62.57 0 0 0 171.55,1256.63" fill="none" stroke="#e83000" stroke-width="1.52"/>
<path d="M172.16,1256.38 A62.58,62.58 0 0 0 169.55,1257.5" fill="none" stroke="#e83000" stroke-width="1.49"/>
<path d="M170.15,1257.23 A62.58,62.58 0 0 0 167.58,1258.44" fill="none" stroke="#e83000" stroke-width="1.49"/>
<path d="M168.17,1258.16 A62.57,62.57 0 0 0 165.65,1259.47" fill="none" stroke="#e83000" stroke-width="1.54"/>
<path d="M166.24,1259.17 A62.55,62.55 0 0 0 163.76,1260.56" fill="none" stroke="#e83000" stroke-width="1.63"/>
<path d="M164.34,1260.26 A62.51,62.51 0 0 0 161.92,1261.74" fill="none" stroke="#e83000" stroke-width="1.79"/>
<path d="M162.5,1261.43 A62.46,62.46 0 0 0 160.13,1262.99" fill="none" stroke="#e83000" stroke-width="2.03"/>
<path d="M160.72,1262.69 A62.38,62.38 0 0 0 158.41,1264.32" fill="none" stroke="#e83000" stroke-width="2.39"/>
<path d="M159,1264.03 A62.26,62.26 0 0 0 156.76,1265.74" fill="none" stroke="#e83000" stroke-width="2.9"/>
<path d="M157.36,1265.45 A62.12,62.12 0 0 0 155.18,1267.24" fill="none" stroke="#e83000" stroke-width="3.55"/>
<path d="M155.79,1266.96 A61.93,61.93 0 0 0 153.68,1268.81" fill="none" stroke="#e83000" stroke-width="4.36"/>
<path d="M154.3,1268.53 A61.72,61.72 0 0 0 152.26,1270.45" fill="none" stroke="#e83000" stroke-width="5.29"/>
<path d="M152.88,1270.16 A61.5,61.5 0 0 0 150.92,1272.15" fill="none" stroke="#e83000" stroke-width="6.3"/>
<path d="M151.53,1271.84 A61.27,61.27 0 0 0 149.64,1273.88" fill="none" stroke="#e83000" stroke-width="7.31"/>
<path d="M150.22,1273.54 A61.07,61.07 0 0 0 148.41,1275.64" fill="none" stroke="#e83000" stroke-width="8.21"/>
<path d="M148.94,1275.25 A60.91,60.91 0 0 0 147.21,1277.4" fill="none" stroke="#e83000" stroke-width="8.9"/>
<path d="M147.67,1276.96 A60.82,60.82 0 0 0 146.02,1279.17" fill="none" stroke="#e83000" stroke-width="9.31"/>
<path d="M146.41,1278.66 A60.8,60.8 0 0 0 144.84,1280.93" fill="none" stroke="#e83000" stroke-width="9.38"/>
<path d="M145.14,1280.36 A60.87,60.87 0 0 0 143.65,1282.69" fill="none" stroke="#e83000" stroke-width="9.11"/>
<path d="M143.87,1282.08 A61,61 0 0 0 142.46,1284.46" fill="none" stroke="#e83000" stroke-width="8.52"/>
<path d="M142.61,1283.81 A61.19,61.19 0 0 0 141.28,1286.24" fill="none" stroke="#e83000" stroke-width="7.68"/>
<path d="M141.38,1285.57 A61.41,61.41 0 0 0 140.13,1288.06" fill="none" stroke="#e83000" stroke-width="6.71"/>
<path d="M140.2,1287.38 A61.63,61.63 0 0 0 139.04,1289.92" fill="none" stroke="#e83000" stroke-width="5.69"/>
<path d="M139.09,1289.24 A61.85,61.85 0 0 0 138.01,1291.83" fill="none" stroke="#e83000" stroke-width="4.72"/>
<path d="M138.07,1291.16 A62.05,62.05 0 0 0 137.08,1293.79" fill="none" stroke="#e83000" stroke-width="3.86"/>
<path d="M137.14,1293.12 A62.21,62.21 0 0 0 136.24,1295.8" fill="none" stroke="#e83000" stroke-width="3.14"/>
<path d="M136.32,1295.14 A62.33,62.33 0 0 0 135.5,1297.85" fill="none" stroke="#e83000" stroke-width="2.58"/>
<path d="M135.59,1297.19 A62.43,62.43 0 0 0 134.87,1299.93" fill="none" stroke="#e83000" stroke-width="2.17"/>
<path d="M134.97,1299.28 A62.49,62.49 0 0 0 134.34,1302.05" fill="none" stroke="#e83000" stroke-width="1.9"/>
<path d="M134.44,1301.4 A62.53,62.53 0 0 0 133.91,1304.19" fill="none" stroke="#e83000" stroke-width="1.73"/>
<path d="M134.01,1303.54 A62.54,62.54 0 0 0 133.58,1306.34" fill="none" stroke="#e83000" stroke-width="1.65"/>
<path d="M133.67,1305.7 A62.54,62.54 0 0 0 133.34,1308.51" fill="none" stroke="#e83000" stroke-width="1.66"/>
<path d="M133.42,1307.86 A62.52,62.52 0 0 0 133.19,1310.69" fill="none" stroke="#e83000" stroke-width="1.75"/>
<path d="M133.27,1310.04 A62.48,62.48 0 0 0 133.14,1312.87" fill="none" stroke="#e83000" stroke-width="1.93"/>
<path d="M133.22,1312.22 A62.41,62.41 0 0 0 133.19,1315.05" fill="none" stroke="#e83000" stroke-width="2.23"/>
<path d="M133.28,1314.4 A62.32,62.32 0 0 0 133.35,1317.23" fill="none" stroke="#e83000" stroke-width="2.66"/>
<path d="M133.45,1316.57 A62.19,62.19 0 0 0 133.61,1319.39" fill="none" stroke="#e83000" stroke-width="3.24"/>
<path d="M133.73,1318.73 A62.02,62.02 0 0 0 133.99,1321.53" fill="none" stroke="#e83000" stroke-width="3.98"/>
<path d="M134.12,1320.86 A61.82,61.82 0 0 0 134.47,1323.64" fill="none" stroke="#e83000" stroke-width="4.86"/>
<path d="M134.6,1322.97 A61.6,61.6 0 0 0 135.05,1325.73" fill="none" stroke="#e83000" stroke-width="5.84"/>
<path d="M135.16,1325.06 A61.37,61.37 0 0 0 135.71,1327.79" fill="none" stroke="#e83000" stroke-width="6.86"/>
<path d="M135.78,1327.11 A61.16,61.16 0 0 0 136.42,1329.82" fill="none" stroke="#e83000" stroke-width="7.82"/>
<path d="M136.44,1329.15 A60.98,60.98 0 0 0 137.17,1331.82" fill="none" stroke="#e83000" stroke-width="8.62"/>
<path d="M137.11,1331.17 A60.85,60.85 0 0 0 137.93,1333.81" fill="none" stroke="#e83000" stroke-width="9.17"/>
<path d="M137.77,1333.19 A60.8,60.8 0 0 0 138.69,1335.79" fill="none" stroke="#e83000" stroke-width="9.4"/>
<path d="M138.44,1335.2 A60.83,60.83 0 0 0 139.44,1337.78" fill="none" stroke="#e83000" stroke-width="9.27"/>
<path d="M139.11,1337.23 A60.93,60.93 0 0 0 140.2,1339.76" fill="none" stroke="#e83000" stroke-width="8.82"/>
<path d="M139.79,1339.25 A61.1,61.1 0 0 0 140.97,1341.76" fill="none" stroke="#e83000" stroke-width="8.08"/>
<path d="M140.5,1341.27 A61.3,61.3 0 0 0 141.78,1343.75" fill="none" stroke="#e83000" stroke-width="7.16"/>
<path d="M141.27,1343.29 A61.53,61.53 0 0 0 142.64,1345.72" fill="none" stroke="#e83000" stroke-width="6.15"/>
<path d="M142.12,1345.28 A61.76,61.76 0 0 0 143.57,1347.67" fill="none" stroke="#e83000" stroke-width="5.15"/>
<path d="M143.05,1347.24 A61.96,61.96 0 0 0 144.6,1349.59" fill="none" stroke="#e83000" stroke-width="4.23"/>
<path d="M144.08,1349.15 A62.14,62.14 0 0 0 145.71,1351.45" fill="none" stroke="#e83000" stroke-width="3.44"/>
<path d="M145.21,1351.01 A62.28,62.28 0 0 0 146.92,1353.26" fill="none" stroke="#e83000" stroke-width="2.81"/>
<path d="M146.44,1352.81 A62.39,62.39 0 0 0 148.23,1355" fill="none" stroke="#e83000" stroke-width="2.33"/>
<path d="M147.75,1354.55 A62.47,62.47 0 0 0 149.62,1356.68" fill="none" stroke="#e83000" stroke-width="1.99"/>
<path d="M149.14,1356.23 A62.52,62.52 0 0 0 151.08,1358.3" fill="none" stroke="#e83000" stroke-width="1.76"/>
<path d="M150.6,1357.85 A62.55,62.55 0 0 0 152.62,1359.85" fill="none" stroke="#e83000" stroke-width="1.61"/>
<path d="M152.13,1359.41 A62.57,62.57 0 0 0 154.22,1361.34" fill="none" stroke="#e83000" stroke-width="1.52"/>
<path d="M153.72,1360.91 A62.58,62.58 0 0 0 155.88,1362.76" fill="none" stroke="#e83000" stroke-width="1.47"/>
<path d="M155.37,1362.35 A62.59,62.59 0 0 0 157.58,1364.12" fill="none" stroke="#e83000" stroke-width="1.45"/>
<path d="M157.07,1363.72 A62.59,62.59 0 0 0 159.34,1365.42" fill="none" stroke="#e83000" stroke-width="1.45"/>
<path d="M158.81,1365.03 A62.58,62.58 0 0 0 161.15,1366.65" fill="none" stroke="#e83000" stroke-width="1.48"/>
<path d="M160.61,1366.27 A62.57,62.57 0 0 0 163,1367.81" fill="none" stroke="#e83000" stroke-width="1.54"/>
<path d="M162.46,1367.44 A62.55,62.55 0 0 0 164.9,1368.89" fill="none" stroke="#e83000" stroke-width="1.64"/>
<path d="M164.35,1368.53 A62.51,62.51 0 0 0 166.83,1369.9" fill="none" stroke="#e83000" stroke-width="1.81"/>
<path d="M166.28,1369.54 A62.45,62.45 0 0 0 168.81,1370.81" fill="none" stroke="#e83000" stroke-width="2.06"/>
<path d="M168.26,1370.45 A62.37,62.37 0 0 0 170.83,1371.64" fill="none" stroke="#e83000" stroke-width="2.44"/>
<path d="M170.28,1371.27 A62.25,62.25 0 0 0 172.89,1372.36" fill="none" stroke="#e83000" stroke-width="2.95"/>
<path d="M172.34,1371.98 A62.1,62.1 0 0 0 174.97,1372.97" fill="none" stroke="#e83000" stroke-width="3.62"/>
<path d="M174.42,1372.58 A61.91,61.91 0 0 0 177.09,1373.48" fill="none" stroke="#e83000" stroke-width="4.45"/>
<path d="M176.53,1373.08 A61.7,61.7 0 0 0 179.21,1373.89" fill="none" stroke="#e83000" stroke-width="5.39"/>
<path d="M178.66,1373.49 A61.47,61.47 0 0 0 181.35,1374.2" fill="none" stroke="#e83000" stroke-width="6.41"/>
<path d="M180.78,1373.83 A61.25,61.25 0 0 0 183.49,1374.44" fill="none" stroke="#e83000" stroke-width="7.4"/>
<path d="M182.91,1374.12 A61.05,61.05 0 0 0 185.63,1374.63" fill="none" stroke="#e83000" stroke-width="8.29"/>
<path d="M185.02,1374.37 A60.9,60.9 0 0 0 187.76,1374.79" fill="none" stroke="#e83000" stroke-width="8.96"/>
<path d="M187.14,1374.62 A60.81,60.81 0 0 0 189.88,1374.94" fill="none" stroke="#e83000" stroke-width="9.34"/>
<path d="M189.24,1374.87 A60.81,60.81 0 0 0 191.99,1375.1" fill="none" stroke="#e83000" stroke-width="9.37"/>
<path d="M191.35,1375.13 A60.88,60.88 0 0 0 194.11,1375.26" fill="none" stroke="#e83000" stroke-width="9.06"/>
<path d="M193.47,1375.38 A61.02,61.02 0 0 0 196.24,1375.41" fill="none" stroke="#e83000" stroke-width="8.44"/>
<path d="M195.6,1375.61 A61.21,61.21 0 0 0 198.38,1375.54" fill="none" stroke="#e83000" stroke-width="7.59"/>
<path d="M197.74,1375.79 A61.43,61.43 0 0 0 200.53,1375.63" fill="none" stroke="#e83000" stroke-width="6.61"/>
<path d="M199.9,1375.91 A61.66,61.66 0 0 0 202.69,1375.65" fill="none" stroke="#e83000" stroke-width="5.59"/>
<path d="M202.07,1375.93 A61.87,61.87 0 0 0 204.85,1375.58" fill="none" stroke="#e83000" stroke-width="4.63"/>
<path d="M204.24,1375.86 A62.07,62.07 0 0 0 207.02,1375.41" fill="none" stroke="#e83000" stroke-width="3.78"/>
<path d="M206.4,1375.68 A62.22,62.22 0 0 0 209.17,1375.12" fill="none" stroke="#e83000" stroke-width="3.08"/>
<path d="M208.56,1375.38 A62.35,62.35 0 0 0 211.32,1374.73" fill="none" stroke="#e83000" stroke-width="2.53"/>
<path d="M210.7,1374.98 A62.44,62.44 0 0 0 213.44,1374.23" fill="none" stroke="#e83000" stroke-width="2.13"/>
<path d="M212.83,1374.48 A62.5,62.5 0 0 0 215.53,1373.63" fill="none" stroke="#e83000" stroke-width="1.85"/>
<path d="M214.93,1373.88 A62.54,62.54 0 0 0 217.6,1372.94" fill="none" stroke="#e83000" stroke-width="1.67"/>
<path d="M217,1373.19 A62.56,62.56 0 0 0 219.64,1372.16" fill="none" stroke="#e83000" stroke-width="1.57"/>
<path d="M219.04,1372.42 A62.57,62.57 0 0 0 221.65,1371.29" fill="none" stroke="#e83000" stroke-width="1.52"/>
<path d="M221.05,1371.56 A62.57,62.57 0 0 0 223.62,1370.35" fill="none" stroke="#e83000" stroke-width="1.52"/>
<path d="M223.03,1370.63 A62.56,62.56 0 0 0 225.55,1369.33" fill="none" stroke="#e83000" stroke-width="1.56"/>
<path d="M224.96,1369.62 A62.54,62.54 0 0 0 227.44,1368.23" fill="none" stroke="#e83000" stroke-width="1.66"/>
<path d="M226.85,1368.53 A62.5,62.5 0 0 0 229.27,1367.06" fill="none" stroke="#e83000" stroke-width="1.83"/>
<path d="M228.69,1367.35 A62.44,62.44 0 0 0 231.06,1365.8" fill="none" stroke="#e83000" stroke-width="2.1"/>
<path d="M230.47,1366.1 A62.36,62.36 0 0 0 232.78,1364.46" fill="none" stroke="#e83000" stroke-width="2.48"/>
<path d="M232.18,1364.75 A62.24,62.24 0 0 0 234.43,1363.04" fill="none" stroke="#e83000" stroke-width="3.01"/>
<path d="M233.82,1363.32 A62.08,62.08 0 0 0 236,1361.54" fill="none" stroke="#e83000" stroke-width="3.7"/>
<path d="M235.38,1361.81 A61.89,61.89 0 0 0 237.49,1359.96" fill="none" stroke="#e83000" stroke-width="4.54"/>
<path d="M236.87,1360.24 A61.68,61.68 0 0 0 238.91,1358.32" fill="none" stroke="#e83000" stroke-width="5.49"/>
<path d="M238.29,1358.6 A61.45,61.45 0 0 0 240.25,1356.62" fill="none" stroke="#e83000" stroke-width="6.51"/>
<path d="M239.64,1356.93 A61.23,61.23 0 0 0 241.53,1354.89" fill="none" stroke="#e83000" stroke-width="7.5"/>
<path d="M240.96,1355.24 A61.03,61.03 0 0 0 242.76,1353.14" fill="none" stroke="#e83000" stroke-width="8.37"/>
<path d="M242.24,1353.54 A60.89,60.89 0 0 0 243.97,1351.38" fill="none" stroke="#e83000" stroke-width="9.01"/>
<path d="M243.52,1351.84 A60.81,60.81 0 0 0 245.17,1349.63" fill="none" stroke="#e83000" stroke-width="9.36"/>
<path d="M244.8,1350.14 A60.81,60.81 0 0 0 246.37,1347.87" fill="none" stroke="#e83000" stroke-width="9.36"/>
<path d="M246.08,1348.45 A60.89,60.89 0 0 0 247.57,1346.12" fill="none" stroke="#e83000" stroke-width="9.01"/>
<path d="M247.36,1346.74 A61.03,61.03 0 0 0 248.77,1344.36" fill="none" stroke="#e83000" stroke-width="8.37"/>
<path d="M248.62,1345.01 A61.23,61.23 0 0 0 249.96,1342.58" fill="none" stroke="#e83000" stroke-width="7.5"/>
<path d="M249.86,1343.25 A61.45,61.45 0 0 0 251.11,1340.76" fill="none" stroke="#e83000" stroke-width="6.51"/>
<path d="M251.04,1341.44 A61.68,61.68 0 0 0 252.21,1338.9" fill="none" stroke="#e83000" stroke-width="5.49"/>
<path d="M252.14,1339.57 A61.89,61.89 0 0 0 253.23,1336.98" fill="none" stroke="#e83000" stroke-width="4.54"/>
<path d="M253.16,1337.66 A62.08,62.08 0 0 0 254.16,1335.02" fill="none" stroke="#e83000" stroke-width="3.7"/>
<path d="M254.08,1335.69 A62.24,62.24 0 0 0 254.99,1333.01" fill="none" stroke="#e83000" stroke-width="3.02"/>
<path d="M254.9,1333.67 A62.36,62.36 0 0 0 255.72,1330.96" fill="none" stroke="#e83000" stroke-width="2.49"/>
<path d="M255.62,1331.61 A62.44,62.44 0 0 0 256.34,1328.87" fill="none" stroke="#e83000" stroke-width="2.11"/>
<path d="M256.24,1329.52 A62.5,62.5 0 0 0 256.87,1326.75" fill="none" stroke="#e83000" stroke-width="1.85"/>
<path d="M256.77,1327.4 A62.53,62.53 0 0 0 257.29,1324.61" fill="none" stroke="#e83000" stroke-width="1.7"/>
<path d="M257.2,1325.26 A62.55,62.55 0 0 0 257.63,1322.46" fill="none" stroke="#e83000" stroke-width="1.63"/>
<path d="M257.54,1323.1 A62.55,62.55 0 0 0 257.87,1320.29" fill="none" stroke="#e83000" stroke-width="1.64"/>
<path d="M257.78,1320.94 A62.52,62.52 0 0 0 258.01,1318.11" fill="none" stroke="#e83000" stroke-width="1.73"/>
<path d="M257.93,1318.76 A62.48,62.48 0 0 0 258.07,1315.93" fill="none" stroke="#e83000" stroke-width="1.92"/>
<path d="M257.98,1316.58 A62.42,62.42 0 0 0 258.02,1313.75" fill="none" stroke="#e83000" stroke-width="2.21"/>
<path d="M257.76,1312.23 A62.19,62.19 0 0 0 257.59,1309.41" fill="none" stroke="#a00000" stroke-width="0.23"/>
<path d="M257.48,1310.07 A62.03,62.03 0 0 0 257.22,1307.27" fill="none" stroke="#a00000" stroke-width="1.05"/>
<path d="M257.09,1307.94 A61.83,61.83 0 0 0 256.74,1305.15" fill="none" stroke="#a00000" stroke-width="2.04"/>
<path d="M256.61,1305.83 A61.61,61.61 0 0 0 256.16,1303.07" fill="none" stroke="#a00000" stroke-width="3.14"/>
<path d="M256.05,1303.74 A61.38,61.38 0 0 0 255.5,1301.01" fill="none" stroke="#a00000" stroke-width="4.29"/>
<path d="M255.43,1301.68 A61.17,61.17 0 0 0 254.79,1298.98" fill="none" stroke="#a00000" stroke-width="5.37"/>
<path d="M254.77,1299.65 A60.98,60.98 0 0 0 254.04,1296.98" fill="none" stroke="#a00000" stroke-width="6.28"/>
<path d="M254.1,1297.63 A60.86,60.86 0 0 0 253.28,1294.99" fill="none" stroke="#a00000" stroke-width="6.92"/>
<path d="M253.43,1295.61 A60.8,60.8 0 0 0 252.51,1293.01" fill="none" stroke="#a00000" stroke-width="7.19"/>
<path d="M252.76,1293.6 A60.83,60.83 0 0 0 251.75,1291.03" fill="none" stroke="#a00000" stroke-width="7.07"/>
<path d="M252.09,1291.58 A60.92,60.92 0 0 0 250.99,1289.04" fill="none" stroke="#a00000" stroke-width="6.58"/>
<path d="M251.41,1289.55 A61.09,61.09 0 0 0 250.22,1287.05" fill="none" stroke="#a00000" stroke-width="5.76"/>
<path d="M250.69,1287.53 A61.29,61.29 0 0 0 249.41,1285.06" fill="none" stroke="#a00000" stroke-width="4.74"/>
<path d="M249.92,1285.52 A61.52,61.52 0 0 0 248.55,1283.08" fill="none" stroke="#a00000" stroke-width="3.6"/>
<path d="M249.07,1283.53 A61.75,61.75 0 0 0 247.62,1281.13" fill="none" stroke="#a00000" stroke-width="2.47"/>
<path d="M248.14,1281.57 A61.95,61.95 0 0 0 246.6,1279.22" fill="none" stroke="#a00000" stroke-width="1.43"/>
<path d="M247.11,1279.66 A62.13,62.13 0 0 0 245.48,1277.36" fill="none" stroke="#a00000" stroke-width="0.54"/>
<path d="M220.88,1257.61 A62.16,62.16 0 0 0 218.28,1256.52" fill="none" stroke="#a00000" stroke-width="0.38"/>
<path d="M218.82,1256.92 A61.99,61.99 0 0 0 216.19,1255.93" fill="none" stroke="#a00000" stroke-width="1.24"/>
<path d="M216.73,1256.34 A61.79,61.79 0 0 0 214.08,1255.44" fill="none" stroke="#a00000" stroke-width="2.25"/>
<path d="M214.62,1255.85 A61.57,61.57 0 0 0 211.95,1255.04" fill="none" stroke="#a00000" stroke-width="3.37"/>
<path d="M212.51,1255.44 A61.34,61.34 0 0 0 209.81,1254.73" fill="none" stroke="#a00000" stroke-width="4.51"/>
<path d="M210.39,1255.09 A61.13,61.13 0 0 0 207.68,1254.48" fill="none" stroke="#a00000" stroke-width="5.57"/>
<path d="M208.27,1254.78 A60.95,60.95 0 0 0 205.56,1254.27" fill="none" stroke="#a00000" stroke-width="6.44"/>
<path d="M206.16,1254.48 A60.84,60.84 0 0 0 203.44,1254.07" fill="none" stroke="#a00000" stroke-width="7"/>
<path d="M204.06,1254.19 A60.8,60.8 0 0 0 201.32,1253.87" fill="none" stroke="#a00000" stroke-width="7.2"/>
<path d="M201.96,1253.89 A60.84,60.84 0 0 0 199.21,1253.67" fill="none" stroke="#a00000" stroke-width="7"/>
<path d="M199.85,1253.6 A60.95,60.95 0 0 0 197.09,1253.47" fill="none" stroke="#a00000" stroke-width="6.44"/>
<path d="M197.73,1253.31 A61.13,61.13 0 0 0 194.96,1253.28" fill="none" stroke="#a00000" stroke-width="5.57"/>
<path d="M195.6,1253.06 A61.34,61.34 0 0 0 192.82,1253.13" fill="none" stroke="#a00000" stroke-width="4.51"/>
<path d="M193.45,1252.87 A61.57,61.57 0 0 0 190.66,1253.03" fill="none" stroke="#a00000" stroke-width="3.37"/>
<path d="M191.29,1252.76 A61.79,61.79 0 0 0 188.5,1253.02" fill="none" stroke="#a00000" stroke-width="2.25"/>
<path d="M189.12,1252.75 A61.99,61.99 0 0 0 186.33,1253.1" fill="none" stroke="#a00000" stroke-width="1.24"/>
<path d="M186.95,1252.84 A62.16,62.16 0 0 0 184.16,1253.3" fill="none" stroke="#a00000" stroke-width="0.38"/>
<path d="M157.36,1265.45 A62.12,62.12 0 0 0 155.18,1267.24" fill="none" stroke="#a00000" stroke-width="0.62"/>
<path d="M155.79,1266.96 A61.93,61.93 0 0 0 153.68,1268.81" fill="none" stroke="#a00000" stroke-width="1.53"/>
<path d="M154.3,1268.53 A61.72,61.72 0 0 0 152.26,1270.45" fill="none" stroke="#a00000" stroke-width="2.58"/>
<path d="M152.88,1270.16 A61.5,61.5 0 0 0 150.92,1272.15" fill="none" stroke="#a00000" stroke-width="3.72"/>
<path d="M151.53,1271.84 A61.27,61.27 0 0 0 149.64,1273.88" fill="none" stroke="#a00000" stroke-width="4.84"/>
<path d="M150.22,1273.54 A61.07,61.07 0 0 0 148.41,1275.64" fill="none" stroke="#a00000" stroke-width="5.86"/>
<path d="M148.94,1275.25 A60.91,60.91 0 0 0 147.21,1277.4" fill="none" stroke="#a00000" stroke-width="6.64"/>
<path d="M147.67,1276.96 A60.82,60.82 0 0 0 146.02,1279.17" fill="none" stroke="#a00000" stroke-width="7.1"/>
<path d="M146.41,1278.66 A60.8,60.8 0 0 0 144.84,1280.93" fill="none" stroke="#a00000" stroke-width="7.18"/>
<path d="M145.14,1280.36 A60.87,60.87 0 0 0 143.65,1282.69" fill="none" stroke="#a00000" stroke-width="6.87"/>
<path d="M143.87,1282.08 A61,61 0 0 0 142.46,1284.46" fill="none" stroke="#a00000" stroke-width="6.2"/>
<path d="M142.61,1283.81 A61.19,61.19 0 0 0 141.28,1286.24" fill="none" stroke="#a00000" stroke-width="5.27"/>
<path d="M141.38,1285.57 A61.41,61.41 0 0 0 140.13,1288.06" fill="none" stroke="#a00000" stroke-width="4.17"/>
<path d="M140.2,1287.38 A61.63,61.63 0 0 0 139.04,1289.92" fill="none" stroke="#a00000" stroke-width="3.03"/>
<path d="M139.09,1289.24 A61.85,61.85 0 0 0 138.01,1291.83" fill="none" stroke="#a00000" stroke-width="1.94"/>
<path d="M138.07,1291.16 A62.05,62.05 0 0 0 137.08,1293.79" fill="none" stroke="#a00000" stroke-width="0.96"/>
<path d="M137.14,1293.12 A62.21,62.21 0 0 0 136.24,1295.8" fill="none" stroke="#a00000" stroke-width="0.16"/>
<path d="M133.45,1316.57 A62.19,62.19 0 0 0 133.61,1319.39" fill="none" stroke="#a00000" stroke-width="0.27"/>
<path d="M133.73,1318.73 A62.02,62.02 0 0 0 133.99,1321.53" fill="none" stroke="#a00000" stroke-width="1.1"/>
<path d="M134.12,1320.86 A61.82,61.82 0 0 0 134.47,1323.64" fill="none" stroke="#a00000" stroke-width="2.09"/>
<path d="M134.6,1322.97 A61.6,61.6 0 0 0 135.05,1325.73" fill="none" stroke="#a00000" stroke-width="3.2"/>
<path d="M135.16,1325.06 A61.37,61.37 0 0 0 135.71,1327.79" fill="none" stroke="#a00000" stroke-width="4.34"/>
<path d="M135.78,1327.11 A61.16,61.16 0 0 0 136.42,1329.82" fill="none" stroke="#a00000" stroke-width="5.42"/>
<path d="M136.44,1329.15 A60.98,60.98 0 0 0 137.17,1331.82" fill="none" stroke="#a00000" stroke-width="6.32"/>
<path d="M137.11,1331.17 A60.85,60.85 0 0 0 137.93,1333.81" fill="none" stroke="#a00000" stroke-width="6.94"/>
<path d="M137.77,1333.19 A60.8,60.8 0 0 0 138.69,1335.79" fill="none" stroke="#a00000" stroke-width="7.2"/>
<path d="M138.44,1335.2 A60.83,60.83 0 0 0 139.44,1337.78" fill="none" stroke="#a00000" stroke-width="7.06"/>
<path d="M139.11,1337.23 A60.93,60.93 0 0 0 140.2,1339.76" fill="none" stroke="#a00000" stroke-width="6.54"/>
<path d="M139.79,1339.25 A61.1,61.1 0 0 0 140.97,1341.76" fill="none" stroke="#a00000" stroke-width="5.72"/>
<path d="M140.5,1341.27 A61.3,61.3 0 0 0 141.78,1343.75" fill="none" stroke="#a00000" stroke-width="4.68"/>
<path d="M141.27,1343.29 A61.53,61.53 0 0 0 142.64,1345.72" fill="none" stroke="#a00000" stroke-width="3.54"/>
<path d="M142.12,1345.28 A61.76,61.76 0 0 0 143.57,1347.67" fill="none" stroke="#a00000" stroke-width="2.42"/>
<path d="M143.05,1347.24 A61.96,61.96 0 0 0 144.6,1349.59" fill="none" stroke="#a00000" stroke-width="1.38"/>
<path d="M144.08,1349.15 A62.14,62.14 0 0 0 145.71,1351.45" fill="none" stroke="#a00000" stroke-width="0.5"/>
<path d="M172.34,1371.98 A62.1,62.1 0 0 0 174.97,1372.97" fill="none" stroke="#a00000" stroke-width="0.7"/>
<path d="M174.42,1372.58 A61.91,61.91 0 0 0 177.09,1373.48" fill="none" stroke="#a00000" stroke-width="1.63"/>
<path d="M176.53,1373.08 A61.7,61.7 0 0 0 179.21,1373.89" fill="none" stroke="#a00000" stroke-width="2.69"/>
<path d="M178.66,1373.49 A61.47,61.47 0 0 0 181.35,1374.2" fill="none" stroke="#a00000" stroke-width="3.83"/>
<path d="M180.78,1373.83 A61.25,61.25 0 0 0 183.49,1374.44" fill="none" stroke="#a00000" stroke-width="4.95"/>
<path d="M182.91,1374.12 A61.05,61.05 0 0 0 185.63,1374.63" fill="none" stroke="#a00000" stroke-width="5.95"/>
<path d="M185.02,1374.37 A60.9,60.9 0 0 0 187.76,1374.79" fill="none" stroke="#a00000" stroke-width="6.7"/>
<path d="M187.14,1374.62 A60.81,60.81 0 0 0 189.88,1374.94" fill="none" stroke="#a00000" stroke-width="7.13"/>
<path d="M189.24,1374.87 A60.81,60.81 0 0 0 191.99,1375.1" fill="none" stroke="#a00000" stroke-width="7.17"/>
<path d="M191.35,1375.13 A60.88,60.88 0 0 0 194.11,1375.26" fill="none" stroke="#a00000" stroke-width="6.82"/>
<path d="M193.47,1375.38 A61.02,61.02 0 0 0 196.24,1375.41" fill="none" stroke="#a00000" stroke-width="6.12"/>
<path d="M195.6,1375.61 A61.21,61.21 0 0 0 198.38,1375.54" fill="none" stroke="#a00000" stroke-width="5.17"/>
<path d="M197.74,1375.79 A61.43,61.43 0 0 0 200.53,1375.63" fill="none" stroke="#a00000" stroke-width="4.06"/>
<path d="M199.9,1375.91 A61.66,61.66 0 0 0 202.69,1375.65" fill="none" stroke="#a00000" stroke-width="2.92"/>
<path d="M202.07,1375.93 A61.87,61.87 0 0 0 204.85,1375.58" fill="none" stroke="#a00000" stroke-width="1.83"/>
<path d="M204.24,1375.86 A62.07,62.07 0 0 0 207.02,1375.41" fill="none" stroke="#a00000" stroke-width="0.87"/>
<path d="M206.4,1375.68 A62.22,62.22 0 0 0 209.17,1375.12" fill="none" stroke="#a00000" stroke-width="0.08"/>
<path d="M233.82,1363.32 A62.08,62.08 0 0 0 236,1361.54" fill="none" stroke="#a00000" stroke-width="0.79"/>
<path d="M235.38,1361.81 A61.89,61.89 0 0 0 237.49,1359.96" fill="none" stroke="#a00000" stroke-width="1.73"/>
<path d="M236.87,1360.24 A61.68,61.68 0 0 0 238.91,1358.32" fill="none" stroke="#a00000" stroke-width="2.8"/>
<path d="M238.29,1358.6 A61.45,61.45 0 0 0 240.25,1356.62" fill="none" stroke="#a00000" stroke-width="3.95"/>
<path d="M239.64,1356.93 A61.23,61.23 0 0 0 241.53,1354.89" fill="none" stroke="#a00000" stroke-width="5.06"/>
<path d="M240.96,1355.24 A61.03,61.03 0 0 0 242.76,1353.14" fill="none" stroke="#a00000" stroke-width="6.04"/>
<path d="M242.24,1353.54 A60.89,60.89 0 0 0 243.97,1351.38" fill="none" stroke="#a00000" stroke-width="6.76"/>
<path d="M243.52,1351.84 A60.81,60.81 0 0 0 245.17,1349.63" fill="none" stroke="#a00000" stroke-width="7.15"/>
<path d="M244.8,1350.14 A60.81,60.81 0 0 0 246.37,1347.87" fill="none" stroke="#a00000" stroke-width="7.15"/>
<path d="M246.08,1348.45 A60.89,60.89 0 0 0 247.57,1346.12" fill="none" stroke="#a00000" stroke-width="6.76"/>
<path d="M247.36,1346.74 A61.03,61.03 0 0 0 248.77,1344.36" fill="none" stroke="#a00000" stroke-width="6.04"/>
<path d="M248.62,1345.01 A61.23,61.23 0 0 0 249.96,1342.58" fill="none" stroke="#a00000" stroke-width="5.06"/>
<path d="M249.86,1343.25 A61.45,61.45 0 0 0 251.11,1340.76" fill="none" stroke="#a00000" stroke-width="3.95"/>
<path d="M251.04,1341.44 A61.68,61.68 0 0 0 252.21,1338.9" fill="none" stroke="#a00000" stroke-width="2.8"/>
<path d="M252.14,1339.57 A61.89,61.89 0 0 0 253.23,1336.98" fill="none" stroke="#a00000" stroke-width="1.73"/>
<path d="M253.16,1337.66 A62.08,62.08 0 0 0 254.16,1335.02" fill="none" stroke="#a00000" stroke-width="0.79"/>
<path d="M257.09,1307.94 A61.83,61.83 0 0 0 256.74,1305.15" fill="none" stroke="#500000" stroke-width="0.44"/>
<path d="M256.61,1305.83 A61.61,61.61 0 0 0 256.16,1303.07" fill="none" stroke="#500000" stroke-width="1.54"/>
<path d="M256.05,1303.74 A61.38,61.38 0 0 0 255.5,1301.01" fill="none" stroke="#500000" stroke-width="2.69"/>
<path d="M255.43,1301.68 A61.17,61.17 0 0 0 254.79,1298.98" fill="none" stroke="#500000" stroke-width="3.77"/>
<path d="M254.77,1299.65 A60.98,60.98 0 0 0 254.04,1296.98" fill="none" stroke="#500000" stroke-width="4.68"/>
<path d="M254.1,1297.63 A60.86,60.86 0 0 0 253.28,1294.99" fill="none" stroke="#500000" stroke-width="5.32"/>
<path d="M253.43,1295.61 A60.8,60.8 0 0 0 252.51,1293.01" fill="none" stroke="#500000" stroke-width="5.59"/>
<path d="M252.76,1293.6 A60.83,60.83 0 0 0 251.75,1291.03" fill="none" stroke="#500000" stroke-width="5.47"/>
<path d="M252.09,1291.58 A60.92,60.92 0 0 0 250.99,1289.04" fill="none" stroke="#500000" stroke-width="4.98"/>
<path d="M251.41,1289.55 A61.09,61.09 0 0 0 250.22,1287.05" fill="none" stroke="#500000" stroke-width="4.16"/>
<path d="M250.69,1287.53 A61.29,61.29 0 0 0 249.41,1285.06" fill="none" stroke="#500000" stroke-width="3.14"/>
<path d="M249.92,1285.52 A61.52,61.52 0 0 0 248.55,1283.08" fill="none" stroke="#500000" stroke-width="2"/>
<path d="M249.07,1283.53 A61.75,61.75 0 0 0 247.62,1281.13" fill="none" stroke="#500000" stroke-width="0.87"/>
<path d="M216.73,1256.34 A61.79,61.79 0 0 0 214.08,1255.44" fill="none" stroke="#500000" stroke-width="0.65"/>
<path d="M214.62,1255.85 A61.57,61.57 0 0 0 211.95,1255.04" fill="none" stroke="#500000" stroke-width="1.77"/>
<path d="M212.51,1255.44 A61.34,61.34 0 0 0 209.81,1254.73" fill="none" stroke="#500000" stroke-width="2.91"/>
<path d="M210.39,1255.09 A61.13,61.13 0 0 0 207.68,1254.48" fill="none" stroke="#500000" stroke-width="3.97"/>
<path d="M208.27,1254.78 A60.95,60.95 0 0 0 205.56,1254.27" fill="none" stroke="#500000" stroke-width="4.84"/>
<path d="M206.16,1254.48 A60.84,60.84 0 0 0 203.44,1254.07" fill="none" stroke="#500000" stroke-width="5.4"/>
<path d="M204.06,1254.19 A60.8,60.8 0 0 0 201.32,1253.87" fill="none" stroke="#500000" stroke-width="5.6"/>
<path d="M201.96,1253.89 A60.84,60.84 0 0 0 199.21,1253.67" fill="none" stroke="#500000" stroke-width="5.4"/>
<path d="M199.85,1253.6 A60.95,60.95 0 0 0 197.09,1253.47" fill="none" stroke="#500000" stroke-width="4.84"/>
<path d="M197.73,1253.31 A61.13,61.13 0 0 0 194.96,1253.28" fill="none" stroke="#500000" stroke-width="3.97"/>
<path d="M195.6,1253.06 A61.34,61.34 0 0 0 192.82,1253.13" fill="none" stroke="#500000" stroke-width="2.91"/>
<path d="M193.45,1252.87 A61.57,61.57 0 0 0 190.66,1253.03" fill="none" stroke="#500000" stroke-width="1.77"/>
<path d="M191.29,1252.76 A61.79,61.79 0 0 0 188.5,1253.02" fill="none" stroke="#500000" stroke-width="0.65"/>
<path d="M154.3,1268.53 A61.72,61.72 0 0 0 152.26,1270.45" fill="none" stroke="#500000" stroke-width="0.98"/>
<path d="M152.88,1270.16 A61.5,61.5 0 0 0 150.92,1272.15" fill="none" stroke="#500000" stroke-width="2.12"/>
<path d="M151.53,1271.84 A61.27,61.27 0 0 0 149.64,1273.88" fill="none" stroke="#500000" stroke-width="3.24"/>
<path d="M150.22,1273.54 A61.07,61.07 0 0 0 148.41,1275.64" fill="none" stroke="#500000" stroke-width="4.26"/>
<path d="M148.94,1275.25 A60.91,60.91 0 0 0 147.21,1277.4" fill="none" stroke="#500000" stroke-width="5.04"/>
<path d="M147.67,1276.96 A60.82,60.82 0 0 0 146.02,1279.17" fill="none" stroke="#500000" stroke-width="5.5"/>
<path d="M146.41,1278.66 A60.8,60.8 0 0 0 144.84,1280.93" fill="none" stroke="#500000" stroke-width="5.58"/>
<path d="M145.14,1280.36 A60.87,60.87 0 0 0 143.65,1282.69" fill="none" stroke="#500000" stroke-width="5.27"/>
<path d="M143.87,1282.08 A61,61 0 0 0 142.46,1284.46" fill="none" stroke="#500000" stroke-width="4.6"/>
<path d="M142.61,1283.81 A61.19,61.19 0 0 0 141.28,1286.24" fill="none" stroke="#500000" stroke-width="3.67"/>
<path d="M141.38,1285.57 A61.41,61.41 0 0 0 140.13,1288.06" fill="none" stroke="#500000" stroke-width="2.57"/>
<path d="M140.2,1287.38 A61.63,61.63 0 0 0 139.04,1289.92" fill="none" stroke="#500000" stroke-width="1.43"/>
<path d="M139.09,1289.24 A61.85,61.85 0 0 0 138.01,1291.83" fill="none" stroke="#500000" stroke-width="0.34"/>
<path d="M134.12,1320.86 A61.82,61.82 0 0 0 134.47,1323.64" fill="none" stroke="#500000" stroke-width="0.49"/>
<path d="M134.6,1322.97 A61.6,61.6 0 0 0 135.05,1325.73" fill="none" stroke="#500000" stroke-width="1.6"/>
<path d="M135.16,1325.06 A61.37,61.37 0 0 0 135.71,1327.79" fill="none" stroke="#500000" stroke-width="2.74"/>
<path d="M135.78,1327.11 A61.16,61.16 0 0 0 136.42,1329.82" fill="none" stroke="#500000" stroke-width="3.82"/>
<path d="M136.44,1329.15 A60.98,60.98 0 0 0 137.17,1331.82" fill="none" stroke="#500000" stroke-width="4.72"/>
<path d="M137.11,1331.17 A60.85,60.85 0 0 0 137.93,1333.81" fill="none" stroke="#500000" stroke-width="5.34"/>
<path d="M137.77,1333.19 A60.8,60.8 0 0 0 138.69,1335.79" fill="none" stroke="#500000" stroke-width="5.6"/>
<path d="M138.44,1335.2 A60.83,60.83 0 0 0 139.44,1337.78" fill="none" stroke="#500000" stroke-width="5.46"/>
<path d="M139.11,1337.23 A60.93,60.93 0 0 0 140.2,1339.76" fill="none" stroke="#500000" stroke-width="4.94"/>
<path d="M139.79,1339.25 A61.1,61.1 0 0 0 140.97,1341.76" fill="none" stroke="#500000" stroke-width="4.12"/>
<path d="M140.5,1341.27 A61.3,61.3 0 0 0 141.78,1343.75" fill="none" stroke="#500000" stroke-width="3.08"/>
<path d="M141.27,1343.29 A61.53,61.53 0 0 0 142.64,1345.72" fill="none" stroke="#500000" stroke-width="1.94"/>
<path d="M142.12,1345.28 A61.76,61.76 0 0 0 143.57,1347.67" fill="none" stroke="#500000" stroke-width="0.82"/>
<path d="M176.53,1373.08 A61.7,61.7 0 0 0 179.21,1373.89" fill="none" stroke="#500000" stroke-width="1.09"/>
<path d="M178.66,1373.49 A61.47,61.47 0 0 0 181.35,1374.2" fill="none" stroke="#500000" stroke-width="2.23"/>
<path d="M180.78,1373.83 A61.25,61.25 0 0 0 183.49,1374.44" fill="none" stroke="#500000" stroke-width="3.35"/>
<path d="M182.91,1374.12 A61.05,61.05 0 0 0 185.63,1374.63" fill="none" stroke="#500000" stroke-width="4.35"/>
<path d="M185.02,1374.37 A60.9,60.9 0 0 0 187.76,1374.79" fill="none" stroke="#500000" stroke-width="5.1"/>
<path d="M187.14,1374.62 A60.81,60.81 0 0 0 189.88,1374.94" fill="none" stroke="#500000" stroke-width="5.53"/>
<path d="M189.24,1374.87 A60.81,60.81 0 0 0 191.99,1375.1" fill="none" stroke="#500000" stroke-width="5.57"/>
<path d="M191.35,1375.13 A60.88,60.88 0 0 0 194.11,1375.26" fill="none" stroke="#500000" stroke-width="5.22"/>
<path d="M193.47,1375.38 A61.02,61.02 0 0 0 196.24,1375.41" fill="none" stroke="#500000" stroke-width="4.52"/>
<path d="M195.6,1375.61 A61.21,61.21 0 0 0 198.38,1375.54" fill="none" stroke="#500000" stroke-width="3.57"/>
<path d="M197.74,1375.79 A61.43,61.43 0 0 0 200.53,1375.63" fill="none" stroke="#500000" stroke-width="2.46"/>
<path d="M199.9,1375.91 A61.66,61.66 0 0 0 202.69,1375.65" fill="none" stroke="#500000" stroke-width="1.32"/>
<path d="M202.07,1375.93 A61.87,61.87 0 0 0 204.85,1375.58" fill="none" stroke="#500000" stroke-width="0.23"/>
<path d="M235.38,1361.81 A61.89,61.89 0 0 0 237.49,1359.96" fill="none" stroke="#500000" stroke-width="0.13"/>
<path d="M236.87,1360.24 A61.68,61.68 0 0 0 238.91,1358.32" fill="none" stroke="#500000" stroke-width="1.2"/>
<path d="M238.29,1358.6 A61.45,61.45 0 0 0 240.25,1356.62" fill="none" stroke="#500000" stroke-width="2.35"/>
<path d="M239.64,1356.93 A61.23,61.23 0 0 0 241.53,1354.89" fill="none" stroke="#500000" stroke-width="3.46"/>
<path d="M240.96,1355.24 A61.03,61.03 0 0 0 242.76,1353.14" fill="none" stroke="#500000" stroke-width="4.44"/>
<path d="M242.24,1353.54 A60.89,60.89 0 0 0 243.97,1351.38" fill="none" stroke="#500000" stroke-width="5.16"/>
<path d="M243.52,1351.84 A60.81,60.81 0 0 0 245.17,1349.63" fill="none" stroke="#500000" stroke-width="5.55"/>
<path d="M244.8,1350.14 A60.81,60.81 0 0 0 246.37,1347.87" fill="none" stroke="#500000" stroke-width="5.55"/>
<path d="M246.08,1348.45 A60.89,60.89 0 0 0 247.57,1346.12" fill="none" stroke="#500000" stroke-width="5.16"/>
<path d="M247.36,1346.74 A61.03,61.03 0 0 0 248.77,1344.36" fill="none" stroke="#500000" stroke-width="4.44"/>
<path d="M248.62,1345.01 A61.23,61.23 0 0 0 249.96,1342.58" fill="none" stroke="#500000" stroke-width="3.46"/>
<path d="M249.86,1343.25 A61.45,61.45 0 0 0 251.11,1340.76" fill="none" stroke="#500000" stroke-width="2.35"/>
<path d="M251.04,1341.44 A61.68,61.68 0 0 0 252.21,1338.9" fill="none" stroke="#500000" stroke-width="1.2"/>
<path d="M252.14,1339.57 A61.89,61.89 0 0 0 253.23,1336.98" fill="none" stroke="#500000" stroke-width="0.13"/>
<path d="M256.61,1305.83 A61.61,61.61 0 0 0 256.16,1303.07" fill="none" stroke="#1a0000" stroke-width="0.19"/>
<path d="M256.05,1303.74 A61.38,61.38 0 0 0 255.5,1301.01" fill="none" stroke="#1a0000" stroke-width="1.21"/>
<path d="M255.43,1301.68 A61.17,61.17 0 0 0 254.79,1298.98" fill="none" stroke="#1a0000" stroke-width="2.18"/>
<path d="M254.77,1299.65 A60.98,60.98 0 0 0 254.04,1296.98" fill="none" stroke="#1a0000" stroke-width="2.99"/>
<path d="M254.1,1297.63 A60.86,60.86 0 0 0 253.28,1294.99" fill="none" stroke="#1a0000" stroke-width="3.55"/>
<path d="M253.43,1295.61 A60.8,60.8 0 0 0 252.51,1293.01" fill="none" stroke="#1a0000" stroke-width="3.79"/>
<path d="M252.76,1293.6 A60.83,60.83 0 0 0 251.75,1291.03" fill="none" stroke="#1a0000" stroke-width="3.69"/>
<path d="M252.09,1291.58 A60.92,60.92 0 0 0 250.99,1289.04" fill="none" stroke="#1a0000" stroke-width="3.25"/>
<path d="M251.41,1289.55 A61.09,61.09 0 0 0 250.22,1287.05" fill="none" stroke="#1a0000" stroke-width="2.52"/>
<path d="M250.69,1287.53 A61.29,61.29 0 0 0 249.41,1285.06" fill="none" stroke="#1a0000" stroke-width="1.61"/>
<path d="M249.92,1285.52 A61.52,61.52 0 0 0 248.55,1283.08" fill="none" stroke="#1a0000" stroke-width="0.6"/>
<path d="M214.62,1255.85 A61.57,61.57 0 0 0 211.95,1255.04" fill="none" stroke="#1a0000" stroke-width="0.4"/>
<path d="M212.51,1255.44 A61.34,61.34 0 0 0 209.81,1254.73" fill="none" stroke="#1a0000" stroke-width="1.41"/>
<path d="M210.39,1255.09 A61.13,61.13 0 0 0 207.68,1254.48" fill="none" stroke="#1a0000" stroke-width="2.35"/>
<path d="M208.27,1254.78 A60.95,60.95 0 0 0 205.56,1254.27" fill="none" stroke="#1a0000" stroke-width="3.12"/>
<path d="M206.16,1254.48 A60.84,60.84 0 0 0 203.44,1254.07" fill="none" stroke="#1a0000" stroke-width="3.62"/>
<path d="M204.06,1254.19 A60.8,60.8 0 0 0 201.32,1253.87" fill="none" stroke="#1a0000" stroke-width="3.8"/>
<path d="M201.96,1253.89 A60.84,60.84 0 0 0 199.21,1253.67" fill="none" stroke="#1a0000" stroke-width="3.62"/>
<path d="M199.85,1253.6 A60.95,60.95 0 0 0 197.09,1253.47" fill="none" stroke="#1a0000" stroke-width="3.12"/>
<path d="M197.73,1253.31 A61.13,61.13 0 0 0 194.96,1253.28" fill="none" stroke="#1a0000" stroke-width="2.35"/>
<path d="M195.6,1253.06 A61.34,61.34 0 0 0 192.82,1253.13" fill="none" stroke="#1a0000" stroke-width="1.41"/>
<path d="M193.45,1252.87 A61.57,61.57 0 0 0 190.66,1253.03" fill="none" stroke="#1a0000" stroke-width="0.4"/>
<path d="M152.88,1270.16 A61.5,61.5 0 0 0 150.92,1272.15" fill="none" stroke="#1a0000" stroke-width="0.7"/>
<path d="M151.53,1271.84 A61.27,61.27 0 0 0 149.64,1273.88" fill="none" stroke="#1a0000" stroke-width="1.71"/>
<path d="M150.22,1273.54 A61.07,61.07 0 0 0 148.41,1275.64" fill="none" stroke="#1a0000" stroke-width="2.61"/>
<path d="M148.94,1275.25 A60.91,60.91 0 0 0 147.21,1277.4" fill="none" stroke="#1a0000" stroke-width="3.3"/>
<path d="M147.67,1276.96 A60.82,60.82 0 0 0 146.02,1279.17" fill="none" stroke="#1a0000" stroke-width="3.71"/>
<path d="M146.41,1278.66 A60.8,60.8 0 0 0 144.84,1280.93" fill="none" stroke="#1a0000" stroke-width="3.78"/>
<path d="M145.14,1280.36 A60.87,60.87 0 0 0 143.65,1282.69" fill="none" stroke="#1a0000" stroke-width="3.51"/>
<path d="M143.87,1282.08 A61,61 0 0 0 142.46,1284.46" fill="none" stroke="#1a0000" stroke-width="2.92"/>
<path d="M142.61,1283.81 A61.19,61.19 0 0 0 141.28,1286.24" fill="none" stroke="#1a0000" stroke-width="2.08"/>
<path d="M141.38,1285.57 A61.41,61.41 0 0 0 140.13,1288.06" fill="none" stroke="#1a0000" stroke-width="1.11"/>
<path d="M140.2,1287.38 A61.63,61.63 0 0 0 139.04,1289.92" fill="none" stroke="#1a0000" stroke-width="0.09"/>
<path d="M134.6,1322.97 A61.6,61.6 0 0 0 135.05,1325.73" fill="none" stroke="#1a0000" stroke-width="0.24"/>
<path d="M135.16,1325.06 A61.37,61.37 0 0 0 135.71,1327.79" fill="none" stroke="#1a0000" stroke-width="1.26"/>
<path d="M135.78,1327.11 A61.16,61.16 0 0 0 136.42,1329.82" fill="none" stroke="#1a0000" stroke-width="2.22"/>
<path d="M136.44,1329.15 A60.98,60.98 0 0 0 137.17,1331.82" fill="none" stroke="#1a0000" stroke-width="3.02"/>
<path d="M137.11,1331.17 A60.85,60.85 0 0 0 137.93,1333.81" fill="none" stroke="#1a0000" stroke-width="3.57"/>
<path d="M137.77,1333.19 A60.8,60.8 0 0 0 138.69,1335.79" fill="none" stroke="#1a0000" stroke-width="3.8"/>
<path d="M138.44,1335.2 A60.83,60.83 0 0 0 139.44,1337.78" fill="none" stroke="#1a0000" stroke-width="3.67"/>
<path d="M139.11,1337.23 A60.93,60.93 0 0 0 140.2,1339.76" fill="none" stroke="#1a0000" stroke-width="3.22"/>
<path d="M139.79,1339.25 A61.1,61.1 0 0 0 140.97,1341.76" fill="none" stroke="#1a0000" stroke-width="2.48"/>
<path d="M140.5,1341.27 A61.3,61.3 0 0 0 141.78,1343.75" fill="none" stroke="#1a0000" stroke-width="1.56"/>
<path d="M141.27,1343.29 A61.53,61.53 0 0 0 142.64,1345.72" fill="none" stroke="#1a0000" stroke-width="0.55"/>
<path d="M178.66,1373.49 A61.47,61.47 0 0 0 181.35,1374.2" fill="none" stroke="#1a0000" stroke-width="0.81"/>
<path d="M180.78,1373.83 A61.25,61.25 0 0 0 183.49,1374.44" fill="none" stroke="#1a0000" stroke-width="1.8"/>
<path d="M182.91,1374.12 A61.05,61.05 0 0 0 185.63,1374.63" fill="none" stroke="#1a0000" stroke-width="2.69"/>
<path d="M185.02,1374.37 A60.9,60.9 0 0 0 187.76,1374.79" fill="none" stroke="#1a0000" stroke-width="3.36"/>
<path d="M187.14,1374.62 A60.81,60.81 0 0 0 189.88,1374.94" fill="none" stroke="#1a0000" stroke-width="3.74"/>
<path d="M189.24,1374.87 A60.81,60.81 0 0 0 191.99,1375.1" fill="none" stroke="#1a0000" stroke-width="3.77"/>
<path d="M191.35,1375.13 A60.88,60.88 0 0 0 194.11,1375.26" fill="none" stroke="#1a0000" stroke-width="3.46"/>
<path d="M193.47,1375.38 A61.02,61.02 0 0 0 196.24,1375.41" fill="none" stroke="#1a0000" stroke-width="2.84"/>
<path d="M195.6,1375.61 A61.21,61.21 0 0 0 198.38,1375.54" fill="none" stroke="#1a0000" stroke-width="1.99"/>
<path d="M197.74,1375.79 A61.43,61.43 0 0 0 200.53,1375.63" fill="none" stroke="#1a0000" stroke-width="1.01"/>
<path d="M238.29,1358.6 A61.45,61.45 0 0 0 240.25,1356.62" fill="none" stroke="#1a0000" stroke-width="0.91"/>
<path d="M239.64,1356.93 A61.23,61.23 0 0 0 241.53,1354.89" fill="none" stroke="#1a0000" stroke-width="1.9"/>
<path d="M240.96,1355.24 A61.03,61.03 0 0 0 242.76,1353.14" fill="none" stroke="#1a0000" stroke-width="2.77"/>
<path d="M242.24,1353.54 A60.89,60.89 0 0 0 243.97,1351.38" fill="none" stroke="#1a0000" stroke-width="3.41"/>
<path d="M243.52,1351.84 A60.81,60.81 0 0 0 245.17,1349.63" fill="none" stroke="#1a0000" stroke-width="3.76"/>
<path d="M244.8,1350.14 A60.81,60.81 0 0 0 246.37,1347.87" fill="none" stroke="#1a0000" stroke-width="3.76"/>
<path d="M246.08,1348.45 A60.89,60.89 0 0 0 247.57,1346.12" fill="none" stroke="#1a0000" stroke-width="3.41"/>
<path d="M247.36,1346.74 A61.03,61.03 0 0 0 248.77,1344.36" fill="none" stroke="#1a0000" stroke-width="2.77"/>
<path d="M248.62,1345.01 A61.23,61.23 0 0 0 249.96,1342.58" fill="none" stroke="#1a0000" stroke-width="1.9"/>
<path d="M249.86,1343.25 A61.45,61.45 0 0 0 251.11,1340.76" fill="none" stroke="#1a0000" stroke-width="0.91"/>
</g>
<rect x="83.7" y="1203.4" width="222" height="222" fill="none" stroke="#000" stroke-width="1.6"/>
<line x1="120.3" y1="1203.4" x2="120.3" y2="1211.7" stroke="#000" stroke-width="1.6"/>
<line x1="120.3" y1="1425.4" x2="120.3" y2="1417.1" stroke="#000" stroke-width="1.6"/>
<line x1="83.7" y1="1239.1" x2="92" y2="1239.1" stroke="#000" stroke-width="1.6"/>
<line x1="305.7" y1="1239.1" x2="297.4" y2="1239.1" stroke="#000" stroke-width="1.6"/>
<line x1="195.3" y1="1203.4" x2="195.3" y2="1211.7" stroke="#000" stroke-width="1.6"/>
<line x1="195.3" y1="1425.4" x2="195.3" y2="1417.1" stroke="#000" stroke-width="1.6"/>
<line x1="83.7" y1="1314.1" x2="92" y2="1314.1" stroke="#000" stroke-width="1.6"/>
<line x1="305.7" y1="1314.1" x2="297.4" y2="1314.1" stroke="#000" stroke-width="1.6"/>
<line x1="270.3" y1="1203.4" x2="270.3" y2="1211.7" stroke="#000" stroke-width="1.6"/>
<line x1="270.3" y1="1425.4" x2="270.3" y2="1417.1" stroke="#000" stroke-width="1.6"/>
<line x1="83.7" y1="1389.1" x2="92" y2="1389.1" stroke="#000" stroke-width="1.6"/>
<line x1="305.7" y1="1389.1" x2="297.4" y2="1389.1" stroke="#000" stroke-width="1.6"/>
<text x="72.6" y="1245.4" font-family="Liberation Sans" font-size="17.5" text-anchor="end" font-weight="normal" font-style="normal">0.01</text>
<text x="72.6" y="1320.4" font-family="Liberation Sans" font-size="17.5" text-anchor="end" font-weight="normal" font-style="normal">0</text>
<text x="72.6" y="1395.4" font-family="Liberation Sans" font-size="17.5" text-anchor="end" font-weight="normal" font-style="normal">−0.01</text>
<text transform="translate(19,1314.1) rotate(-90)" font-family="Liberation Sans" font-size="17.5" text-anchor="middle"><tspan font-style="italic">Q</tspan><tspan font-style="italic" font-size="13" dy="4">y</tspan><tspan dy="-4"> (Å</tspan><tspan dy="-7" font-size="12">−1</tspan><tspan dy="7">)</tspan></text>
<line x1="195.3" y1="1314.1" x2="127.99" y2="1262.44" stroke="#000" stroke-width="2.1"/>
<polygon points="115.3,1252.7 134.76,1258.56 128.79,1263.05 125.99,1269.98" fill="#000" stroke="none" stroke-width="1"/>
<line x1="195.3" y1="1314.1" x2="246.64" y2="1246.26" stroke="#000" stroke-width="2.1"/>
<polygon points="256.3,1233.5 250.58,1253 246.04,1247.06 239.09,1244.31" fill="#000" stroke="none" stroke-width="1"/>
<polyline points="194.8,1314.6 195.3,1314.1 195.8,1314.6" fill="none" stroke="#000" stroke-width="1.9" stroke-linejoin="round" stroke-linecap="round"/>
<text x="90" y="1287.2" font-family="Liberation Sans" font-size="17.5" text-anchor="start" font-weight="normal" font-style="normal">[100]</text>
<text x="206.9" y="1231.9" font-family="Liberation Sans" font-size="17.5" text-anchor="start" font-weight="normal" font-style="normal">[010]</text>
<circle cx="113.8" cy="1228.6" r="9.2" fill="none" stroke="#000" stroke-width="1.4"/>
<line x1="107.29" y1="1222.09" x2="120.31" y2="1235.11" stroke="#000" stroke-width="1.3"/>
<line x1="107.29" y1="1235.11" x2="120.31" y2="1222.09" stroke="#000" stroke-width="1.3"/>
<text x="130.2" y="1233.5" font-family="Liberation Sans" font-size="17.5" text-anchor="start" font-weight="bold" font-style="normal">B</text>
<text x="289.9" y="1389.7" font-family="Liberation Sans" font-size="17.5" text-anchor="end" font-weight="normal" font-style="normal">3.6 K</text>
<text x="289.9" y="1409.8" font-family="Liberation Sans" font-size="17.5" text-anchor="end" font-weight="normal" font-style="normal">60 mT</text>
<text x="96.8" y="1409.8" font-family="Liberation Serif" font-size="19" font-style="italic">ϕ<tspan font-style="normal" font-family="Liberation Sans" font-size="17.5" dx="3">=</tspan><tspan dx="3">ω</tspan><tspan font-style="normal" font-family="Liberation Sans" font-size="17.5" dx="3">=</tspan><tspan font-style="normal" font-family="Liberation Sans" font-size="17.5" dx="3">0</tspan></text>
<text x="120.3" y="1447.7" font-family="Liberation Sans" font-size="17.5" text-anchor="middle" font-weight="normal" font-style="normal">−0.01</text>
<text x="195.3" y="1447.7" font-family="Liberation Sans" font-size="17.5" text-anchor="middle" font-weight="normal" font-style="normal">0</text>
<text x="270.3" y="1447.7" font-family="Liberation Sans" font-size="17.5" text-anchor="middle" font-weight="normal" font-style="normal">0.01</text>
<text x="195.7" y="1478.1" font-family="Liberation Sans" font-size="17.5" text-anchor="middle"><tspan font-style="italic">Q</tspan><tspan font-style="italic" font-size="13" dy="4">x</tspan><tspan dy="-4"> (Å</tspan><tspan dy="-7" font-size="12">−1</tspan><tspan dy="7">)</tspan></text>
<rect x="396.3" y="750.6" width="286.3" height="297.2" fill="none" stroke="#000" stroke-width="1.6"/>
<line x1="396.3" y1="936.59" x2="404.6" y2="936.59" stroke="#000" stroke-width="1.6"/>
<line x1="682.6" y1="936.59" x2="674.3" y2="936.59" stroke="#000" stroke-width="1.6"/>
<line x1="396.3" y1="825.38" x2="404.6" y2="825.38" stroke="#000" stroke-width="1.6"/>
<line x1="682.6" y1="825.38" x2="674.3" y2="825.38" stroke="#000" stroke-width="1.6"/>
<line x1="396.3" y1="992.19" x2="401" y2="992.19" stroke="#000" stroke-width="1.6"/>
<line x1="682.6" y1="992.19" x2="677.9" y2="992.19" stroke="#000" stroke-width="1.6"/>
<line x1="396.3" y1="880.98" x2="401" y2="880.98" stroke="#000" stroke-width="1.6"/>
<line x1="682.6" y1="880.98" x2="677.9" y2="880.98" stroke="#000" stroke-width="1.6"/>
<line x1="396.3" y1="769.77" x2="401" y2="769.77" stroke="#000" stroke-width="1.6"/>
<line x1="682.6" y1="769.77" x2="677.9" y2="769.77" stroke="#000" stroke-width="1.6"/>
<line x1="450.4" y1="1047.8" x2="450.4" y2="1039.5" stroke="#000" stroke-width="1.6"/>
<line x1="450.4" y1="750.6" x2="450.4" y2="758.9" stroke="#000" stroke-width="1.6"/>
<line x1="540.1" y1="1047.8" x2="540.1" y2="1039.5" stroke="#000" stroke-width="1.6"/>
<line x1="540.1" y1="750.6" x2="540.1" y2="758.9" stroke="#000" stroke-width="1.6"/>
<line x1="629.8" y1="1047.8" x2="629.8" y2="1039.5" stroke="#000" stroke-width="1.6"/>
<line x1="629.8" y1="750.6" x2="629.8" y2="758.9" stroke="#000" stroke-width="1.6"/>
<line x1="405.55" y1="1047.8" x2="405.55" y2="1043.1" stroke="#000" stroke-width="1.6"/>
<line x1="405.55" y1="750.6" x2="405.55" y2="755.3" stroke="#000" stroke-width="1.6"/>
<line x1="495.25" y1="1047.8" x2="495.25" y2="1043.1" stroke="#000" stroke-width="1.6"/>
<line x1="495.25" y1="750.6" x2="495.25" y2="755.3" stroke="#000" stroke-width="1.6"/>
<line x1="584.95" y1="1047.8" x2="584.95" y2="1043.1" stroke="#000" stroke-width="1.6"/>
<line x1="584.95" y1="750.6" x2="584.95" y2="755.3" stroke="#000" stroke-width="1.6"/>
<line x1="674.65" y1="1047.8" x2="674.65" y2="1043.1" stroke="#000" stroke-width="1.6"/>
<line x1="674.65" y1="750.6" x2="674.65" y2="755.3" stroke="#000" stroke-width="1.6"/>
<text x="385.2" y="1054.1" font-family="Liberation Sans" font-size="17.5" text-anchor="end" font-weight="normal" font-style="normal">0</text>
<text x="385.2" y="942.89" font-family="Liberation Sans" font-size="17.5" text-anchor="end" font-weight="normal" font-style="normal">3</text>
<text x="385.2" y="831.68" font-family="Liberation Sans" font-size="17.5" text-anchor="end" font-weight="normal" font-style="normal">6</text>
<text x="450.4" y="1070.2" font-family="Liberation Sans" font-size="17.5" text-anchor="middle" font-weight="normal" font-style="normal">−10</text>
<text x="540.1" y="1070.2" font-family="Liberation Sans" font-size="17.5" text-anchor="middle" font-weight="normal" font-style="normal">0</text>
<text x="629.8" y="1070.2" font-family="Liberation Sans" font-size="17.5" text-anchor="middle" font-weight="normal" font-style="normal">10</text>
<text x="511" y="1097.8" font-family="Liberation Serif" font-size="19" font-style="italic">ϕ<tspan font-family="Liberation Sans" font-style="normal" font-size="17.5">, </tspan><tspan dx="1.5">ω</tspan><tspan font-family="Liberation Sans" font-style="normal" font-size="17.5"> (°)</tspan></text>
<text transform="translate(355,899.3) rotate(-90)" font-family="Liberation Sans" font-size="17.5" text-anchor="middle">Int (a.u.)</text>
<line x1="540.1" y1="750.6" x2="540.1" y2="955.9" stroke="#000" stroke-width="2.0"/>
<line x1="540.1" y1="985.1" x2="540.1" y2="1047.8" stroke="#000" stroke-width="2.0"/>
<text x="539.8" y="976.9" font-family="Liberation Sans" font-size="17.5" text-anchor="middle" font-weight="normal" font-style="normal">[001]</text>
<text x="668.4" y="783.5" font-family="Liberation Sans" font-size="17.5" text-anchor="end" font-weight="normal" font-style="normal">3.6 K</text>
<text x="668.6" y="805" font-family="Liberation Sans" font-size="17.5" text-anchor="end" font-weight="normal" font-style="normal">60 mT</text>
<text x="423.4" y="783.7" font-family="Liberation Sans" font-size="17.5" text-anchor="start" font-weight="normal" font-style="normal">Ring</text>
<rect x="411.7" y="795.4" width="9.4" height="9.4" fill="#4f4f4f" stroke="#222" stroke-width="1.0"/>
<text x="430.4" y="804.3" font-family="Liberation Serif" font-size="19" font-style="italic">ω<tspan font-family="Liberation Sans" font-style="normal" font-size="17.5">-scan</tspan></text>
<polygon points="409.9,826.15 422.9,826.15 416.4,814.89" fill="#2a74da" stroke="#0a1a40" stroke-width="1.0" stroke-linejoin="miter"/>
<text x="430.4" y="824.6" font-family="Liberation Serif" font-size="19" font-style="italic">ϕ<tspan font-family="Liberation Sans" font-style="normal" font-size="17.5">-scan</tspan></text>
<text x="423.4" y="850.3" font-family="Liberation Sans" font-size="17.5" text-anchor="start" font-weight="normal" font-style="normal">Six-fold</text>
<circle cx="416.4" cy="865.5" r="5.6" fill="#ea3f3c" stroke="#400" stroke-width="1.0"/>
<text x="430.4" y="869" font-family="Liberation Serif" font-size="19" font-style="italic">ω<tspan font-family="Liberation Sans" font-style="normal" font-size="17.5">-scan</tspan></text>
<line x1="405.55" y1="1027.24" x2="405.55" y2="1037.36" stroke="#444" stroke-width="0.9"/>
<line x1="403.45" y1="1027.24" x2="407.65" y2="1027.24" stroke="#444" stroke-width="0.9"/>
<line x1="403.45" y1="1037.36" x2="407.65" y2="1037.36" stroke="#444" stroke-width="0.9"/>
<line x1="414.52" y1="1022.82" x2="414.52" y2="1032.98" stroke="#444" stroke-width="0.9"/>
<line x1="412.42" y1="1022.82" x2="416.62" y2="1022.82" stroke="#444" stroke-width="0.9"/>
<line x1="412.42" y1="1032.98" x2="416.62" y2="1032.98" stroke="#444" stroke-width="0.9"/>
<line x1="423.49" y1="1015.49" x2="423.49" y2="1025.71" stroke="#444" stroke-width="0.9"/>
<line x1="421.39" y1="1015.49" x2="425.59" y2="1015.49" stroke="#444" stroke-width="0.9"/>
<line x1="421.39" y1="1025.71" x2="425.59" y2="1025.71" stroke="#444" stroke-width="0.9"/>
<line x1="432.46" y1="1007.26" x2="432.46" y2="1017.54" stroke="#444" stroke-width="0.9"/>
<line x1="430.36" y1="1007.26" x2="434.56" y2="1007.26" stroke="#444" stroke-width="0.9"/>
<line x1="430.36" y1="1017.54" x2="434.56" y2="1017.54" stroke="#444" stroke-width="0.9"/>
<line x1="441.43" y1="1002.14" x2="441.43" y2="1012.46" stroke="#444" stroke-width="0.9"/>
<line x1="439.33" y1="1002.14" x2="443.53" y2="1002.14" stroke="#444" stroke-width="0.9"/>
<line x1="439.33" y1="1012.46" x2="443.53" y2="1012.46" stroke="#444" stroke-width="0.9"/>
<line x1="450.4" y1="989.29" x2="450.4" y2="999.71" stroke="#444" stroke-width="0.9"/>
<line x1="448.3" y1="989.29" x2="452.5" y2="989.29" stroke="#444" stroke-width="0.9"/>
<line x1="448.3" y1="999.71" x2="452.5" y2="999.71" stroke="#444" stroke-width="0.9"/>
<line x1="459.37" y1="976.34" x2="459.37" y2="986.86" stroke="#444" stroke-width="0.9"/>
<line x1="457.27" y1="976.34" x2="461.47" y2="976.34" stroke="#444" stroke-width="0.9"/>
<line x1="457.27" y1="986.86" x2="461.47" y2="986.86" stroke="#444" stroke-width="0.9"/>
<line x1="468.34" y1="957.16" x2="468.34" y2="967.84" stroke="#444" stroke-width="0.9"/>
<line x1="466.24" y1="957.16" x2="470.44" y2="957.16" stroke="#444" stroke-width="0.9"/>
<line x1="466.24" y1="967.84" x2="470.44" y2="967.84" stroke="#444" stroke-width="0.9"/>
<line x1="477.31" y1="945.21" x2="477.31" y2="955.99" stroke="#444" stroke-width="0.9"/>
<line x1="475.21" y1="945.21" x2="479.41" y2="945.21" stroke="#444" stroke-width="0.9"/>
<line x1="475.21" y1="955.99" x2="479.41" y2="955.99" stroke="#444" stroke-width="0.9"/>
<line x1="486.28" y1="916.8" x2="486.28" y2="927.8" stroke="#444" stroke-width="0.9"/>
<line x1="484.18" y1="916.8" x2="488.38" y2="916.8" stroke="#444" stroke-width="0.9"/>
<line x1="484.18" y1="927.8" x2="488.38" y2="927.8" stroke="#444" stroke-width="0.9"/>
<line x1="495.25" y1="903.65" x2="495.25" y2="914.75" stroke="#444" stroke-width="0.9"/>
<line x1="493.15" y1="903.65" x2="497.35" y2="903.65" stroke="#444" stroke-width="0.9"/>
<line x1="493.15" y1="914.75" x2="497.35" y2="914.75" stroke="#444" stroke-width="0.9"/>
<line x1="504.22" y1="871.82" x2="504.22" y2="883.18" stroke="#444" stroke-width="0.9"/>
<line x1="502.12" y1="871.82" x2="506.32" y2="871.82" stroke="#444" stroke-width="0.9"/>
<line x1="502.12" y1="883.18" x2="506.32" y2="883.18" stroke="#444" stroke-width="0.9"/>
<line x1="513.19" y1="862.58" x2="513.19" y2="874.02" stroke="#444" stroke-width="0.9"/>
<line x1="511.09" y1="862.58" x2="515.29" y2="862.58" stroke="#444" stroke-width="0.9"/>
<line x1="511.09" y1="874.02" x2="515.29" y2="874.02" stroke="#444" stroke-width="0.9"/>
<line x1="522.16" y1="826.74" x2="522.16" y2="838.46" stroke="#444" stroke-width="0.9"/>
<line x1="520.06" y1="826.74" x2="524.26" y2="826.74" stroke="#444" stroke-width="0.9"/>
<line x1="520.06" y1="838.46" x2="524.26" y2="838.46" stroke="#444" stroke-width="0.9"/>
<line x1="531.13" y1="790.8" x2="531.13" y2="802.8" stroke="#444" stroke-width="0.9"/>
<line x1="529.03" y1="790.8" x2="533.23" y2="790.8" stroke="#444" stroke-width="0.9"/>
<line x1="529.03" y1="802.8" x2="533.23" y2="802.8" stroke="#444" stroke-width="0.9"/>
<line x1="540.1" y1="797.92" x2="540.1" y2="809.88" stroke="#444" stroke-width="0.9"/>
<line x1="538" y1="797.92" x2="542.2" y2="797.92" stroke="#444" stroke-width="0.9"/>
<line x1="538" y1="809.88" x2="542.2" y2="809.88" stroke="#444" stroke-width="0.9"/>
<line x1="549.07" y1="812.28" x2="549.07" y2="824.12" stroke="#444" stroke-width="0.9"/>
<line x1="546.97" y1="812.28" x2="551.17" y2="812.28" stroke="#444" stroke-width="0.9"/>
<line x1="546.97" y1="824.12" x2="551.17" y2="824.12" stroke="#444" stroke-width="0.9"/>
<line x1="558.04" y1="824.63" x2="558.04" y2="836.37" stroke="#444" stroke-width="0.9"/>
<line x1="555.94" y1="824.63" x2="560.14" y2="824.63" stroke="#444" stroke-width="0.9"/>
<line x1="555.94" y1="836.37" x2="560.14" y2="836.37" stroke="#444" stroke-width="0.9"/>
<line x1="567.01" y1="868.71" x2="567.01" y2="880.09" stroke="#444" stroke-width="0.9"/>
<line x1="564.91" y1="868.71" x2="569.11" y2="868.71" stroke="#444" stroke-width="0.9"/>
<line x1="564.91" y1="880.09" x2="569.11" y2="880.09" stroke="#444" stroke-width="0.9"/>
<line x1="575.98" y1="890.29" x2="575.98" y2="901.51" stroke="#444" stroke-width="0.9"/>
<line x1="573.88" y1="890.29" x2="578.08" y2="890.29" stroke="#444" stroke-width="0.9"/>
<line x1="573.88" y1="901.51" x2="578.08" y2="901.51" stroke="#444" stroke-width="0.9"/>
<line x1="584.95" y1="904.45" x2="584.95" y2="915.55" stroke="#444" stroke-width="0.9"/>
<line x1="582.85" y1="904.45" x2="587.05" y2="904.45" stroke="#444" stroke-width="0.9"/>
<line x1="582.85" y1="915.55" x2="587.05" y2="915.55" stroke="#444" stroke-width="0.9"/>
<line x1="593.92" y1="938.89" x2="593.92" y2="949.71" stroke="#444" stroke-width="0.9"/>
<line x1="591.82" y1="938.89" x2="596.02" y2="938.89" stroke="#444" stroke-width="0.9"/>
<line x1="591.82" y1="949.71" x2="596.02" y2="949.71" stroke="#444" stroke-width="0.9"/>
<line x1="602.89" y1="942.4" x2="602.89" y2="953.2" stroke="#444" stroke-width="0.9"/>
<line x1="600.79" y1="942.4" x2="604.99" y2="942.4" stroke="#444" stroke-width="0.9"/>
<line x1="600.79" y1="953.2" x2="604.99" y2="953.2" stroke="#444" stroke-width="0.9"/>
<line x1="611.86" y1="959.37" x2="611.86" y2="970.03" stroke="#444" stroke-width="0.9"/>
<line x1="609.76" y1="959.37" x2="613.96" y2="959.37" stroke="#444" stroke-width="0.9"/>
<line x1="609.76" y1="970.03" x2="613.96" y2="970.03" stroke="#444" stroke-width="0.9"/>
<line x1="620.83" y1="978.54" x2="620.83" y2="989.06" stroke="#444" stroke-width="0.9"/>
<line x1="618.73" y1="978.54" x2="622.93" y2="978.54" stroke="#444" stroke-width="0.9"/>
<line x1="618.73" y1="989.06" x2="622.93" y2="989.06" stroke="#444" stroke-width="0.9"/>
<line x1="629.8" y1="975.93" x2="629.8" y2="986.47" stroke="#444" stroke-width="0.9"/>
<line x1="627.7" y1="975.93" x2="631.9" y2="975.93" stroke="#444" stroke-width="0.9"/>
<line x1="627.7" y1="986.47" x2="631.9" y2="986.47" stroke="#444" stroke-width="0.9"/>
<line x1="638.77" y1="995.41" x2="638.77" y2="1005.79" stroke="#444" stroke-width="0.9"/>
<line x1="636.67" y1="995.41" x2="640.87" y2="995.41" stroke="#444" stroke-width="0.9"/>
<line x1="636.67" y1="1005.79" x2="640.87" y2="1005.79" stroke="#444" stroke-width="0.9"/>
<line x1="647.74" y1="1005.65" x2="647.74" y2="1015.95" stroke="#444" stroke-width="0.9"/>
<line x1="645.64" y1="1005.65" x2="649.84" y2="1005.65" stroke="#444" stroke-width="0.9"/>
<line x1="645.64" y1="1015.95" x2="649.84" y2="1015.95" stroke="#444" stroke-width="0.9"/>
<line x1="656.71" y1="1021.62" x2="656.71" y2="1031.78" stroke="#444" stroke-width="0.9"/>
<line x1="654.61" y1="1021.62" x2="658.81" y2="1021.62" stroke="#444" stroke-width="0.9"/>
<line x1="654.61" y1="1031.78" x2="658.81" y2="1031.78" stroke="#444" stroke-width="0.9"/>
<line x1="665.68" y1="1013.48" x2="665.68" y2="1023.72" stroke="#444" stroke-width="0.9"/>
<line x1="663.58" y1="1013.48" x2="667.78" y2="1013.48" stroke="#444" stroke-width="0.9"/>
<line x1="663.58" y1="1023.72" x2="667.78" y2="1023.72" stroke="#444" stroke-width="0.9"/>
<line x1="674.65" y1="1023.12" x2="674.65" y2="1033.28" stroke="#444" stroke-width="0.9"/>
<line x1="672.55" y1="1023.12" x2="676.75" y2="1023.12" stroke="#444" stroke-width="0.9"/>
<line x1="672.55" y1="1033.28" x2="676.75" y2="1033.28" stroke="#444" stroke-width="0.9"/>
<line x1="405.55" y1="1020.31" x2="405.55" y2="1030.49" stroke="#444" stroke-width="0.9"/>
<line x1="403.45" y1="1020.31" x2="407.65" y2="1020.31" stroke="#444" stroke-width="0.9"/>
<line x1="403.45" y1="1030.49" x2="407.65" y2="1030.49" stroke="#444" stroke-width="0.9"/>
<line x1="414.52" y1="1016.09" x2="414.52" y2="1026.31" stroke="#444" stroke-width="0.9"/>
<line x1="412.42" y1="1016.09" x2="416.62" y2="1016.09" stroke="#444" stroke-width="0.9"/>
<line x1="412.42" y1="1026.31" x2="416.62" y2="1026.31" stroke="#444" stroke-width="0.9"/>
<line x1="423.49" y1="1013.68" x2="423.49" y2="1023.92" stroke="#444" stroke-width="0.9"/>
<line x1="421.39" y1="1013.68" x2="425.59" y2="1013.68" stroke="#444" stroke-width="0.9"/>
<line x1="421.39" y1="1023.92" x2="425.59" y2="1023.92" stroke="#444" stroke-width="0.9"/>
<line x1="432.46" y1="1001.23" x2="432.46" y2="1011.57" stroke="#444" stroke-width="0.9"/>
<line x1="430.36" y1="1001.23" x2="434.56" y2="1001.23" stroke="#444" stroke-width="0.9"/>
<line x1="430.36" y1="1011.57" x2="434.56" y2="1011.57" stroke="#444" stroke-width="0.9"/>
<line x1="441.43" y1="999.62" x2="441.43" y2="1009.98" stroke="#444" stroke-width="0.9"/>
<line x1="439.33" y1="999.62" x2="443.53" y2="999.62" stroke="#444" stroke-width="0.9"/>
<line x1="439.33" y1="1009.98" x2="443.53" y2="1009.98" stroke="#444" stroke-width="0.9"/>
<line x1="450.4" y1="987.88" x2="450.4" y2="998.32" stroke="#444" stroke-width="0.9"/>
<line x1="448.3" y1="987.88" x2="452.5" y2="987.88" stroke="#444" stroke-width="0.9"/>
<line x1="448.3" y1="998.32" x2="452.5" y2="998.32" stroke="#444" stroke-width="0.9"/>
<line x1="459.37" y1="981.35" x2="459.37" y2="991.85" stroke="#444" stroke-width="0.9"/>
<line x1="457.27" y1="981.35" x2="461.47" y2="981.35" stroke="#444" stroke-width="0.9"/>
<line x1="457.27" y1="991.85" x2="461.47" y2="991.85" stroke="#444" stroke-width="0.9"/>
<line x1="468.34" y1="961.87" x2="468.34" y2="972.53" stroke="#444" stroke-width="0.9"/>
<line x1="466.24" y1="961.87" x2="470.44" y2="961.87" stroke="#444" stroke-width="0.9"/>
<line x1="466.24" y1="972.53" x2="470.44" y2="972.53" stroke="#444" stroke-width="0.9"/>
<line x1="477.31" y1="951.83" x2="477.31" y2="962.57" stroke="#444" stroke-width="0.9"/>
<line x1="475.21" y1="951.83" x2="479.41" y2="951.83" stroke="#444" stroke-width="0.9"/>
<line x1="475.21" y1="962.57" x2="479.41" y2="962.57" stroke="#444" stroke-width="0.9"/>
<line x1="486.28" y1="931.05" x2="486.28" y2="941.95" stroke="#444" stroke-width="0.9"/>
<line x1="484.18" y1="931.05" x2="488.38" y2="931.05" stroke="#444" stroke-width="0.9"/>
<line x1="484.18" y1="941.95" x2="488.38" y2="941.95" stroke="#444" stroke-width="0.9"/>
<line x1="495.25" y1="909.36" x2="495.25" y2="920.44" stroke="#444" stroke-width="0.9"/>
<line x1="493.15" y1="909.36" x2="497.35" y2="909.36" stroke="#444" stroke-width="0.9"/>
<line x1="493.15" y1="920.44" x2="497.35" y2="920.44" stroke="#444" stroke-width="0.9"/>
<line x1="504.22" y1="889.59" x2="504.22" y2="900.81" stroke="#444" stroke-width="0.9"/>
<line x1="502.12" y1="889.59" x2="506.32" y2="889.59" stroke="#444" stroke-width="0.9"/>
<line x1="502.12" y1="900.81" x2="506.32" y2="900.81" stroke="#444" stroke-width="0.9"/>
<line x1="513.19" y1="849.22" x2="513.19" y2="860.78" stroke="#444" stroke-width="0.9"/>
<line x1="511.09" y1="849.22" x2="515.29" y2="849.22" stroke="#444" stroke-width="0.9"/>
<line x1="511.09" y1="860.78" x2="515.29" y2="860.78" stroke="#444" stroke-width="0.9"/>
<line x1="522.16" y1="842.1" x2="522.16" y2="853.7" stroke="#444" stroke-width="0.9"/>
<line x1="520.06" y1="842.1" x2="524.26" y2="842.1" stroke="#444" stroke-width="0.9"/>
<line x1="520.06" y1="853.7" x2="524.26" y2="853.7" stroke="#444" stroke-width="0.9"/>
<line x1="531.13" y1="819.51" x2="531.13" y2="831.29" stroke="#444" stroke-width="0.9"/>
<line x1="529.03" y1="819.51" x2="533.23" y2="819.51" stroke="#444" stroke-width="0.9"/>
<line x1="529.03" y1="831.29" x2="533.23" y2="831.29" stroke="#444" stroke-width="0.9"/>
<line x1="540.1" y1="809.27" x2="540.1" y2="821.13" stroke="#444" stroke-width="0.9"/>
<line x1="538" y1="809.27" x2="542.2" y2="809.27" stroke="#444" stroke-width="0.9"/>
<line x1="538" y1="821.13" x2="542.2" y2="821.13" stroke="#444" stroke-width="0.9"/>
<line x1="549.07" y1="818.1" x2="549.07" y2="829.9" stroke="#444" stroke-width="0.9"/>
<line x1="546.97" y1="818.1" x2="551.17" y2="818.1" stroke="#444" stroke-width="0.9"/>
<line x1="546.97" y1="829.9" x2="551.17" y2="829.9" stroke="#444" stroke-width="0.9"/>
<line x1="558.04" y1="830.75" x2="558.04" y2="842.45" stroke="#444" stroke-width="0.9"/>
<line x1="555.94" y1="830.75" x2="560.14" y2="830.75" stroke="#444" stroke-width="0.9"/>
<line x1="555.94" y1="842.45" x2="560.14" y2="842.45" stroke="#444" stroke-width="0.9"/>
<line x1="567.01" y1="849.22" x2="567.01" y2="860.78" stroke="#444" stroke-width="0.9"/>
<line x1="564.91" y1="849.22" x2="569.11" y2="849.22" stroke="#444" stroke-width="0.9"/>
<line x1="564.91" y1="860.78" x2="569.11" y2="860.78" stroke="#444" stroke-width="0.9"/>
<line x1="575.98" y1="871.81" x2="575.98" y2="883.19" stroke="#444" stroke-width="0.9"/>
<line x1="573.88" y1="871.81" x2="578.08" y2="871.81" stroke="#444" stroke-width="0.9"/>
<line x1="573.88" y1="883.19" x2="578.08" y2="883.19" stroke="#444" stroke-width="0.9"/>
<line x1="584.95" y1="911.07" x2="584.95" y2="922.13" stroke="#444" stroke-width="0.9"/>
<line x1="582.85" y1="911.07" x2="587.05" y2="911.07" stroke="#444" stroke-width="0.9"/>
<line x1="582.85" y1="922.13" x2="587.05" y2="922.13" stroke="#444" stroke-width="0.9"/>
<line x1="593.92" y1="917.8" x2="593.92" y2="928.8" stroke="#444" stroke-width="0.9"/>
<line x1="591.82" y1="917.8" x2="596.02" y2="917.8" stroke="#444" stroke-width="0.9"/>
<line x1="591.82" y1="928.8" x2="596.02" y2="928.8" stroke="#444" stroke-width="0.9"/>
<line x1="602.89" y1="948.42" x2="602.89" y2="959.18" stroke="#444" stroke-width="0.9"/>
<line x1="600.79" y1="948.42" x2="604.99" y2="948.42" stroke="#444" stroke-width="0.9"/>
<line x1="600.79" y1="959.18" x2="604.99" y2="959.18" stroke="#444" stroke-width="0.9"/>
<line x1="611.86" y1="961.07" x2="611.86" y2="971.73" stroke="#444" stroke-width="0.9"/>
<line x1="609.76" y1="961.07" x2="613.96" y2="961.07" stroke="#444" stroke-width="0.9"/>
<line x1="609.76" y1="971.73" x2="613.96" y2="971.73" stroke="#444" stroke-width="0.9"/>
<line x1="620.83" y1="971.81" x2="620.83" y2="982.39" stroke="#444" stroke-width="0.9"/>
<line x1="618.73" y1="971.81" x2="622.93" y2="971.81" stroke="#444" stroke-width="0.9"/>
<line x1="618.73" y1="982.39" x2="622.93" y2="982.39" stroke="#444" stroke-width="0.9"/>
<line x1="629.8" y1="986.17" x2="629.8" y2="996.63" stroke="#444" stroke-width="0.9"/>
<line x1="627.7" y1="986.17" x2="631.9" y2="986.17" stroke="#444" stroke-width="0.9"/>
<line x1="627.7" y1="996.63" x2="631.9" y2="996.63" stroke="#444" stroke-width="0.9"/>
<line x1="638.77" y1="1002.54" x2="638.77" y2="1012.86" stroke="#444" stroke-width="0.9"/>
<line x1="636.67" y1="1002.54" x2="640.87" y2="1002.54" stroke="#444" stroke-width="0.9"/>
<line x1="636.67" y1="1012.86" x2="640.87" y2="1012.86" stroke="#444" stroke-width="0.9"/>
<line x1="647.74" y1="1008.26" x2="647.74" y2="1018.54" stroke="#444" stroke-width="0.9"/>
<line x1="645.64" y1="1008.26" x2="649.84" y2="1008.26" stroke="#444" stroke-width="0.9"/>
<line x1="645.64" y1="1018.54" x2="649.84" y2="1018.54" stroke="#444" stroke-width="0.9"/>
<line x1="656.71" y1="1013.18" x2="656.71" y2="1023.42" stroke="#444" stroke-width="0.9"/>
<line x1="654.61" y1="1013.18" x2="658.81" y2="1013.18" stroke="#444" stroke-width="0.9"/>
<line x1="654.61" y1="1023.42" x2="658.81" y2="1023.42" stroke="#444" stroke-width="0.9"/>
<line x1="665.68" y1="1015.89" x2="665.68" y2="1026.11" stroke="#444" stroke-width="0.9"/>
<line x1="663.58" y1="1015.89" x2="667.78" y2="1015.89" stroke="#444" stroke-width="0.9"/>
<line x1="663.58" y1="1026.11" x2="667.78" y2="1026.11" stroke="#444" stroke-width="0.9"/>
<line x1="674.65" y1="1026.13" x2="674.65" y2="1036.27" stroke="#444" stroke-width="0.9"/>
<line x1="672.55" y1="1026.13" x2="676.75" y2="1026.13" stroke="#444" stroke-width="0.9"/>
<line x1="672.55" y1="1036.27" x2="676.75" y2="1036.27" stroke="#444" stroke-width="0.9"/>
<rect x="401.25" y="1028" width="8.6" height="8.6" fill="#4f4f4f" stroke="#222" stroke-width="1.0"/>
<rect x="410.22" y="1023.6" width="8.6" height="8.6" fill="#4f4f4f" stroke="#222" stroke-width="1.0"/>
<rect x="419.19" y="1016.3" width="8.6" height="8.6" fill="#4f4f4f" stroke="#222" stroke-width="1.0"/>
<rect x="428.16" y="1008.1" width="8.6" height="8.6" fill="#4f4f4f" stroke="#222" stroke-width="1.0"/>
<rect x="437.13" y="1003" width="8.6" height="8.6" fill="#4f4f4f" stroke="#222" stroke-width="1.0"/>
<rect x="446.1" y="990.2" width="8.6" height="8.6" fill="#4f4f4f" stroke="#222" stroke-width="1.0"/>
<rect x="455.07" y="977.3" width="8.6" height="8.6" fill="#4f4f4f" stroke="#222" stroke-width="1.0"/>
<rect x="464.04" y="958.2" width="8.6" height="8.6" fill="#4f4f4f" stroke="#222" stroke-width="1.0"/>
<rect x="473.01" y="946.3" width="8.6" height="8.6" fill="#4f4f4f" stroke="#222" stroke-width="1.0"/>
<rect x="481.98" y="918" width="8.6" height="8.6" fill="#4f4f4f" stroke="#222" stroke-width="1.0"/>
<rect x="490.95" y="904.9" width="8.6" height="8.6" fill="#4f4f4f" stroke="#222" stroke-width="1.0"/>
<rect x="499.92" y="873.2" width="8.6" height="8.6" fill="#4f4f4f" stroke="#222" stroke-width="1.0"/>
<rect x="508.89" y="864" width="8.6" height="8.6" fill="#4f4f4f" stroke="#222" stroke-width="1.0"/>
<rect x="517.86" y="828.3" width="8.6" height="8.6" fill="#4f4f4f" stroke="#222" stroke-width="1.0"/>
<rect x="526.83" y="792.5" width="8.6" height="8.6" fill="#4f4f4f" stroke="#222" stroke-width="1.0"/>
<rect x="535.8" y="799.6" width="8.6" height="8.6" fill="#4f4f4f" stroke="#222" stroke-width="1.0"/>
<rect x="544.77" y="813.9" width="8.6" height="8.6" fill="#4f4f4f" stroke="#222" stroke-width="1.0"/>
<rect x="553.74" y="826.2" width="8.6" height="8.6" fill="#4f4f4f" stroke="#222" stroke-width="1.0"/>
<rect x="562.71" y="870.1" width="8.6" height="8.6" fill="#4f4f4f" stroke="#222" stroke-width="1.0"/>
<rect x="571.68" y="891.6" width="8.6" height="8.6" fill="#4f4f4f" stroke="#222" stroke-width="1.0"/>
<rect x="580.65" y="905.7" width="8.6" height="8.6" fill="#4f4f4f" stroke="#222" stroke-width="1.0"/>
<rect x="589.62" y="940" width="8.6" height="8.6" fill="#4f4f4f" stroke="#222" stroke-width="1.0"/>
<rect x="598.59" y="943.5" width="8.6" height="8.6" fill="#4f4f4f" stroke="#222" stroke-width="1.0"/>
<rect x="607.56" y="960.4" width="8.6" height="8.6" fill="#4f4f4f" stroke="#222" stroke-width="1.0"/>
<rect x="616.53" y="979.5" width="8.6" height="8.6" fill="#4f4f4f" stroke="#222" stroke-width="1.0"/>
<rect x="625.5" y="976.9" width="8.6" height="8.6" fill="#4f4f4f" stroke="#222" stroke-width="1.0"/>
<rect x="634.47" y="996.3" width="8.6" height="8.6" fill="#4f4f4f" stroke="#222" stroke-width="1.0"/>
<rect x="643.44" y="1006.5" width="8.6" height="8.6" fill="#4f4f4f" stroke="#222" stroke-width="1.0"/>
<rect x="652.41" y="1022.4" width="8.6" height="8.6" fill="#4f4f4f" stroke="#222" stroke-width="1.0"/>
<rect x="661.38" y="1014.3" width="8.6" height="8.6" fill="#4f4f4f" stroke="#222" stroke-width="1.0"/>
<rect x="670.35" y="1023.9" width="8.6" height="8.6" fill="#4f4f4f" stroke="#222" stroke-width="1.0"/>
<polygon points="400.15,1027.52 410.95,1027.52 405.55,1018.16" fill="#2a74da" stroke="#0a1a40" stroke-width="1.0" stroke-linejoin="miter"/>
<polygon points="409.12,1023.32 419.92,1023.32 414.52,1013.96" fill="#2a74da" stroke="#0a1a40" stroke-width="1.0" stroke-linejoin="miter"/>
<polygon points="418.09,1020.92 428.89,1020.92 423.49,1011.56" fill="#2a74da" stroke="#0a1a40" stroke-width="1.0" stroke-linejoin="miter"/>
<polygon points="427.06,1008.52 437.86,1008.52 432.46,999.16" fill="#2a74da" stroke="#0a1a40" stroke-width="1.0" stroke-linejoin="miter"/>
<polygon points="436.03,1006.92 446.83,1006.92 441.43,997.56" fill="#2a74da" stroke="#0a1a40" stroke-width="1.0" stroke-linejoin="miter"/>
<polygon points="445,995.22 455.8,995.22 450.4,985.86" fill="#2a74da" stroke="#0a1a40" stroke-width="1.0" stroke-linejoin="miter"/>
<polygon points="453.97,988.72 464.77,988.72 459.37,979.36" fill="#2a74da" stroke="#0a1a40" stroke-width="1.0" stroke-linejoin="miter"/>
<polygon points="462.94,969.32 473.74,969.32 468.34,959.96" fill="#2a74da" stroke="#0a1a40" stroke-width="1.0" stroke-linejoin="miter"/>
<polygon points="471.91,959.32 482.71,959.32 477.31,949.96" fill="#2a74da" stroke="#0a1a40" stroke-width="1.0" stroke-linejoin="miter"/>
<polygon points="480.88,938.62 491.68,938.62 486.28,929.26" fill="#2a74da" stroke="#0a1a40" stroke-width="1.0" stroke-linejoin="miter"/>
<polygon points="489.85,917.02 500.65,917.02 495.25,907.66" fill="#2a74da" stroke="#0a1a40" stroke-width="1.0" stroke-linejoin="miter"/>
<polygon points="498.82,897.32 509.62,897.32 504.22,887.96" fill="#2a74da" stroke="#0a1a40" stroke-width="1.0" stroke-linejoin="miter"/>
<polygon points="507.79,857.12 518.59,857.12 513.19,847.76" fill="#2a74da" stroke="#0a1a40" stroke-width="1.0" stroke-linejoin="miter"/>
<polygon points="516.76,850.02 527.56,850.02 522.16,840.66" fill="#2a74da" stroke="#0a1a40" stroke-width="1.0" stroke-linejoin="miter"/>
<polygon points="525.73,827.52 536.53,827.52 531.13,818.16" fill="#2a74da" stroke="#0a1a40" stroke-width="1.0" stroke-linejoin="miter"/>
<polygon points="534.7,817.32 545.5,817.32 540.1,807.96" fill="#2a74da" stroke="#0a1a40" stroke-width="1.0" stroke-linejoin="miter"/>
<polygon points="543.67,826.12 554.47,826.12 549.07,816.76" fill="#2a74da" stroke="#0a1a40" stroke-width="1.0" stroke-linejoin="miter"/>
<polygon points="552.64,838.72 563.44,838.72 558.04,829.36" fill="#2a74da" stroke="#0a1a40" stroke-width="1.0" stroke-linejoin="miter"/>
<polygon points="561.61,857.12 572.41,857.12 567.01,847.76" fill="#2a74da" stroke="#0a1a40" stroke-width="1.0" stroke-linejoin="miter"/>
<polygon points="570.58,879.62 581.38,879.62 575.98,870.26" fill="#2a74da" stroke="#0a1a40" stroke-width="1.0" stroke-linejoin="miter"/>
<polygon points="579.55,918.72 590.35,918.72 584.95,909.36" fill="#2a74da" stroke="#0a1a40" stroke-width="1.0" stroke-linejoin="miter"/>
<polygon points="588.52,925.42 599.32,925.42 593.92,916.06" fill="#2a74da" stroke="#0a1a40" stroke-width="1.0" stroke-linejoin="miter"/>
<polygon points="597.49,955.92 608.29,955.92 602.89,946.56" fill="#2a74da" stroke="#0a1a40" stroke-width="1.0" stroke-linejoin="miter"/>
<polygon points="606.46,968.52 617.26,968.52 611.86,959.16" fill="#2a74da" stroke="#0a1a40" stroke-width="1.0" stroke-linejoin="miter"/>
<polygon points="615.43,979.22 626.23,979.22 620.83,969.86" fill="#2a74da" stroke="#0a1a40" stroke-width="1.0" stroke-linejoin="miter"/>
<polygon points="624.4,993.52 635.2,993.52 629.8,984.16" fill="#2a74da" stroke="#0a1a40" stroke-width="1.0" stroke-linejoin="miter"/>
<polygon points="633.37,1009.82 644.17,1009.82 638.77,1000.46" fill="#2a74da" stroke="#0a1a40" stroke-width="1.0" stroke-linejoin="miter"/>
<polygon points="642.34,1015.52 653.14,1015.52 647.74,1006.16" fill="#2a74da" stroke="#0a1a40" stroke-width="1.0" stroke-linejoin="miter"/>
<polygon points="651.31,1020.42 662.11,1020.42 656.71,1011.06" fill="#2a74da" stroke="#0a1a40" stroke-width="1.0" stroke-linejoin="miter"/>
<polygon points="660.28,1023.12 671.08,1023.12 665.68,1013.76" fill="#2a74da" stroke="#0a1a40" stroke-width="1.0" stroke-linejoin="miter"/>
<polygon points="669.25,1033.32 680.05,1033.32 674.65,1023.96" fill="#2a74da" stroke="#0a1a40" stroke-width="1.0" stroke-linejoin="miter"/>
<circle cx="495.25" cy="900.8" r="4.8" fill="#ea3f3c" stroke="#400" stroke-width="1.0"/>
<circle cx="504.22" cy="874" r="4.8" fill="#ea3f3c" stroke="#400" stroke-width="1.0"/>
<circle cx="513.19" cy="849.9" r="4.8" fill="#ea3f3c" stroke="#400" stroke-width="1.0"/>
<circle cx="522.16" cy="826.4" r="4.8" fill="#ea3f3c" stroke="#400" stroke-width="1.0"/>
<circle cx="531.13" cy="805.4" r="4.8" fill="#ea3f3c" stroke="#400" stroke-width="1.0"/>
<circle cx="540.1" cy="792.7" r="4.8" fill="#ea3f3c" stroke="#400" stroke-width="1.0"/>
<circle cx="549.07" cy="800.3" r="4.8" fill="#ea3f3c" stroke="#400" stroke-width="1.0"/>
<circle cx="558.04" cy="824.3" r="4.8" fill="#ea3f3c" stroke="#400" stroke-width="1.0"/>
<circle cx="567.01" cy="848.6" r="4.8" fill="#ea3f3c" stroke="#400" stroke-width="1.0"/>
<circle cx="575.98" cy="865.2" r="4.8" fill="#ea3f3c" stroke="#400" stroke-width="1.0"/>
<circle cx="584.95" cy="900" r="4.8" fill="#ea3f3c" stroke="#400" stroke-width="1.0"/>
<polygon points="397.4,1419.2 397.4,1416.36 398.9,1416.26 400.4,1416.16 401.9,1416.04 403.4,1415.91 404.9,1415.77 406.4,1415.62 407.9,1415.45 409.4,1415.26 410.9,1415.04 412.4,1414.81 413.9,1414.55 415.4,1414.25 416.9,1413.93 418.4,1413.56 419.9,1413.15 421.4,1412.69 422.9,1412.18 424.4,1411.61 425.9,1410.98 427.4,1410.27 428.9,1409.47 430.4,1408.59 431.9,1407.62 433.4,1406.53 434.9,1405.33 436.4,1404.01 437.9,1402.54 439.4,1400.94 440.9,1399.17 442.4,1397.23 443.9,1395.12 445.4,1392.81 446.9,1390.31 448.4,1387.59 449.9,1384.64 451.4,1381.47 452.9,1378.05 454.4,1374.39 455.9,1370.47 457.4,1366.28 458.9,1361.83 460.4,1357.11 461.9,1352.12 463.4,1346.86 464.9,1341.33 466.4,1335.54 467.9,1329.5 469.4,1323.21 470.9,1316.69 472.4,1309.96 473.9,1303.03 475.4,1295.92 476.9,1288.66 478.4,1281.27 479.9,1273.78 481.4,1266.23 482.9,1258.65 484.4,1251.07 485.9,1243.53 487.4,1236.07 488.9,1228.74 490.4,1221.58 491.9,1214.64 493.4,1207.95 494.9,1201.56 496.4,1195.53 497.9,1189.89 499.4,1184.68 500.9,1179.96 502.4,1175.76 503.9,1172.12 505.4,1169.06 506.9,1166.62 508.4,1164.82 509.9,1163.68 511.4,1163.21 512.9,1163.42 514.4,1164.29 515.9,1165.83 517.4,1168.01 518.9,1170.82 520.4,1174.23 521.9,1178.22 523.4,1182.73 524.9,1187.75 526.4,1193.22 527.9,1199.1 529.4,1205.35 530.9,1211.93 532.4,1218.78 533.9,1225.86 535.4,1233.12 536.9,1240.53 538.4,1248.04 539.9,1255.61 541.4,1263.2 542.9,1270.77 544.4,1278.28 545.9,1285.71 547.4,1293.03 548.9,1300.2 550.4,1307.21 551.9,1314.02 553.4,1320.63 554.9,1327.01 556.4,1333.15 557.9,1339.04 559.4,1344.68 560.9,1350.05 562.4,1355.14 563.9,1359.97 565.4,1364.53 566.9,1368.82 568.4,1372.85 569.9,1376.62 571.4,1380.13 572.9,1383.4 574.4,1386.44 575.9,1389.24 577.4,1391.83 578.9,1394.22 580.4,1396.41 581.9,1398.42 583.4,1400.25 584.9,1401.92 586.4,1403.44 587.9,1404.82 589.4,1406.07 590.9,1407.2 592.4,1408.22 593.9,1409.13 595.4,1409.96 596.9,1410.7 598.4,1411.37 599.9,1411.96 601.4,1412.5 602.9,1412.98 604.4,1413.4 605.9,1413.78 607.4,1414.13 608.9,1414.43 610.4,1414.71 611.9,1414.95 613.4,1415.17 614.9,1415.37 616.4,1415.55 617.9,1415.71 619.4,1415.86 620.9,1415.99 622.4,1416.11 623.9,1416.22 625.4,1416.32 626.9,1416.42 628.4,1416.51 629.9,1416.59 631.4,1416.66 632.9,1416.73 634.4,1416.8 635.9,1416.86 637.4,1416.92 638.9,1416.97 640.4,1417.03 641.9,1417.08 643.4,1417.12 644.9,1417.17 646.4,1417.21 647.9,1417.26 649.4,1417.3 650.9,1417.34 652.4,1417.37 653.9,1417.41 655.4,1417.45 656.9,1417.48 658.4,1417.52 659.9,1417.55 661.4,1417.58 662.9,1417.61 664.4,1417.64 665.9,1417.67 667.4,1417.7 668.9,1417.72 670.4,1417.75 671.9,1417.78 673.4,1417.8 674.9,1417.83 676.4,1417.85 677.9,1417.87 679.4,1417.9 680.9,1417.92 682.4,1417.94 682.4,1419.2" fill="#f2f2f2" stroke="none" stroke-width="1"/>
<line x1="511.7" y1="1122" x2="511.7" y2="1419.2" stroke="#555555" stroke-width="2.0"/>
<polyline points="397.4,1416.36 398.9,1416.26 400.4,1416.16 401.9,1416.04 403.4,1415.91 404.9,1415.77 406.4,1415.62 407.9,1415.45 409.4,1415.26 410.9,1415.04 412.4,1414.81 413.9,1414.55 415.4,1414.25 416.9,1413.93 418.4,1413.56 419.9,1413.15 421.4,1412.69 422.9,1412.18 424.4,1411.61 425.9,1410.98 427.4,1410.27 428.9,1409.47 430.4,1408.59 431.9,1407.62 433.4,1406.53 434.9,1405.33 436.4,1404.01 437.9,1402.54 439.4,1400.94 440.9,1399.17 442.4,1397.23 443.9,1395.12 445.4,1392.81 446.9,1390.31 448.4,1387.59 449.9,1384.64 451.4,1381.47 452.9,1378.05 454.4,1374.39 455.9,1370.47 457.4,1366.28 458.9,1361.83 460.4,1357.11 461.9,1352.12 463.4,1346.86 464.9,1341.33 466.4,1335.54 467.9,1329.5 469.4,1323.21 470.9,1316.69 472.4,1309.96 473.9,1303.03 475.4,1295.92 476.9,1288.66 478.4,1281.27 479.9,1273.78 481.4,1266.23 482.9,1258.65 484.4,1251.07 485.9,1243.53 487.4,1236.07 488.9,1228.74 490.4,1221.58 491.9,1214.64 493.4,1207.95 494.9,1201.56 496.4,1195.53 497.9,1189.89 499.4,1184.68 500.9,1179.96 502.4,1175.76 503.9,1172.12 505.4,1169.06 506.9,1166.62 508.4,1164.82 509.9,1163.68 511.4,1163.21 512.9,1163.42 514.4,1164.29 515.9,1165.83 517.4,1168.01 518.9,1170.82 520.4,1174.23 521.9,1178.22 523.4,1182.73 524.9,1187.75 526.4,1193.22 527.9,1199.1 529.4,1205.35 530.9,1211.93 532.4,1218.78 533.9,1225.86 535.4,1233.12 536.9,1240.53 538.4,1248.04 539.9,1255.61 541.4,1263.2 542.9,1270.77 544.4,1278.28 545.9,1285.71 547.4,1293.03 548.9,1300.2 550.4,1307.21 551.9,1314.02 553.4,1320.63 554.9,1327.01 556.4,1333.15 557.9,1339.04 559.4,1344.68 560.9,1350.05 562.4,1355.14 563.9,1359.97 565.4,1364.53 566.9,1368.82 568.4,1372.85 569.9,1376.62 571.4,1380.13 572.9,1383.4 574.4,1386.44 575.9,1389.24 577.4,1391.83 578.9,1394.22 580.4,1396.41 581.9,1398.42 583.4,1400.25 584.9,1401.92 586.4,1403.44 587.9,1404.82 589.4,1406.07 590.9,1407.2 592.4,1408.22 593.9,1409.13 595.4,1409.96 596.9,1410.7 598.4,1411.37 599.9,1411.96 601.4,1412.5 602.9,1412.98 604.4,1413.4 605.9,1413.78 607.4,1414.13 608.9,1414.43 610.4,1414.71 611.9,1414.95 613.4,1415.17 614.9,1415.37 616.4,1415.55 617.9,1415.71 619.4,1415.86 620.9,1415.99 622.4,1416.11 623.9,1416.22 625.4,1416.32 626.9,1416.42 628.4,1416.51 629.9,1416.59 631.4,1416.66 632.9,1416.73 634.4,1416.8 635.9,1416.86 637.4,1416.92 638.9,1416.97 640.4,1417.03 641.9,1417.08 643.4,1417.12 644.9,1417.17 646.4,1417.21 647.9,1417.26 649.4,1417.3 650.9,1417.34 652.4,1417.37 653.9,1417.41 655.4,1417.45 656.9,1417.48 658.4,1417.52 659.9,1417.55 661.4,1417.58 662.9,1417.61 664.4,1417.64 665.9,1417.67 667.4,1417.7 668.9,1417.72 670.4,1417.75 671.9,1417.78 673.4,1417.8 674.9,1417.83 676.4,1417.85 677.9,1417.87 679.4,1417.9 680.9,1417.92 682.4,1417.94" fill="none" stroke="#555555" stroke-width="2.6" stroke-linejoin="round" stroke-linecap="round"/>
<polygon points="397.4,1419.2 397.4,1416.5 398.9,1416.41 400.4,1416.31 401.9,1416.2 403.4,1416.07 404.9,1415.94 406.4,1415.79 407.9,1415.63 409.4,1415.45 410.9,1415.25 412.4,1415.02 413.9,1414.77 415.4,1414.49 416.9,1414.18 418.4,1413.84 419.9,1413.45 421.4,1413.01 422.9,1412.53 424.4,1411.98 425.9,1411.38 427.4,1410.7 428.9,1409.95 430.4,1409.11 431.9,1408.18 433.4,1407.15 434.9,1406.01 436.4,1404.75 437.9,1403.36 439.4,1401.83 440.9,1400.15 442.4,1398.31 443.9,1396.29 445.4,1394.1 446.9,1391.72 448.4,1389.13 449.9,1386.33 451.4,1383.31 452.9,1380.06 454.4,1376.58 455.9,1372.84 457.4,1368.86 458.9,1364.63 460.4,1360.14 461.9,1355.39 463.4,1350.39 464.9,1345.13 466.4,1339.62 467.9,1333.88 469.4,1327.9 470.9,1321.7 472.4,1315.29 473.9,1308.7 475.4,1301.94 476.9,1295.03 478.4,1288 479.9,1280.88 481.4,1273.7 482.9,1266.49 484.4,1259.28 485.9,1252.11 487.4,1245.02 488.9,1238.04 490.4,1231.23 491.9,1224.62 493.4,1218.26 494.9,1212.19 496.4,1206.45 497.9,1201.08 499.4,1196.13 500.9,1191.64 502.4,1187.65 503.9,1184.18 505.4,1181.27 506.9,1178.96 508.4,1177.25 509.9,1176.16 511.4,1175.71 512.9,1175.91 514.4,1176.74 515.9,1178.2 517.4,1180.27 518.9,1182.95 520.4,1186.19 521.9,1189.98 523.4,1194.28 524.9,1199.05 526.4,1204.25 527.9,1209.85 529.4,1215.79 530.9,1222.05 532.4,1228.56 533.9,1235.3 535.4,1242.21 536.9,1249.26 538.4,1256.4 539.9,1263.6 541.4,1270.82 542.9,1278.01 544.4,1285.16 545.9,1292.23 547.4,1299.19 548.9,1306.01 550.4,1312.68 551.9,1319.16 553.4,1325.44 554.9,1331.51 556.4,1337.35 557.9,1342.96 559.4,1348.32 560.9,1353.42 562.4,1358.27 563.9,1362.87 565.4,1367.2 566.9,1371.28 568.4,1375.11 569.9,1378.7 571.4,1382.04 572.9,1385.15 574.4,1388.04 575.9,1390.71 577.4,1393.17 578.9,1395.44 580.4,1397.52 581.9,1399.43 583.4,1401.17 584.9,1402.76 586.4,1404.21 587.9,1405.52 589.4,1406.71 590.9,1407.78 592.4,1408.75 593.9,1409.63 595.4,1410.41 596.9,1411.12 598.4,1411.75 599.9,1412.32 601.4,1412.82 602.9,1413.28 604.4,1413.69 605.9,1414.05 607.4,1414.37 608.9,1414.67 610.4,1414.93 611.9,1415.16 613.4,1415.37 614.9,1415.56 616.4,1415.73 617.9,1415.88 619.4,1416.02 620.9,1416.15 622.4,1416.26 623.9,1416.37 625.4,1416.47 626.9,1416.55 628.4,1416.64 629.9,1416.71 631.4,1416.78 632.9,1416.85 634.4,1416.91 635.9,1416.97 637.4,1417.03 638.9,1417.08 640.4,1417.13 641.9,1417.18 643.4,1417.23 644.9,1417.27 646.4,1417.31 647.9,1417.35 649.4,1417.39 650.9,1417.43 652.4,1417.46 653.9,1417.5 655.4,1417.53 656.9,1417.57 658.4,1417.6 659.9,1417.63 661.4,1417.66 662.9,1417.69 664.4,1417.72 665.9,1417.74 667.4,1417.77 668.9,1417.8 670.4,1417.82 671.9,1417.85 673.4,1417.87 674.9,1417.89 676.4,1417.92 677.9,1417.94 679.4,1417.96 680.9,1417.98 682.4,1418 682.4,1419.2" fill="#f9d0d0" stroke="none" stroke-width="1"/>
<line x1="511.7" y1="1175.7" x2="511.7" y2="1419.2" stroke="#e2413c" stroke-width="2.0"/>
<polyline points="397.4,1416.5 398.9,1416.41 400.4,1416.31 401.9,1416.2 403.4,1416.07 404.9,1415.94 406.4,1415.79 407.9,1415.63 409.4,1415.45 410.9,1415.25 412.4,1415.02 413.9,1414.77 415.4,1414.49 416.9,1414.18 418.4,1413.84 419.9,1413.45 421.4,1413.01 422.9,1412.53 424.4,1411.98 425.9,1411.38 427.4,1410.7 428.9,1409.95 430.4,1409.11 431.9,1408.18 433.4,1407.15 434.9,1406.01 436.4,1404.75 437.9,1403.36 439.4,1401.83 440.9,1400.15 442.4,1398.31 443.9,1396.29 445.4,1394.1 446.9,1391.72 448.4,1389.13 449.9,1386.33 451.4,1383.31 452.9,1380.06 454.4,1376.58 455.9,1372.84 457.4,1368.86 458.9,1364.63 460.4,1360.14 461.9,1355.39 463.4,1350.39 464.9,1345.13 466.4,1339.62 467.9,1333.88 469.4,1327.9 470.9,1321.7 472.4,1315.29 473.9,1308.7 475.4,1301.94 476.9,1295.03 478.4,1288 479.9,1280.88 481.4,1273.7 482.9,1266.49 484.4,1259.28 485.9,1252.11 487.4,1245.02 488.9,1238.04 490.4,1231.23 491.9,1224.62 493.4,1218.26 494.9,1212.19 496.4,1206.45 497.9,1201.08 499.4,1196.13 500.9,1191.64 502.4,1187.65 503.9,1184.18 505.4,1181.27 506.9,1178.96 508.4,1177.25 509.9,1176.16 511.4,1175.71 512.9,1175.91 514.4,1176.74 515.9,1178.2 517.4,1180.27 518.9,1182.95 520.4,1186.19 521.9,1189.98 523.4,1194.28 524.9,1199.05 526.4,1204.25 527.9,1209.85 529.4,1215.79 530.9,1222.05 532.4,1228.56 533.9,1235.3 535.4,1242.21 536.9,1249.26 538.4,1256.4 539.9,1263.6 541.4,1270.82 542.9,1278.01 544.4,1285.16 545.9,1292.23 547.4,1299.19 548.9,1306.01 550.4,1312.68 551.9,1319.16 553.4,1325.44 554.9,1331.51 556.4,1337.35 557.9,1342.96 559.4,1348.32 560.9,1353.42 562.4,1358.27 563.9,1362.87 565.4,1367.2 566.9,1371.28 568.4,1375.11 569.9,1378.7 571.4,1382.04 572.9,1385.15 574.4,1388.04 575.9,1390.71 577.4,1393.17 578.9,1395.44 580.4,1397.52 581.9,1399.43 583.4,1401.17 584.9,1402.76 586.4,1404.21 587.9,1405.52 589.4,1406.71 590.9,1407.78 592.4,1408.75 593.9,1409.63 595.4,1410.41 596.9,1411.12 598.4,1411.75 599.9,1412.32 601.4,1412.82 602.9,1413.28 604.4,1413.69 605.9,1414.05 607.4,1414.37 608.9,1414.67 610.4,1414.93 611.9,1415.16 613.4,1415.37 614.9,1415.56 616.4,1415.73 617.9,1415.88 619.4,1416.02 620.9,1416.15 622.4,1416.26 623.9,1416.37 625.4,1416.47 626.9,1416.55 628.4,1416.64 629.9,1416.71 631.4,1416.78 632.9,1416.85 634.4,1416.91 635.9,1416.97 637.4,1417.03 638.9,1417.08 640.4,1417.13 641.9,1417.18 643.4,1417.23 644.9,1417.27 646.4,1417.31 647.9,1417.35 649.4,1417.39 650.9,1417.43 652.4,1417.46 653.9,1417.5 655.4,1417.53 656.9,1417.57 658.4,1417.6 659.9,1417.63 661.4,1417.66 662.9,1417.69 664.4,1417.72 665.9,1417.74 667.4,1417.77 668.9,1417.8 670.4,1417.82 671.9,1417.85 673.4,1417.87 674.9,1417.89 676.4,1417.92 677.9,1417.94 679.4,1417.96 680.9,1417.98 682.4,1418" fill="none" stroke="#e2413c" stroke-width="2.6" stroke-linejoin="round" stroke-linecap="round"/>
<polygon points="397.4,1419.2 397.4,1417.3 398.9,1417.25 400.4,1417.19 401.9,1417.12 403.4,1417.05 404.9,1416.97 406.4,1416.89 407.9,1416.79 409.4,1416.69 410.9,1416.58 412.4,1416.45 413.9,1416.31 415.4,1416.16 416.9,1415.99 418.4,1415.8 419.9,1415.59 421.4,1415.35 422.9,1415.09 424.4,1414.79 425.9,1414.46 427.4,1414.09 428.9,1413.67 430.4,1413.21 431.9,1412.69 433.4,1412.12 434.9,1411.48 436.4,1410.77 437.9,1409.98 439.4,1409.11 440.9,1408.15 442.4,1407.09 443.9,1405.92 445.4,1404.63 446.9,1403.22 448.4,1401.68 449.9,1400.01 451.4,1398.18 452.9,1396.2 454.4,1394.05 455.9,1391.74 457.4,1389.25 458.9,1386.57 460.4,1383.71 461.9,1380.66 463.4,1377.41 464.9,1373.96 466.4,1370.31 467.9,1366.46 469.4,1362.42 470.9,1358.18 472.4,1353.75 473.9,1349.15 475.4,1344.37 476.9,1339.43 478.4,1334.35 479.9,1329.13 481.4,1323.8 482.9,1318.37 484.4,1312.86 485.9,1307.31 487.4,1301.72 488.9,1296.14 490.4,1290.58 491.9,1285.09 493.4,1279.67 494.9,1274.38 496.4,1269.25 497.9,1264.29 499.4,1259.56 500.9,1255.08 502.4,1250.88 503.9,1247.01 505.4,1243.48 506.9,1240.34 508.4,1237.6 509.9,1235.29 511.4,1233.43 512.9,1232.05 514.4,1231.14 515.9,1230.73 517.4,1230.81 518.9,1231.39 520.4,1232.45 521.9,1234 523.4,1236.01 524.9,1238.46 526.4,1241.34 527.9,1244.62 529.4,1248.26 530.9,1252.25 532.4,1256.54 533.9,1261.11 535.4,1265.92 536.9,1270.94 538.4,1276.13 539.9,1281.47 541.4,1286.91 542.9,1292.43 544.4,1298 545.9,1303.59 547.4,1309.16 548.9,1314.7 550.4,1320.19 551.9,1325.58 553.4,1330.88 554.9,1336.06 556.4,1341.09 557.9,1345.98 559.4,1350.7 560.9,1355.25 562.4,1359.61 563.9,1363.78 565.4,1367.76 566.9,1371.55 568.4,1375.13 569.9,1378.51 571.4,1381.7 572.9,1384.69 574.4,1387.49 575.9,1390.1 577.4,1392.53 578.9,1394.79 580.4,1396.88 581.9,1398.8 583.4,1400.58 584.9,1402.21 586.4,1403.71 587.9,1405.07 589.4,1406.32 590.9,1407.45 592.4,1408.48 593.9,1409.41 595.4,1410.26 596.9,1411.02 598.4,1411.7 599.9,1412.32 601.4,1412.87 602.9,1413.37 604.4,1413.82 605.9,1414.21 607.4,1414.57 608.9,1414.89 610.4,1415.18 611.9,1415.43 613.4,1415.66 614.9,1415.87 616.4,1416.05 617.9,1416.21 619.4,1416.36 620.9,1416.5 622.4,1416.62 623.9,1416.73 625.4,1416.82 626.9,1416.92 628.4,1417 629.9,1417.07 631.4,1417.14 632.9,1417.21 634.4,1417.27 635.9,1417.32 637.4,1417.38 638.9,1417.42 640.4,1417.47 641.9,1417.51 643.4,1417.55 644.9,1417.59 646.4,1417.63 647.9,1417.67 649.4,1417.7 650.9,1417.73 652.4,1417.76 653.9,1417.8 655.4,1417.82 656.9,1417.85 658.4,1417.88 659.9,1417.91 661.4,1417.93 662.9,1417.96 664.4,1417.98 665.9,1418 667.4,1418.03 668.9,1418.05 670.4,1418.07 671.9,1418.09 673.4,1418.11 674.9,1418.13 676.4,1418.15 677.9,1418.17 679.4,1418.19 680.9,1418.2 682.4,1418.22 682.4,1419.2" fill="#cfe0f6" stroke="none" stroke-width="1"/>
<line x1="516.4" y1="1230.7" x2="516.4" y2="1419.2" stroke="#2070d8" stroke-width="2.0"/>
<polyline points="397.4,1417.3 398.9,1417.25 400.4,1417.19 401.9,1417.12 403.4,1417.05 404.9,1416.97 406.4,1416.89 407.9,1416.79 409.4,1416.69 410.9,1416.58 412.4,1416.45 413.9,1416.31 415.4,1416.16 416.9,1415.99 418.4,1415.8 419.9,1415.59 421.4,1415.35 422.9,1415.09 424.4,1414.79 425.9,1414.46 427.4,1414.09 428.9,1413.67 430.4,1413.21 431.9,1412.69 433.4,1412.12 434.9,1411.48 436.4,1410.77 437.9,1409.98 439.4,1409.11 440.9,1408.15 442.4,1407.09 443.9,1405.92 445.4,1404.63 446.9,1403.22 448.4,1401.68 449.9,1400.01 451.4,1398.18 452.9,1396.2 454.4,1394.05 455.9,1391.74 457.4,1389.25 458.9,1386.57 460.4,1383.71 461.9,1380.66 463.4,1377.41 464.9,1373.96 466.4,1370.31 467.9,1366.46 469.4,1362.42 470.9,1358.18 472.4,1353.75 473.9,1349.15 475.4,1344.37 476.9,1339.43 478.4,1334.35 479.9,1329.13 481.4,1323.8 482.9,1318.37 484.4,1312.86 485.9,1307.31 487.4,1301.72 488.9,1296.14 490.4,1290.58 491.9,1285.09 493.4,1279.67 494.9,1274.38 496.4,1269.25 497.9,1264.29 499.4,1259.56 500.9,1255.08 502.4,1250.88 503.9,1247.01 505.4,1243.48 506.9,1240.34 508.4,1237.6 509.9,1235.29 511.4,1233.43 512.9,1232.05 514.4,1231.14 515.9,1230.73 517.4,1230.81 518.9,1231.39 520.4,1232.45 521.9,1234 523.4,1236.01 524.9,1238.46 526.4,1241.34 527.9,1244.62 529.4,1248.26 530.9,1252.25 532.4,1256.54 533.9,1261.11 535.4,1265.92 536.9,1270.94 538.4,1276.13 539.9,1281.47 541.4,1286.91 542.9,1292.43 544.4,1298 545.9,1303.59 547.4,1309.16 548.9,1314.7 550.4,1320.19 551.9,1325.58 553.4,1330.88 554.9,1336.06 556.4,1341.09 557.9,1345.98 559.4,1350.7 560.9,1355.25 562.4,1359.61 563.9,1363.78 565.4,1367.76 566.9,1371.55 568.4,1375.13 569.9,1378.51 571.4,1381.7 572.9,1384.69 574.4,1387.49 575.9,1390.1 577.4,1392.53 578.9,1394.79 580.4,1396.88 581.9,1398.8 583.4,1400.58 584.9,1402.21 586.4,1403.71 587.9,1405.07 589.4,1406.32 590.9,1407.45 592.4,1408.48 593.9,1409.41 595.4,1410.26 596.9,1411.02 598.4,1411.7 599.9,1412.32 601.4,1412.87 602.9,1413.37 604.4,1413.82 605.9,1414.21 607.4,1414.57 608.9,1414.89 610.4,1415.18 611.9,1415.43 613.4,1415.66 614.9,1415.87 616.4,1416.05 617.9,1416.21 619.4,1416.36 620.9,1416.5 622.4,1416.62 623.9,1416.73 625.4,1416.82 626.9,1416.92 628.4,1417 629.9,1417.07 631.4,1417.14 632.9,1417.21 634.4,1417.27 635.9,1417.32 637.4,1417.38 638.9,1417.42 640.4,1417.47 641.9,1417.51 643.4,1417.55 644.9,1417.59 646.4,1417.63 647.9,1417.67 649.4,1417.7 650.9,1417.73 652.4,1417.76 653.9,1417.8 655.4,1417.82 656.9,1417.85 658.4,1417.88 659.9,1417.91 661.4,1417.93 662.9,1417.96 664.4,1417.98 665.9,1418 667.4,1418.03 668.9,1418.05 670.4,1418.07 671.9,1418.09 673.4,1418.11 674.9,1418.13 676.4,1418.15 677.9,1418.17 679.4,1418.19 680.9,1418.2 682.4,1418.22" fill="none" stroke="#2070d8" stroke-width="2.6" stroke-linejoin="round" stroke-linecap="round"/>
<polygon points="397.4,1419.2 397.4,1418.14 398.9,1418.11 400.4,1418.08 401.9,1418.05 403.4,1418.02 404.9,1417.99 406.4,1417.95 407.9,1417.91 409.4,1417.87 410.9,1417.82 412.4,1417.77 413.9,1417.71 415.4,1417.65 416.9,1417.58 418.4,1417.51 419.9,1417.43 421.4,1417.34 422.9,1417.24 424.4,1417.13 425.9,1417.01 427.4,1416.87 428.9,1416.72 430.4,1416.55 431.9,1416.37 433.4,1416.16 434.9,1415.93 436.4,1415.68 437.9,1415.4 439.4,1415.09 440.9,1414.74 442.4,1414.36 443.9,1413.94 445.4,1413.48 446.9,1412.97 448.4,1412.42 449.9,1411.81 451.4,1411.14 452.9,1410.41 454.4,1409.62 455.9,1408.75 457.4,1407.82 458.9,1406.8 460.4,1405.71 461.9,1404.53 463.4,1403.26 464.9,1401.9 466.4,1400.44 467.9,1398.89 469.4,1397.23 470.9,1395.47 472.4,1393.61 473.9,1391.64 475.4,1389.57 476.9,1387.39 478.4,1385.11 479.9,1382.73 481.4,1380.24 482.9,1377.66 484.4,1374.99 485.9,1372.23 487.4,1369.39 488.9,1366.48 490.4,1363.5 491.9,1360.47 493.4,1357.39 494.9,1354.27 496.4,1351.13 497.9,1347.97 499.4,1344.82 500.9,1341.69 502.4,1338.58 503.9,1335.53 505.4,1332.53 506.9,1329.61 508.4,1326.78 509.9,1324.07 511.4,1321.48 512.9,1319.04 514.4,1316.76 515.9,1314.65 517.4,1312.74 518.9,1311.03 520.4,1309.54 521.9,1308.28 523.4,1307.26 524.9,1306.5 526.4,1305.98 527.9,1305.73 529.4,1305.74 530.9,1306.01 532.4,1306.54 533.9,1307.32 535.4,1308.36 536.9,1309.63 538.4,1311.14 539.9,1312.86 541.4,1314.79 542.9,1316.91 544.4,1319.2 545.9,1321.65 547.4,1324.25 548.9,1326.97 550.4,1329.8 551.9,1332.73 553.4,1335.73 554.9,1338.79 556.4,1341.9 557.9,1345.03 559.4,1348.18 560.9,1351.34 562.4,1354.48 563.9,1357.59 565.4,1360.67 566.9,1363.7 568.4,1366.68 569.9,1369.59 571.4,1372.42 572.9,1375.17 574.4,1377.84 575.9,1380.41 577.4,1382.89 578.9,1385.27 580.4,1387.54 581.9,1389.71 583.4,1391.78 584.9,1393.74 586.4,1395.59 587.9,1397.34 589.4,1398.99 590.9,1400.54 592.4,1401.99 593.9,1403.35 595.4,1404.61 596.9,1405.78 598.4,1406.87 599.9,1407.88 601.4,1408.81 602.9,1409.67 604.4,1410.46 605.9,1411.19 607.4,1411.85 608.9,1412.46 610.4,1413.01 611.9,1413.51 613.4,1413.97 614.9,1414.39 616.4,1414.77 617.9,1415.11 619.4,1415.42 620.9,1415.7 622.4,1415.95 623.9,1416.17 625.4,1416.38 626.9,1416.56 628.4,1416.73 629.9,1416.88 631.4,1417.01 632.9,1417.14 634.4,1417.24 635.9,1417.34 637.4,1417.43 638.9,1417.51 640.4,1417.59 641.9,1417.65 643.4,1417.72 644.9,1417.77 646.4,1417.82 647.9,1417.87 649.4,1417.91 650.9,1417.95 652.4,1417.99 653.9,1418.02 655.4,1418.06 656.9,1418.09 658.4,1418.11 659.9,1418.14 661.4,1418.17 662.9,1418.19 664.4,1418.21 665.9,1418.24 667.4,1418.26 668.9,1418.28 670.4,1418.3 671.9,1418.31 673.4,1418.33 674.9,1418.35 676.4,1418.37 677.9,1418.38 679.4,1418.4 680.9,1418.41 682.4,1418.43 682.4,1419.2" fill="#d3f1df" stroke="none" stroke-width="1"/>
<line x1="528.6" y1="1305.7" x2="528.6" y2="1419.2" stroke="#3aae68" stroke-width="2.0"/>
<polyline points="397.4,1418.14 398.9,1418.11 400.4,1418.08 401.9,1418.05 403.4,1418.02 404.9,1417.99 406.4,1417.95 407.9,1417.91 409.4,1417.87 410.9,1417.82 412.4,1417.77 413.9,1417.71 415.4,1417.65 416.9,1417.58 418.4,1417.51 419.9,1417.43 421.4,1417.34 422.9,1417.24 424.4,1417.13 425.9,1417.01 427.4,1416.87 428.9,1416.72 430.4,1416.55 431.9,1416.37 433.4,1416.16 434.9,1415.93 436.4,1415.68 437.9,1415.4 439.4,1415.09 440.9,1414.74 442.4,1414.36 443.9,1413.94 445.4,1413.48 446.9,1412.97 448.4,1412.42 449.9,1411.81 451.4,1411.14 452.9,1410.41 454.4,1409.62 455.9,1408.75 457.4,1407.82 458.9,1406.8 460.4,1405.71 461.9,1404.53 463.4,1403.26 464.9,1401.9 466.4,1400.44 467.9,1398.89 469.4,1397.23 470.9,1395.47 472.4,1393.61 473.9,1391.64 475.4,1389.57 476.9,1387.39 478.4,1385.11 479.9,1382.73 481.4,1380.24 482.9,1377.66 484.4,1374.99 485.9,1372.23 487.4,1369.39 488.9,1366.48 490.4,1363.5 491.9,1360.47 493.4,1357.39 494.9,1354.27 496.4,1351.13 497.9,1347.97 499.4,1344.82 500.9,1341.69 502.4,1338.58 503.9,1335.53 505.4,1332.53 506.9,1329.61 508.4,1326.78 509.9,1324.07 511.4,1321.48 512.9,1319.04 514.4,1316.76 515.9,1314.65 517.4,1312.74 518.9,1311.03 520.4,1309.54 521.9,1308.28 523.4,1307.26 524.9,1306.5 526.4,1305.98 527.9,1305.73 529.4,1305.74 530.9,1306.01 532.4,1306.54 533.9,1307.32 535.4,1308.36 536.9,1309.63 538.4,1311.14 539.9,1312.86 541.4,1314.79 542.9,1316.91 544.4,1319.2 545.9,1321.65 547.4,1324.25 548.9,1326.97 550.4,1329.8 551.9,1332.73 553.4,1335.73 554.9,1338.79 556.4,1341.9 557.9,1345.03 559.4,1348.18 560.9,1351.34 562.4,1354.48 563.9,1357.59 565.4,1360.67 566.9,1363.7 568.4,1366.68 569.9,1369.59 571.4,1372.42 572.9,1375.17 574.4,1377.84 575.9,1380.41 577.4,1382.89 578.9,1385.27 580.4,1387.54 581.9,1389.71 583.4,1391.78 584.9,1393.74 586.4,1395.59 587.9,1397.34 589.4,1398.99 590.9,1400.54 592.4,1401.99 593.9,1403.35 595.4,1404.61 596.9,1405.78 598.4,1406.87 599.9,1407.88 601.4,1408.81 602.9,1409.67 604.4,1410.46 605.9,1411.19 607.4,1411.85 608.9,1412.46 610.4,1413.01 611.9,1413.51 613.4,1413.97 614.9,1414.39 616.4,1414.77 617.9,1415.11 619.4,1415.42 620.9,1415.7 622.4,1415.95 623.9,1416.17 625.4,1416.38 626.9,1416.56 628.4,1416.73 629.9,1416.88 631.4,1417.01 632.9,1417.14 634.4,1417.24 635.9,1417.34 637.4,1417.43 638.9,1417.51 640.4,1417.59 641.9,1417.65 643.4,1417.72 644.9,1417.77 646.4,1417.82 647.9,1417.87 649.4,1417.91 650.9,1417.95 652.4,1417.99 653.9,1418.02 655.4,1418.06 656.9,1418.09 658.4,1418.11 659.9,1418.14 661.4,1418.17 662.9,1418.19 664.4,1418.21 665.9,1418.24 667.4,1418.26 668.9,1418.28 670.4,1418.3 671.9,1418.31 673.4,1418.33 674.9,1418.35 676.4,1418.37 677.9,1418.38 679.4,1418.4 680.9,1418.41 682.4,1418.43" fill="none" stroke="#3aae68" stroke-width="2.6" stroke-linejoin="round" stroke-linecap="round"/>
<polygon points="397.4,1419.2 397.4,1418.81 398.9,1418.8 400.4,1418.79 401.9,1418.78 403.4,1418.77 404.9,1418.76 406.4,1418.75 407.9,1418.74 409.4,1418.73 410.9,1418.72 412.4,1418.7 413.9,1418.69 415.4,1418.68 416.9,1418.66 418.4,1418.64 419.9,1418.63 421.4,1418.61 422.9,1418.59 424.4,1418.56 425.9,1418.54 427.4,1418.51 428.9,1418.48 430.4,1418.45 431.9,1418.41 433.4,1418.37 434.9,1418.33 436.4,1418.28 437.9,1418.22 439.4,1418.16 440.9,1418.09 442.4,1418.01 443.9,1417.92 445.4,1417.83 446.9,1417.72 448.4,1417.6 449.9,1417.46 451.4,1417.31 452.9,1417.14 454.4,1416.95 455.9,1416.74 457.4,1416.51 458.9,1416.26 460.4,1415.98 461.9,1415.67 463.4,1415.32 464.9,1414.95 466.4,1414.54 467.9,1414.09 469.4,1413.6 470.9,1413.07 472.4,1412.5 473.9,1411.88 475.4,1411.2 476.9,1410.48 478.4,1409.71 479.9,1408.88 481.4,1408 482.9,1407.07 484.4,1406.08 485.9,1405.03 487.4,1403.92 488.9,1402.76 490.4,1401.55 491.9,1400.29 493.4,1398.97 494.9,1397.61 496.4,1396.2 497.9,1394.76 499.4,1393.28 500.9,1391.77 502.4,1390.23 503.9,1388.68 505.4,1387.11 506.9,1385.54 508.4,1383.97 509.9,1382.42 511.4,1380.88 512.9,1379.37 514.4,1377.9 515.9,1376.47 517.4,1375.1 518.9,1373.8 520.4,1372.57 521.9,1371.43 523.4,1370.38 524.9,1369.43 526.4,1368.59 527.9,1367.86 529.4,1367.27 530.9,1366.8 532.4,1366.46 533.9,1366.26 535.4,1366.2 536.9,1366.28 538.4,1366.5 539.9,1366.85 541.4,1367.34 542.9,1367.95 544.4,1368.69 545.9,1369.55 547.4,1370.51 548.9,1371.58 550.4,1372.73 551.9,1373.97 553.4,1375.28 554.9,1376.66 556.4,1378.09 557.9,1379.57 559.4,1381.08 560.9,1382.62 562.4,1384.18 563.9,1385.75 565.4,1387.32 566.9,1388.89 568.4,1390.44 569.9,1391.97 571.4,1393.48 572.9,1394.95 574.4,1396.39 575.9,1397.79 577.4,1399.15 578.9,1400.46 580.4,1401.72 581.9,1402.92 583.4,1404.07 584.9,1405.17 586.4,1406.21 587.9,1407.2 589.4,1408.12 590.9,1409 592.4,1409.82 593.9,1410.58 595.4,1411.3 596.9,1411.96 598.4,1412.58 599.9,1413.15 601.4,1413.67 602.9,1414.15 604.4,1414.6 605.9,1415 607.4,1415.37 608.9,1415.71 610.4,1416.02 611.9,1416.29 613.4,1416.55 614.9,1416.77 616.4,1416.98 617.9,1417.16 619.4,1417.33 620.9,1417.48 622.4,1417.61 623.9,1417.73 625.4,1417.84 626.9,1417.94 628.4,1418.02 629.9,1418.1 631.4,1418.17 632.9,1418.23 634.4,1418.28 635.9,1418.33 637.4,1418.38 638.9,1418.42 640.4,1418.45 641.9,1418.49 643.4,1418.52 644.9,1418.54 646.4,1418.57 647.9,1418.59 649.4,1418.61 650.9,1418.63 652.4,1418.65 653.9,1418.66 655.4,1418.68 656.9,1418.69 658.4,1418.71 659.9,1418.72 661.4,1418.73 662.9,1418.74 664.4,1418.75 665.9,1418.76 667.4,1418.77 668.9,1418.78 670.4,1418.79 671.9,1418.8 673.4,1418.81 674.9,1418.82 676.4,1418.82 677.9,1418.83 679.4,1418.84 680.9,1418.85 682.4,1418.85 682.4,1419.2" fill="#e2d3f2" stroke="none" stroke-width="1"/>
<line x1="535.3" y1="1366.2" x2="535.3" y2="1419.2" stroke="#a67ce0" stroke-width="2.0"/>
<polyline points="397.4,1418.81 398.9,1418.8 400.4,1418.79 401.9,1418.78 403.4,1418.77 404.9,1418.76 406.4,1418.75 407.9,1418.74 409.4,1418.73 410.9,1418.72 412.4,1418.7 413.9,1418.69 415.4,1418.68 416.9,1418.66 418.4,1418.64 419.9,1418.63 421.4,1418.61 422.9,1418.59 424.4,1418.56 425.9,1418.54 427.4,1418.51 428.9,1418.48 430.4,1418.45 431.9,1418.41 433.4,1418.37 434.9,1418.33 436.4,1418.28 437.9,1418.22 439.4,1418.16 440.9,1418.09 442.4,1418.01 443.9,1417.92 445.4,1417.83 446.9,1417.72 448.4,1417.6 449.9,1417.46 451.4,1417.31 452.9,1417.14 454.4,1416.95 455.9,1416.74 457.4,1416.51 458.9,1416.26 460.4,1415.98 461.9,1415.67 463.4,1415.32 464.9,1414.95 466.4,1414.54 467.9,1414.09 469.4,1413.6 470.9,1413.07 472.4,1412.5 473.9,1411.88 475.4,1411.2 476.9,1410.48 478.4,1409.71 479.9,1408.88 481.4,1408 482.9,1407.07 484.4,1406.08 485.9,1405.03 487.4,1403.92 488.9,1402.76 490.4,1401.55 491.9,1400.29 493.4,1398.97 494.9,1397.61 496.4,1396.2 497.9,1394.76 499.4,1393.28 500.9,1391.77 502.4,1390.23 503.9,1388.68 505.4,1387.11 506.9,1385.54 508.4,1383.97 509.9,1382.42 511.4,1380.88 512.9,1379.37 514.4,1377.9 515.9,1376.47 517.4,1375.1 518.9,1373.8 520.4,1372.57 521.9,1371.43 523.4,1370.38 524.9,1369.43 526.4,1368.59 527.9,1367.86 529.4,1367.27 530.9,1366.8 532.4,1366.46 533.9,1366.26 535.4,1366.2 536.9,1366.28 538.4,1366.5 539.9,1366.85 541.4,1367.34 542.9,1367.95 544.4,1368.69 545.9,1369.55 547.4,1370.51 548.9,1371.58 550.4,1372.73 551.9,1373.97 553.4,1375.28 554.9,1376.66 556.4,1378.09 557.9,1379.57 559.4,1381.08 560.9,1382.62 562.4,1384.18 563.9,1385.75 565.4,1387.32 566.9,1388.89 568.4,1390.44 569.9,1391.97 571.4,1393.48 572.9,1394.95 574.4,1396.39 575.9,1397.79 577.4,1399.15 578.9,1400.46 580.4,1401.72 581.9,1402.92 583.4,1404.07 584.9,1405.17 586.4,1406.21 587.9,1407.2 589.4,1408.12 590.9,1409 592.4,1409.82 593.9,1410.58 595.4,1411.3 596.9,1411.96 598.4,1412.58 599.9,1413.15 601.4,1413.67 602.9,1414.15 604.4,1414.6 605.9,1415 607.4,1415.37 608.9,1415.71 610.4,1416.02 611.9,1416.29 613.4,1416.55 614.9,1416.77 616.4,1416.98 617.9,1417.16 619.4,1417.33 620.9,1417.48 622.4,1417.61 623.9,1417.73 625.4,1417.84 626.9,1417.94 628.4,1418.02 629.9,1418.1 631.4,1418.17 632.9,1418.23 634.4,1418.28 635.9,1418.33 637.4,1418.38 638.9,1418.42 640.4,1418.45 641.9,1418.49 643.4,1418.52 644.9,1418.54 646.4,1418.57 647.9,1418.59 649.4,1418.61 650.9,1418.63 652.4,1418.65 653.9,1418.66 655.4,1418.68 656.9,1418.69 658.4,1418.71 659.9,1418.72 661.4,1418.73 662.9,1418.74 664.4,1418.75 665.9,1418.76 667.4,1418.77 668.9,1418.78 670.4,1418.79 671.9,1418.8 673.4,1418.81 674.9,1418.82 676.4,1418.82 677.9,1418.83 679.4,1418.84 680.9,1418.85 682.4,1418.85" fill="none" stroke="#a67ce0" stroke-width="2.6" stroke-linejoin="round" stroke-linecap="round"/>
<rect x="396.6" y="1122" width="286.6" height="297.5" fill="none" stroke="#000" stroke-width="1.6"/>
<line x1="396.6" y1="1319.52" x2="404.9" y2="1319.52" stroke="#000" stroke-width="1.6"/>
<line x1="683.2" y1="1319.52" x2="674.9" y2="1319.52" stroke="#000" stroke-width="1.6"/>
<line x1="396.6" y1="1219.84" x2="404.9" y2="1219.84" stroke="#000" stroke-width="1.6"/>
<line x1="683.2" y1="1219.84" x2="674.9" y2="1219.84" stroke="#000" stroke-width="1.6"/>
<line x1="396.6" y1="1369.36" x2="401.3" y2="1369.36" stroke="#000" stroke-width="1.6"/>
<line x1="683.2" y1="1369.36" x2="678.5" y2="1369.36" stroke="#000" stroke-width="1.6"/>
<line x1="396.6" y1="1269.68" x2="401.3" y2="1269.68" stroke="#000" stroke-width="1.6"/>
<line x1="683.2" y1="1269.68" x2="678.5" y2="1269.68" stroke="#000" stroke-width="1.6"/>
<line x1="396.6" y1="1170" x2="401.3" y2="1170" stroke="#000" stroke-width="1.6"/>
<line x1="683.2" y1="1170" x2="678.5" y2="1170" stroke="#000" stroke-width="1.6"/>
<line x1="427.4" y1="1419.5" x2="427.4" y2="1411.2" stroke="#000" stroke-width="1.6"/>
<line x1="427.4" y1="1122" x2="427.4" y2="1130.3" stroke="#000" stroke-width="1.6"/>
<line x1="523.79" y1="1419.5" x2="523.79" y2="1411.2" stroke="#000" stroke-width="1.6"/>
<line x1="523.79" y1="1122" x2="523.79" y2="1130.3" stroke="#000" stroke-width="1.6"/>
<line x1="620.18" y1="1419.5" x2="620.18" y2="1411.2" stroke="#000" stroke-width="1.6"/>
<line x1="620.18" y1="1122" x2="620.18" y2="1130.3" stroke="#000" stroke-width="1.6"/>
<line x1="475.59" y1="1419.5" x2="475.59" y2="1414.8" stroke="#000" stroke-width="1.6"/>
<line x1="475.59" y1="1122" x2="475.59" y2="1126.7" stroke="#000" stroke-width="1.6"/>
<line x1="571.99" y1="1419.5" x2="571.99" y2="1414.8" stroke="#000" stroke-width="1.6"/>
<line x1="571.99" y1="1122" x2="571.99" y2="1126.7" stroke="#000" stroke-width="1.6"/>
<line x1="668.38" y1="1419.5" x2="668.38" y2="1414.8" stroke="#000" stroke-width="1.6"/>
<line x1="668.38" y1="1122" x2="668.38" y2="1126.7" stroke="#000" stroke-width="1.6"/>
<text x="385.2" y="1425.5" font-family="Liberation Sans" font-size="17.5" text-anchor="end" font-weight="normal" font-style="normal">0</text>
<text x="385.2" y="1325.82" font-family="Liberation Sans" font-size="17.5" text-anchor="end" font-weight="normal" font-style="normal">4</text>
<text x="385.2" y="1226.14" font-family="Liberation Sans" font-size="17.5" text-anchor="end" font-weight="normal" font-style="normal">8</text>
<text x="427.9" y="1442.3" font-family="Liberation Sans" font-size="17.5" text-anchor="middle" font-weight="normal" font-style="normal">6</text>
<text x="524.29" y="1442.3" font-family="Liberation Sans" font-size="17.5" text-anchor="middle" font-weight="normal" font-style="normal">9</text>
<text x="620.68" y="1442.3" font-family="Liberation Sans" font-size="17.5" text-anchor="middle" font-weight="normal" font-style="normal">12</text>
<text x="482.4" y="1477.1" font-family="Liberation Sans" font-size="17.5">|<tspan font-weight="bold">Q</tspan>| (×10<tspan dy="-7.5" font-size="12.5">−3</tspan><tspan dy="7.5" dx="1.5"> Å</tspan><tspan dy="-7.5" font-size="12.5">−1</tspan><tspan dy="7.5">)</tspan></text>
<text transform="translate(356,1270.9) rotate(-90)" font-family="Liberation Sans" font-size="17.5" text-anchor="middle">Int (a.u.)</text>
<text x="412.8" y="1154" font-family="Liberation Sans" font-size="17.5" text-anchor="start" font-weight="normal" font-style="normal">3.6 K</text>
<text x="412.8" y="1174.5" font-family="Liberation Sans" font-size="17.5" text-anchor="start" font-weight="normal" font-style="normal">60 mT</text>
<text x="612.9" y="1154.7" font-family="Liberation Serif" font-size="19" font-style="italic">ω<tspan font-family="Liberation Sans" font-style="normal" font-size="17.5"> = 0°</tspan></text>
<text x="619.3" y="1195.7" font-family="Liberation Serif" font-size="19" font-style="italic">ϕ<tspan font-family="Liberation Sans" font-style="normal" font-size="17.5"> (°)</tspan></text>
<line x1="437.25" y1="1395.18" x2="437.25" y2="1405.93" stroke="#444" stroke-width="0.9"/>
<line x1="435.15" y1="1395.18" x2="439.35" y2="1395.18" stroke="#444" stroke-width="0.9"/>
<line x1="435.15" y1="1405.93" x2="439.35" y2="1405.93" stroke="#444" stroke-width="0.9"/>
<line x1="447.7" y1="1381.36" x2="447.7" y2="1392.64" stroke="#444" stroke-width="0.9"/>
<line x1="445.6" y1="1381.36" x2="449.8" y2="1381.36" stroke="#444" stroke-width="0.9"/>
<line x1="445.6" y1="1392.64" x2="449.8" y2="1392.64" stroke="#444" stroke-width="0.9"/>
<line x1="459.4" y1="1354.53" x2="459.4" y2="1366.87" stroke="#444" stroke-width="0.9"/>
<line x1="457.3" y1="1354.53" x2="461.5" y2="1354.53" stroke="#444" stroke-width="0.9"/>
<line x1="457.3" y1="1366.87" x2="461.5" y2="1366.87" stroke="#444" stroke-width="0.9"/>
<line x1="471.1" y1="1309.85" x2="471.1" y2="1323.95" stroke="#444" stroke-width="0.9"/>
<line x1="469" y1="1309.85" x2="473.2" y2="1309.85" stroke="#444" stroke-width="0.9"/>
<line x1="469" y1="1323.95" x2="473.2" y2="1323.95" stroke="#444" stroke-width="0.9"/>
<line x1="483.2" y1="1248.35" x2="483.2" y2="1264.85" stroke="#444" stroke-width="0.9"/>
<line x1="481.1" y1="1248.35" x2="485.3" y2="1248.35" stroke="#444" stroke-width="0.9"/>
<line x1="481.1" y1="1264.85" x2="485.3" y2="1264.85" stroke="#444" stroke-width="0.9"/>
<line x1="494.4" y1="1174.5" x2="494.4" y2="1193.9" stroke="#444" stroke-width="0.9"/>
<line x1="492.3" y1="1174.5" x2="496.5" y2="1174.5" stroke="#444" stroke-width="0.9"/>
<line x1="492.3" y1="1193.9" x2="496.5" y2="1193.9" stroke="#444" stroke-width="0.9"/>
<line x1="506.6" y1="1159.1" x2="506.6" y2="1179.1" stroke="#444" stroke-width="0.9"/>
<line x1="504.5" y1="1159.1" x2="508.7" y2="1159.1" stroke="#444" stroke-width="0.9"/>
<line x1="504.5" y1="1179.1" x2="508.7" y2="1179.1" stroke="#444" stroke-width="0.9"/>
<line x1="517.4" y1="1157.66" x2="517.4" y2="1177.72" stroke="#444" stroke-width="0.9"/>
<line x1="515.3" y1="1157.66" x2="519.5" y2="1157.66" stroke="#444" stroke-width="0.9"/>
<line x1="515.3" y1="1177.72" x2="519.5" y2="1177.72" stroke="#444" stroke-width="0.9"/>
<line x1="528.3" y1="1190.51" x2="528.3" y2="1209.29" stroke="#444" stroke-width="0.9"/>
<line x1="526.2" y1="1190.51" x2="530.4" y2="1190.51" stroke="#444" stroke-width="0.9"/>
<line x1="526.2" y1="1209.29" x2="530.4" y2="1209.29" stroke="#444" stroke-width="0.9"/>
<line x1="539.7" y1="1246.72" x2="539.7" y2="1263.28" stroke="#444" stroke-width="0.9"/>
<line x1="537.6" y1="1246.72" x2="541.8" y2="1246.72" stroke="#444" stroke-width="0.9"/>
<line x1="537.6" y1="1263.28" x2="541.8" y2="1263.28" stroke="#444" stroke-width="0.9"/>
<line x1="551.4" y1="1310.77" x2="551.4" y2="1324.83" stroke="#444" stroke-width="0.9"/>
<line x1="549.3" y1="1310.77" x2="553.5" y2="1310.77" stroke="#444" stroke-width="0.9"/>
<line x1="549.3" y1="1324.83" x2="553.5" y2="1324.83" stroke="#444" stroke-width="0.9"/>
<line x1="563.1" y1="1354.53" x2="563.1" y2="1366.87" stroke="#444" stroke-width="0.9"/>
<line x1="561" y1="1354.53" x2="565.2" y2="1354.53" stroke="#444" stroke-width="0.9"/>
<line x1="561" y1="1366.87" x2="565.2" y2="1366.87" stroke="#444" stroke-width="0.9"/>
<line x1="574.65" y1="1380.08" x2="574.65" y2="1391.42" stroke="#444" stroke-width="0.9"/>
<line x1="572.55" y1="1380.08" x2="576.75" y2="1380.08" stroke="#444" stroke-width="0.9"/>
<line x1="572.55" y1="1391.42" x2="576.75" y2="1391.42" stroke="#444" stroke-width="0.9"/>
<line x1="586.1" y1="1395.06" x2="586.1" y2="1405.81" stroke="#444" stroke-width="0.9"/>
<line x1="584" y1="1395.06" x2="588.2" y2="1395.06" stroke="#444" stroke-width="0.9"/>
<line x1="584" y1="1405.81" x2="588.2" y2="1405.81" stroke="#444" stroke-width="0.9"/>
<line x1="425.8" y1="1398.59" x2="425.8" y2="1409.21" stroke="#444" stroke-width="0.9"/>
<line x1="423.7" y1="1398.59" x2="427.9" y2="1398.59" stroke="#444" stroke-width="0.9"/>
<line x1="423.7" y1="1409.21" x2="427.9" y2="1409.21" stroke="#444" stroke-width="0.9"/>
<line x1="437.25" y1="1396.75" x2="437.25" y2="1407.43" stroke="#444" stroke-width="0.9"/>
<line x1="435.15" y1="1396.75" x2="439.35" y2="1396.75" stroke="#444" stroke-width="0.9"/>
<line x1="435.15" y1="1407.43" x2="439.35" y2="1407.43" stroke="#444" stroke-width="0.9"/>
<line x1="447.7" y1="1385.23" x2="447.7" y2="1396.37" stroke="#444" stroke-width="0.9"/>
<line x1="445.6" y1="1385.23" x2="449.8" y2="1385.23" stroke="#444" stroke-width="0.9"/>
<line x1="445.6" y1="1396.37" x2="449.8" y2="1396.37" stroke="#444" stroke-width="0.9"/>
<line x1="459.4" y1="1359.02" x2="459.4" y2="1371.18" stroke="#444" stroke-width="0.9"/>
<line x1="457.3" y1="1359.02" x2="461.5" y2="1359.02" stroke="#444" stroke-width="0.9"/>
<line x1="457.3" y1="1371.18" x2="461.5" y2="1371.18" stroke="#444" stroke-width="0.9"/>
<line x1="471.1" y1="1320.87" x2="471.1" y2="1334.53" stroke="#444" stroke-width="0.9"/>
<line x1="469" y1="1320.87" x2="473.2" y2="1320.87" stroke="#444" stroke-width="0.9"/>
<line x1="469" y1="1334.53" x2="473.2" y2="1334.53" stroke="#444" stroke-width="0.9"/>
<line x1="483.2" y1="1255.59" x2="483.2" y2="1271.81" stroke="#444" stroke-width="0.9"/>
<line x1="481.1" y1="1255.59" x2="485.3" y2="1255.59" stroke="#444" stroke-width="0.9"/>
<line x1="481.1" y1="1271.81" x2="485.3" y2="1271.81" stroke="#444" stroke-width="0.9"/>
<line x1="494.4" y1="1195.31" x2="494.4" y2="1213.89" stroke="#444" stroke-width="0.9"/>
<line x1="492.3" y1="1195.31" x2="496.5" y2="1195.31" stroke="#444" stroke-width="0.9"/>
<line x1="492.3" y1="1213.89" x2="496.5" y2="1213.89" stroke="#444" stroke-width="0.9"/>
<line x1="506.6" y1="1150.73" x2="506.6" y2="1171.07" stroke="#444" stroke-width="0.9"/>
<line x1="504.5" y1="1150.73" x2="508.7" y2="1150.73" stroke="#444" stroke-width="0.9"/>
<line x1="504.5" y1="1171.07" x2="508.7" y2="1171.07" stroke="#444" stroke-width="0.9"/>
<line x1="517.1" y1="1162.67" x2="517.1" y2="1182.53" stroke="#444" stroke-width="0.9"/>
<line x1="515" y1="1162.67" x2="519.2" y2="1162.67" stroke="#444" stroke-width="0.9"/>
<line x1="515" y1="1182.53" x2="519.2" y2="1182.53" stroke="#444" stroke-width="0.9"/>
<line x1="528.3" y1="1203.88" x2="528.3" y2="1222.12" stroke="#444" stroke-width="0.9"/>
<line x1="526.2" y1="1203.88" x2="530.4" y2="1203.88" stroke="#444" stroke-width="0.9"/>
<line x1="526.2" y1="1222.12" x2="530.4" y2="1222.12" stroke="#444" stroke-width="0.9"/>
<line x1="539.7" y1="1261.51" x2="539.7" y2="1277.49" stroke="#444" stroke-width="0.9"/>
<line x1="537.6" y1="1261.51" x2="541.8" y2="1261.51" stroke="#444" stroke-width="0.9"/>
<line x1="537.6" y1="1277.49" x2="541.8" y2="1277.49" stroke="#444" stroke-width="0.9"/>
<line x1="551.75" y1="1311.64" x2="551.75" y2="1325.67" stroke="#444" stroke-width="0.9"/>
<line x1="549.65" y1="1311.64" x2="553.85" y2="1311.64" stroke="#444" stroke-width="0.9"/>
<line x1="549.65" y1="1325.67" x2="553.85" y2="1325.67" stroke="#444" stroke-width="0.9"/>
<line x1="563.2" y1="1356.36" x2="563.2" y2="1368.63" stroke="#444" stroke-width="0.9"/>
<line x1="561.1" y1="1356.36" x2="565.3" y2="1356.36" stroke="#444" stroke-width="0.9"/>
<line x1="561.1" y1="1368.63" x2="565.3" y2="1368.63" stroke="#444" stroke-width="0.9"/>
<line x1="574.7" y1="1378.4" x2="574.7" y2="1389.8" stroke="#444" stroke-width="0.9"/>
<line x1="572.6" y1="1378.4" x2="576.8" y2="1378.4" stroke="#444" stroke-width="0.9"/>
<line x1="572.6" y1="1389.8" x2="576.8" y2="1389.8" stroke="#444" stroke-width="0.9"/>
<line x1="586.1" y1="1398.51" x2="586.1" y2="1409.12" stroke="#444" stroke-width="0.9"/>
<line x1="584" y1="1398.51" x2="588.2" y2="1398.51" stroke="#444" stroke-width="0.9"/>
<line x1="584" y1="1409.12" x2="588.2" y2="1409.12" stroke="#444" stroke-width="0.9"/>
<line x1="436.1" y1="1396.25" x2="436.1" y2="1406.95" stroke="#444" stroke-width="0.9"/>
<line x1="434" y1="1396.25" x2="438.2" y2="1396.25" stroke="#444" stroke-width="0.9"/>
<line x1="434" y1="1406.95" x2="438.2" y2="1406.95" stroke="#444" stroke-width="0.9"/>
<line x1="447.7" y1="1400.74" x2="447.7" y2="1411.26" stroke="#444" stroke-width="0.9"/>
<line x1="445.6" y1="1400.74" x2="449.8" y2="1400.74" stroke="#444" stroke-width="0.9"/>
<line x1="445.6" y1="1411.26" x2="449.8" y2="1411.26" stroke="#444" stroke-width="0.9"/>
<line x1="459.4" y1="1385.84" x2="459.4" y2="1396.96" stroke="#444" stroke-width="0.9"/>
<line x1="457.3" y1="1385.84" x2="461.5" y2="1385.84" stroke="#444" stroke-width="0.9"/>
<line x1="457.3" y1="1396.96" x2="461.5" y2="1396.96" stroke="#444" stroke-width="0.9"/>
<line x1="471.1" y1="1351.57" x2="471.1" y2="1364.03" stroke="#444" stroke-width="0.9"/>
<line x1="469" y1="1351.57" x2="473.2" y2="1351.57" stroke="#444" stroke-width="0.9"/>
<line x1="469" y1="1364.03" x2="473.2" y2="1364.03" stroke="#444" stroke-width="0.9"/>
<line x1="482.8" y1="1315.87" x2="482.8" y2="1329.73" stroke="#444" stroke-width="0.9"/>
<line x1="480.7" y1="1315.87" x2="484.9" y2="1315.87" stroke="#444" stroke-width="0.9"/>
<line x1="480.7" y1="1329.73" x2="484.9" y2="1329.73" stroke="#444" stroke-width="0.9"/>
<line x1="494.4" y1="1266.71" x2="494.4" y2="1282.49" stroke="#444" stroke-width="0.9"/>
<line x1="492.3" y1="1266.71" x2="496.5" y2="1266.71" stroke="#444" stroke-width="0.9"/>
<line x1="492.3" y1="1282.49" x2="496.5" y2="1282.49" stroke="#444" stroke-width="0.9"/>
<line x1="506.6" y1="1236.52" x2="506.6" y2="1253.48" stroke="#444" stroke-width="0.9"/>
<line x1="504.5" y1="1236.52" x2="508.7" y2="1236.52" stroke="#444" stroke-width="0.9"/>
<line x1="504.5" y1="1253.48" x2="508.7" y2="1253.48" stroke="#444" stroke-width="0.9"/>
<line x1="517.1" y1="1215.1" x2="517.1" y2="1232.9" stroke="#444" stroke-width="0.9"/>
<line x1="515" y1="1215.1" x2="519.2" y2="1215.1" stroke="#444" stroke-width="0.9"/>
<line x1="515" y1="1232.9" x2="519.2" y2="1232.9" stroke="#444" stroke-width="0.9"/>
<line x1="528.3" y1="1228.15" x2="528.3" y2="1245.45" stroke="#444" stroke-width="0.9"/>
<line x1="526.2" y1="1228.15" x2="530.4" y2="1228.15" stroke="#444" stroke-width="0.9"/>
<line x1="526.2" y1="1245.45" x2="530.4" y2="1245.45" stroke="#444" stroke-width="0.9"/>
<line x1="539.7" y1="1268.14" x2="539.7" y2="1283.86" stroke="#444" stroke-width="0.9"/>
<line x1="537.6" y1="1268.14" x2="541.8" y2="1268.14" stroke="#444" stroke-width="0.9"/>
<line x1="537.6" y1="1283.86" x2="541.8" y2="1283.86" stroke="#444" stroke-width="0.9"/>
<line x1="551.4" y1="1319.75" x2="551.4" y2="1333.45" stroke="#444" stroke-width="0.9"/>
<line x1="549.3" y1="1319.75" x2="553.5" y2="1319.75" stroke="#444" stroke-width="0.9"/>
<line x1="549.3" y1="1333.45" x2="553.5" y2="1333.45" stroke="#444" stroke-width="0.9"/>
<line x1="563.1" y1="1363.51" x2="563.1" y2="1375.49" stroke="#444" stroke-width="0.9"/>
<line x1="561" y1="1363.51" x2="565.2" y2="1363.51" stroke="#444" stroke-width="0.9"/>
<line x1="561" y1="1375.49" x2="565.2" y2="1375.49" stroke="#444" stroke-width="0.9"/>
<line x1="574.7" y1="1382.89" x2="574.7" y2="1394.11" stroke="#444" stroke-width="0.9"/>
<line x1="572.6" y1="1382.89" x2="576.8" y2="1382.89" stroke="#444" stroke-width="0.9"/>
<line x1="572.6" y1="1394.11" x2="576.8" y2="1394.11" stroke="#444" stroke-width="0.9"/>
<line x1="586.1" y1="1398.3" x2="586.1" y2="1408.92" stroke="#444" stroke-width="0.9"/>
<line x1="584" y1="1398.3" x2="588.2" y2="1398.3" stroke="#444" stroke-width="0.9"/>
<line x1="584" y1="1408.92" x2="588.2" y2="1408.92" stroke="#444" stroke-width="0.9"/>
<line x1="460.15" y1="1398.82" x2="460.15" y2="1409.42" stroke="#444" stroke-width="0.9"/>
<line x1="458.05" y1="1398.82" x2="462.25" y2="1398.82" stroke="#444" stroke-width="0.9"/>
<line x1="458.05" y1="1409.42" x2="462.25" y2="1409.42" stroke="#444" stroke-width="0.9"/>
<line x1="471.1" y1="1394.21" x2="471.1" y2="1404.99" stroke="#444" stroke-width="0.9"/>
<line x1="469" y1="1394.21" x2="473.2" y2="1394.21" stroke="#444" stroke-width="0.9"/>
<line x1="469" y1="1404.99" x2="473.2" y2="1404.99" stroke="#444" stroke-width="0.9"/>
<line x1="482.8" y1="1369.42" x2="482.8" y2="1381.18" stroke="#444" stroke-width="0.9"/>
<line x1="480.7" y1="1369.42" x2="484.9" y2="1369.42" stroke="#444" stroke-width="0.9"/>
<line x1="480.7" y1="1381.18" x2="484.9" y2="1381.18" stroke="#444" stroke-width="0.9"/>
<line x1="494.5" y1="1341.78" x2="494.5" y2="1354.62" stroke="#444" stroke-width="0.9"/>
<line x1="492.4" y1="1341.78" x2="496.6" y2="1341.78" stroke="#444" stroke-width="0.9"/>
<line x1="492.4" y1="1354.62" x2="496.6" y2="1354.62" stroke="#444" stroke-width="0.9"/>
<line x1="506.1" y1="1332.8" x2="506.1" y2="1346" stroke="#444" stroke-width="0.9"/>
<line x1="504" y1="1332.8" x2="508.2" y2="1332.8" stroke="#444" stroke-width="0.9"/>
<line x1="504" y1="1346" x2="508.2" y2="1346" stroke="#444" stroke-width="0.9"/>
<line x1="517.2" y1="1306.28" x2="517.2" y2="1320.52" stroke="#444" stroke-width="0.9"/>
<line x1="515.1" y1="1306.28" x2="519.3" y2="1306.28" stroke="#444" stroke-width="0.9"/>
<line x1="515.1" y1="1320.52" x2="519.3" y2="1320.52" stroke="#444" stroke-width="0.9"/>
<line x1="528.6" y1="1287.52" x2="528.6" y2="1302.48" stroke="#444" stroke-width="0.9"/>
<line x1="526.5" y1="1287.52" x2="530.7" y2="1287.52" stroke="#444" stroke-width="0.9"/>
<line x1="526.5" y1="1302.48" x2="530.7" y2="1302.48" stroke="#444" stroke-width="0.9"/>
<line x1="539.7" y1="1303.94" x2="539.7" y2="1318.26" stroke="#444" stroke-width="0.9"/>
<line x1="537.6" y1="1303.94" x2="541.8" y2="1303.94" stroke="#444" stroke-width="0.9"/>
<line x1="537.6" y1="1318.26" x2="541.8" y2="1318.26" stroke="#444" stroke-width="0.9"/>
<line x1="551.4" y1="1329.23" x2="551.4" y2="1342.57" stroke="#444" stroke-width="0.9"/>
<line x1="549.3" y1="1329.23" x2="553.5" y2="1329.23" stroke="#444" stroke-width="0.9"/>
<line x1="549.3" y1="1342.57" x2="553.5" y2="1342.57" stroke="#444" stroke-width="0.9"/>
<line x1="563.1" y1="1353.1" x2="563.1" y2="1365.5" stroke="#444" stroke-width="0.9"/>
<line x1="561" y1="1353.1" x2="565.2" y2="1353.1" stroke="#444" stroke-width="0.9"/>
<line x1="561" y1="1365.5" x2="565.2" y2="1365.5" stroke="#444" stroke-width="0.9"/>
<line x1="574.7" y1="1369.42" x2="574.7" y2="1381.18" stroke="#444" stroke-width="0.9"/>
<line x1="572.6" y1="1369.42" x2="576.8" y2="1369.42" stroke="#444" stroke-width="0.9"/>
<line x1="572.6" y1="1381.18" x2="576.8" y2="1381.18" stroke="#444" stroke-width="0.9"/>
<line x1="586.4" y1="1391.76" x2="586.4" y2="1402.64" stroke="#444" stroke-width="0.9"/>
<line x1="584.3" y1="1391.76" x2="588.5" y2="1391.76" stroke="#444" stroke-width="0.9"/>
<line x1="584.3" y1="1402.64" x2="588.5" y2="1402.64" stroke="#444" stroke-width="0.9"/>
<line x1="482.8" y1="1398.29" x2="482.8" y2="1408.91" stroke="#444" stroke-width="0.9"/>
<line x1="480.7" y1="1398.29" x2="484.9" y2="1398.29" stroke="#444" stroke-width="0.9"/>
<line x1="480.7" y1="1408.91" x2="484.9" y2="1408.91" stroke="#444" stroke-width="0.9"/>
<line x1="494.5" y1="1394.21" x2="494.5" y2="1404.99" stroke="#444" stroke-width="0.9"/>
<line x1="492.4" y1="1394.21" x2="496.6" y2="1394.21" stroke="#444" stroke-width="0.9"/>
<line x1="492.4" y1="1404.99" x2="496.6" y2="1404.99" stroke="#444" stroke-width="0.9"/>
<line x1="506.1" y1="1378.4" x2="506.1" y2="1389.8" stroke="#444" stroke-width="0.9"/>
<line x1="504" y1="1378.4" x2="508.2" y2="1378.4" stroke="#444" stroke-width="0.9"/>
<line x1="504" y1="1389.8" x2="508.2" y2="1389.8" stroke="#444" stroke-width="0.9"/>
<line x1="517.2" y1="1361.98" x2="517.2" y2="1374.02" stroke="#444" stroke-width="0.9"/>
<line x1="515.1" y1="1361.98" x2="519.3" y2="1361.98" stroke="#444" stroke-width="0.9"/>
<line x1="515.1" y1="1374.02" x2="519.3" y2="1374.02" stroke="#444" stroke-width="0.9"/>
<line x1="528.6" y1="1359.63" x2="528.6" y2="1371.77" stroke="#444" stroke-width="0.9"/>
<line x1="526.5" y1="1359.63" x2="530.7" y2="1359.63" stroke="#444" stroke-width="0.9"/>
<line x1="526.5" y1="1371.77" x2="530.7" y2="1371.77" stroke="#444" stroke-width="0.9"/>
<line x1="539.7" y1="1359.02" x2="539.7" y2="1371.18" stroke="#444" stroke-width="0.9"/>
<line x1="537.6" y1="1359.02" x2="541.8" y2="1359.02" stroke="#444" stroke-width="0.9"/>
<line x1="537.6" y1="1371.18" x2="541.8" y2="1371.18" stroke="#444" stroke-width="0.9"/>
<line x1="551.4" y1="1367.99" x2="551.4" y2="1379.81" stroke="#444" stroke-width="0.9"/>
<line x1="549.3" y1="1367.99" x2="553.5" y2="1367.99" stroke="#444" stroke-width="0.9"/>
<line x1="549.3" y1="1379.81" x2="553.5" y2="1379.81" stroke="#444" stroke-width="0.9"/>
<line x1="563.1" y1="1382.89" x2="563.1" y2="1394.11" stroke="#444" stroke-width="0.9"/>
<line x1="561" y1="1382.89" x2="565.2" y2="1382.89" stroke="#444" stroke-width="0.9"/>
<line x1="561" y1="1394.11" x2="565.2" y2="1394.11" stroke="#444" stroke-width="0.9"/>
<line x1="574.7" y1="1389.41" x2="574.7" y2="1400.39" stroke="#444" stroke-width="0.9"/>
<line x1="572.6" y1="1389.41" x2="576.8" y2="1389.41" stroke="#444" stroke-width="0.9"/>
<line x1="572.6" y1="1400.39" x2="576.8" y2="1400.39" stroke="#444" stroke-width="0.9"/>
<line x1="586.4" y1="1397.78" x2="586.4" y2="1408.42" stroke="#444" stroke-width="0.9"/>
<line x1="584.3" y1="1397.78" x2="588.5" y2="1397.78" stroke="#444" stroke-width="0.9"/>
<line x1="584.3" y1="1408.42" x2="588.5" y2="1408.42" stroke="#444" stroke-width="0.9"/>
<rect x="398.6" y="1410.28" width="8.6" height="8.6" fill="#505050" stroke="#222" stroke-width="1.0"/>
<rect x="410.05" y="1407.92" width="8.6" height="8.6" fill="#505050" stroke="#222" stroke-width="1.0"/>
<rect x="421.5" y="1406.98" width="8.6" height="8.6" fill="#505050" stroke="#222" stroke-width="1.0"/>
<rect x="432.95" y="1396.26" width="8.6" height="8.6" fill="#505050" stroke="#222" stroke-width="1.0"/>
<rect x="443.4" y="1382.7" width="8.6" height="8.6" fill="#505050" stroke="#222" stroke-width="1.0"/>
<rect x="455.1" y="1356.4" width="8.6" height="8.6" fill="#505050" stroke="#222" stroke-width="1.0"/>
<rect x="466.8" y="1312.6" width="8.6" height="8.6" fill="#505050" stroke="#222" stroke-width="1.0"/>
<rect x="478.9" y="1252.3" width="8.6" height="8.6" fill="#505050" stroke="#222" stroke-width="1.0"/>
<rect x="490.1" y="1179.9" width="8.6" height="8.6" fill="#505050" stroke="#222" stroke-width="1.0"/>
<rect x="502.3" y="1164.8" width="8.6" height="8.6" fill="#505050" stroke="#222" stroke-width="1.0"/>
<rect x="513.1" y="1163.39" width="8.6" height="8.6" fill="#505050" stroke="#222" stroke-width="1.0"/>
<rect x="524" y="1195.6" width="8.6" height="8.6" fill="#505050" stroke="#222" stroke-width="1.0"/>
<rect x="535.4" y="1250.7" width="8.6" height="8.6" fill="#505050" stroke="#222" stroke-width="1.0"/>
<rect x="547.1" y="1313.5" width="8.6" height="8.6" fill="#505050" stroke="#222" stroke-width="1.0"/>
<rect x="558.8" y="1356.4" width="8.6" height="8.6" fill="#505050" stroke="#222" stroke-width="1.0"/>
<rect x="570.35" y="1381.45" width="8.6" height="8.6" fill="#505050" stroke="#222" stroke-width="1.0"/>
<rect x="581.8" y="1396.14" width="8.6" height="8.6" fill="#505050" stroke="#222" stroke-width="1.0"/>
<rect x="593.25" y="1406.24" width="8.6" height="8.6" fill="#505050" stroke="#222" stroke-width="1.0"/>
<rect x="604.7" y="1407.34" width="8.6" height="8.6" fill="#505050" stroke="#222" stroke-width="1.0"/>
<rect x="616.15" y="1410.82" width="8.6" height="8.6" fill="#505050" stroke="#222" stroke-width="1.0"/>
<rect x="627.8" y="1408" width="8.6" height="8.6" fill="#505050" stroke="#222" stroke-width="1.0"/>
<rect x="639.05" y="1410.17" width="8.6" height="8.6" fill="#505050" stroke="#222" stroke-width="1.0"/>
<rect x="650.6" y="1406.5" width="8.6" height="8.6" fill="#505050" stroke="#222" stroke-width="1.0"/>
<rect x="661.95" y="1410.83" width="8.6" height="8.6" fill="#505050" stroke="#222" stroke-width="1.0"/>
<rect x="673.4" y="1411.4" width="8.6" height="8.6" fill="#505050" stroke="#222" stroke-width="1.0"/>
<circle cx="402.9" cy="1415.7" r="5" fill="#ea3f3c" stroke="#400" stroke-width="1.0"/>
<circle cx="414.35" cy="1412.31" r="5" fill="#ea3f3c" stroke="#400" stroke-width="1.0"/>
<circle cx="425.8" cy="1403.9" r="5" fill="#ea3f3c" stroke="#400" stroke-width="1.0"/>
<circle cx="437.25" cy="1402.09" r="5" fill="#ea3f3c" stroke="#400" stroke-width="1.0"/>
<circle cx="447.7" cy="1390.8" r="5" fill="#ea3f3c" stroke="#400" stroke-width="1.0"/>
<circle cx="459.4" cy="1365.1" r="5" fill="#ea3f3c" stroke="#400" stroke-width="1.0"/>
<circle cx="471.1" cy="1327.7" r="5" fill="#ea3f3c" stroke="#400" stroke-width="1.0"/>
<circle cx="483.2" cy="1263.7" r="5" fill="#ea3f3c" stroke="#400" stroke-width="1.0"/>
<circle cx="494.4" cy="1204.6" r="5" fill="#ea3f3c" stroke="#400" stroke-width="1.0"/>
<circle cx="506.6" cy="1160.9" r="5" fill="#ea3f3c" stroke="#400" stroke-width="1.0"/>
<circle cx="517.1" cy="1172.6" r="5" fill="#ea3f3c" stroke="#400" stroke-width="1.0"/>
<circle cx="528.3" cy="1213" r="5" fill="#ea3f3c" stroke="#400" stroke-width="1.0"/>
<circle cx="539.7" cy="1269.5" r="5" fill="#ea3f3c" stroke="#400" stroke-width="1.0"/>
<circle cx="551.75" cy="1318.66" r="5" fill="#ea3f3c" stroke="#400" stroke-width="1.0"/>
<circle cx="563.2" cy="1362.49" r="5" fill="#ea3f3c" stroke="#400" stroke-width="1.0"/>
<circle cx="574.7" cy="1384.1" r="5" fill="#ea3f3c" stroke="#400" stroke-width="1.0"/>
<circle cx="586.1" cy="1403.82" r="5" fill="#ea3f3c" stroke="#400" stroke-width="1.0"/>
<circle cx="597.55" cy="1410.38" r="5" fill="#ea3f3c" stroke="#400" stroke-width="1.0"/>
<circle cx="609" cy="1415.7" r="5" fill="#ea3f3c" stroke="#400" stroke-width="1.0"/>
<circle cx="620.45" cy="1413.34" r="5" fill="#ea3f3c" stroke="#400" stroke-width="1.0"/>
<circle cx="631.9" cy="1415.7" r="5" fill="#ea3f3c" stroke="#400" stroke-width="1.0"/>
<circle cx="643.35" cy="1415.67" r="5" fill="#ea3f3c" stroke="#400" stroke-width="1.0"/>
<circle cx="654.8" cy="1415.24" r="5" fill="#ea3f3c" stroke="#400" stroke-width="1.0"/>
<circle cx="666.25" cy="1415.34" r="5" fill="#ea3f3c" stroke="#400" stroke-width="1.0"/>
<circle cx="677.7" cy="1415.7" r="5" fill="#ea3f3c" stroke="#400" stroke-width="1.0"/>
<polygon points="397.4,1418.88 408.4,1418.88 402.9,1409.35" fill="#2a74da" stroke="#0a1a40" stroke-width="1.0" stroke-linejoin="miter"/>
<polygon points="408.85,1417.35 419.85,1417.35 414.35,1407.82" fill="#2a74da" stroke="#0a1a40" stroke-width="1.0" stroke-linejoin="miter"/>
<polygon points="420.3,1417.56 431.3,1417.56 425.8,1408.04" fill="#2a74da" stroke="#0a1a40" stroke-width="1.0" stroke-linejoin="miter"/>
<polygon points="430.6,1404.78 441.6,1404.78 436.1,1395.25" fill="#2a74da" stroke="#0a1a40" stroke-width="1.0" stroke-linejoin="miter"/>
<polygon points="442.2,1409.18 453.2,1409.18 447.7,1399.65" fill="#2a74da" stroke="#0a1a40" stroke-width="1.0" stroke-linejoin="miter"/>
<polygon points="453.9,1394.58 464.9,1394.58 459.4,1385.05" fill="#2a74da" stroke="#0a1a40" stroke-width="1.0" stroke-linejoin="miter"/>
<polygon points="465.6,1360.98 476.6,1360.98 471.1,1351.45" fill="#2a74da" stroke="#0a1a40" stroke-width="1.0" stroke-linejoin="miter"/>
<polygon points="477.3,1325.98 488.3,1325.98 482.8,1316.45" fill="#2a74da" stroke="#0a1a40" stroke-width="1.0" stroke-linejoin="miter"/>
<polygon points="488.9,1277.78 499.9,1277.78 494.4,1268.25" fill="#2a74da" stroke="#0a1a40" stroke-width="1.0" stroke-linejoin="miter"/>
<polygon points="501.1,1248.18 512.1,1248.18 506.6,1238.65" fill="#2a74da" stroke="#0a1a40" stroke-width="1.0" stroke-linejoin="miter"/>
<polygon points="511.6,1227.18 522.6,1227.18 517.1,1217.65" fill="#2a74da" stroke="#0a1a40" stroke-width="1.0" stroke-linejoin="miter"/>
<polygon points="522.8,1239.98 533.8,1239.98 528.3,1230.45" fill="#2a74da" stroke="#0a1a40" stroke-width="1.0" stroke-linejoin="miter"/>
<polygon points="534.2,1279.18 545.2,1279.18 539.7,1269.65" fill="#2a74da" stroke="#0a1a40" stroke-width="1.0" stroke-linejoin="miter"/>
<polygon points="545.9,1329.78 556.9,1329.78 551.4,1320.25" fill="#2a74da" stroke="#0a1a40" stroke-width="1.0" stroke-linejoin="miter"/>
<polygon points="557.6,1372.68 568.6,1372.68 563.1,1363.15" fill="#2a74da" stroke="#0a1a40" stroke-width="1.0" stroke-linejoin="miter"/>
<polygon points="569.2,1391.68 580.2,1391.68 574.7,1382.15" fill="#2a74da" stroke="#0a1a40" stroke-width="1.0" stroke-linejoin="miter"/>
<polygon points="580.6,1406.79 591.6,1406.79 586.1,1397.26" fill="#2a74da" stroke="#0a1a40" stroke-width="1.0" stroke-linejoin="miter"/>
<polygon points="592.05,1413.36 603.05,1413.36 597.55,1403.83" fill="#2a74da" stroke="#0a1a40" stroke-width="1.0" stroke-linejoin="miter"/>
<polygon points="603.5,1417.83 614.5,1417.83 609,1408.3" fill="#2a74da" stroke="#0a1a40" stroke-width="1.0" stroke-linejoin="miter"/>
<polygon points="614.95,1416.95 625.95,1416.95 620.45,1407.42" fill="#2a74da" stroke="#0a1a40" stroke-width="1.0" stroke-linejoin="miter"/>
<polygon points="626.4,1417.64 637.4,1417.64 631.9,1408.11" fill="#2a74da" stroke="#0a1a40" stroke-width="1.0" stroke-linejoin="miter"/>
<polygon points="637.85,1418.76 648.85,1418.76 643.35,1409.23" fill="#2a74da" stroke="#0a1a40" stroke-width="1.0" stroke-linejoin="miter"/>
<polygon points="649.3,1418.88 660.3,1418.88 654.8,1409.35" fill="#2a74da" stroke="#0a1a40" stroke-width="1.0" stroke-linejoin="miter"/>
<polygon points="660.75,1418.88 671.75,1418.88 666.25,1409.35" fill="#2a74da" stroke="#0a1a40" stroke-width="1.0" stroke-linejoin="miter"/>
<polygon points="672.2,1418.88 683.2,1418.88 677.7,1409.35" fill="#2a74da" stroke="#0a1a40" stroke-width="1.0" stroke-linejoin="miter"/>
<polygon points="397.4,1412.52 408.4,1412.52 402.9,1422.05" fill="#37ad66" stroke="#08301a" stroke-width="1.0" stroke-linejoin="miter"/>
<polygon points="408.85,1412.52 419.85,1412.52 414.35,1422.05" fill="#37ad66" stroke="#08301a" stroke-width="1.0" stroke-linejoin="miter"/>
<polygon points="420.3,1412.34 431.3,1412.34 425.8,1421.86" fill="#37ad66" stroke="#08301a" stroke-width="1.0" stroke-linejoin="miter"/>
<polygon points="431.75,1412.52 442.75,1412.52 437.25,1422.05" fill="#37ad66" stroke="#08301a" stroke-width="1.0" stroke-linejoin="miter"/>
<polygon points="443.2,1409.62 454.2,1409.62 448.7,1419.15" fill="#37ad66" stroke="#08301a" stroke-width="1.0" stroke-linejoin="miter"/>
<polygon points="454.65,1400.94 465.65,1400.94 460.15,1410.47" fill="#37ad66" stroke="#08301a" stroke-width="1.0" stroke-linejoin="miter"/>
<polygon points="465.6,1396.42 476.6,1396.42 471.1,1405.95" fill="#37ad66" stroke="#08301a" stroke-width="1.0" stroke-linejoin="miter"/>
<polygon points="477.3,1372.12 488.3,1372.12 482.8,1381.65" fill="#37ad66" stroke="#08301a" stroke-width="1.0" stroke-linejoin="miter"/>
<polygon points="489,1345.02 500,1345.02 494.5,1354.55" fill="#37ad66" stroke="#08301a" stroke-width="1.0" stroke-linejoin="miter"/>
<polygon points="500.6,1336.22 511.6,1336.22 506.1,1345.75" fill="#37ad66" stroke="#08301a" stroke-width="1.0" stroke-linejoin="miter"/>
<polygon points="511.7,1310.22 522.7,1310.22 517.2,1319.75" fill="#37ad66" stroke="#08301a" stroke-width="1.0" stroke-linejoin="miter"/>
<polygon points="523.1,1291.82 534.1,1291.82 528.6,1301.35" fill="#37ad66" stroke="#08301a" stroke-width="1.0" stroke-linejoin="miter"/>
<polygon points="534.2,1307.92 545.2,1307.92 539.7,1317.45" fill="#37ad66" stroke="#08301a" stroke-width="1.0" stroke-linejoin="miter"/>
<polygon points="545.9,1332.72 556.9,1332.72 551.4,1342.25" fill="#37ad66" stroke="#08301a" stroke-width="1.0" stroke-linejoin="miter"/>
<polygon points="557.6,1356.12 568.6,1356.12 563.1,1365.65" fill="#37ad66" stroke="#08301a" stroke-width="1.0" stroke-linejoin="miter"/>
<polygon points="569.2,1372.12 580.2,1372.12 574.7,1381.65" fill="#37ad66" stroke="#08301a" stroke-width="1.0" stroke-linejoin="miter"/>
<polygon points="580.9,1394.02 591.9,1394.02 586.4,1403.55" fill="#37ad66" stroke="#08301a" stroke-width="1.0" stroke-linejoin="miter"/>
<polygon points="592.6,1405.72 603.6,1405.72 598.1,1415.25" fill="#37ad66" stroke="#08301a" stroke-width="1.0" stroke-linejoin="miter"/>
<polygon points="604.3,1407.22 615.3,1407.22 609.8,1416.75" fill="#37ad66" stroke="#08301a" stroke-width="1.0" stroke-linejoin="miter"/>
<polygon points="614.95,1412.31 625.95,1412.31 620.45,1421.84" fill="#37ad66" stroke="#08301a" stroke-width="1.0" stroke-linejoin="miter"/>
<polygon points="626.4,1412.52 637.4,1412.52 631.9,1422.05" fill="#37ad66" stroke="#08301a" stroke-width="1.0" stroke-linejoin="miter"/>
<polygon points="637.85,1412.52 648.85,1412.52 643.35,1422.05" fill="#37ad66" stroke="#08301a" stroke-width="1.0" stroke-linejoin="miter"/>
<polygon points="649.3,1412.52 660.3,1412.52 654.8,1422.05" fill="#37ad66" stroke="#08301a" stroke-width="1.0" stroke-linejoin="miter"/>
<polygon points="660.75,1412.52 671.75,1412.52 666.25,1422.05" fill="#37ad66" stroke="#08301a" stroke-width="1.0" stroke-linejoin="miter"/>
<polygon points="672.2,1412.52 683.2,1412.52 677.7,1422.05" fill="#37ad66" stroke="#08301a" stroke-width="1.0" stroke-linejoin="miter"/>
<polygon points="404,1406.8 410.2,1413 404,1419.2 397.8,1413" fill="#a77be0" stroke="#2a1050" stroke-width="1.0"/>
<polygon points="414.4,1409.8 420.6,1416 414.4,1422.2 408.2,1416" fill="#a77be0" stroke="#2a1050" stroke-width="1.0"/>
<polygon points="425.8,1409.5 432,1415.7 425.8,1421.9 419.6,1415.7" fill="#a77be0" stroke="#2a1050" stroke-width="1.0"/>
<polygon points="436.1,1410 442.3,1416.2 436.1,1422.4 429.9,1416.2" fill="#a77be0" stroke="#2a1050" stroke-width="1.0"/>
<polygon points="447.7,1405.6 453.9,1411.8 447.7,1418 441.5,1411.8" fill="#a77be0" stroke="#2a1050" stroke-width="1.0"/>
<polygon points="459.4,1402.7 465.6,1408.9 459.4,1415.1 453.2,1408.9" fill="#a77be0" stroke="#2a1050" stroke-width="1.0"/>
<polygon points="471.1,1407.1 477.3,1413.3 471.1,1419.5 464.9,1413.3" fill="#a77be0" stroke="#2a1050" stroke-width="1.0"/>
<polygon points="482.8,1397.4 489,1403.6 482.8,1409.8 476.6,1403.6" fill="#a77be0" stroke="#2a1050" stroke-width="1.0"/>
<polygon points="494.5,1393.4 500.7,1399.6 494.5,1405.8 488.3,1399.6" fill="#a77be0" stroke="#2a1050" stroke-width="1.0"/>
<polygon points="506.1,1377.9 512.3,1384.1 506.1,1390.3 499.9,1384.1" fill="#a77be0" stroke="#2a1050" stroke-width="1.0"/>
<polygon points="517.2,1361.8 523.4,1368 517.2,1374.2 511,1368" fill="#a77be0" stroke="#2a1050" stroke-width="1.0"/>
<polygon points="528.6,1359.5 534.8,1365.7 528.6,1371.9 522.4,1365.7" fill="#a77be0" stroke="#2a1050" stroke-width="1.0"/>
<polygon points="539.7,1358.9 545.9,1365.1 539.7,1371.3 533.5,1365.1" fill="#a77be0" stroke="#2a1050" stroke-width="1.0"/>
<polygon points="551.4,1367.7 557.6,1373.9 551.4,1380.1 545.2,1373.9" fill="#a77be0" stroke="#2a1050" stroke-width="1.0"/>
<polygon points="563.1,1382.3 569.3,1388.5 563.1,1394.7 556.9,1388.5" fill="#a77be0" stroke="#2a1050" stroke-width="1.0"/>
<polygon points="574.7,1388.7 580.9,1394.9 574.7,1401.1 568.5,1394.9" fill="#a77be0" stroke="#2a1050" stroke-width="1.0"/>
<polygon points="586.4,1396.9 592.6,1403.1 586.4,1409.3 580.2,1403.1" fill="#a77be0" stroke="#2a1050" stroke-width="1.0"/>
<polygon points="598.1,1404.2 604.3,1410.4 598.1,1416.6 591.9,1410.4" fill="#a77be0" stroke="#2a1050" stroke-width="1.0"/>
<polygon points="609.8,1408.5 616,1414.7 609.8,1420.9 603.6,1414.7" fill="#a77be0" stroke="#2a1050" stroke-width="1.0"/>
<polygon points="620.5,1409.8 626.7,1416 620.5,1422.2 614.3,1416" fill="#a77be0" stroke="#2a1050" stroke-width="1.0"/>
<polygon points="632,1408.8 638.2,1415 632,1421.2 625.8,1415" fill="#a77be0" stroke="#2a1050" stroke-width="1.0"/>
<polygon points="643.4,1409.8 649.6,1416 643.4,1422.2 637.2,1416" fill="#a77be0" stroke="#2a1050" stroke-width="1.0"/>
<polygon points="654.9,1409.3 661.1,1415.5 654.9,1421.7 648.7,1415.5" fill="#a77be0" stroke="#2a1050" stroke-width="1.0"/>
<polygon points="666.3,1409.8 672.5,1416 666.3,1422.2 660.1,1416" fill="#a77be0" stroke="#2a1050" stroke-width="1.0"/>
<polygon points="677.8,1409.6 684,1415.8 677.8,1422 671.6,1415.8" fill="#a77be0" stroke="#2a1050" stroke-width="1.0"/>
<rect x="617.3" y="1214.3" width="8.4" height="8.4" fill="#505050" stroke="#222" stroke-width="1.0"/>
<text x="654.9" y="1223.4" font-family="Liberation Sans" font-size="17.5" text-anchor="end" font-weight="normal" font-style="normal">0</text>
<circle cx="621.5" cy="1240.1" r="5.3" fill="#ea3f3c" stroke="#400" stroke-width="1.0"/>
<text x="654.9" y="1245.3" font-family="Liberation Sans" font-size="17.5" text-anchor="end" font-weight="normal" font-style="normal">10</text>
<polygon points="615.5,1265.26 627.5,1265.26 621.5,1254.87" fill="#2a74da" stroke="#0a1a40" stroke-width="1.0" stroke-linejoin="miter"/>
<text x="654.9" y="1266.5" font-family="Liberation Sans" font-size="17.5" text-anchor="end" font-weight="normal" font-style="normal">20</text>
<polygon points="615.5,1278.04 627.5,1278.04 621.5,1288.43" fill="#37ad66" stroke="#08301a" stroke-width="1.0" stroke-linejoin="miter"/>
<text x="654.9" y="1287.6" font-family="Liberation Sans" font-size="17.5" text-anchor="end" font-weight="normal" font-style="normal">30</text>
<polygon points="621.1,1296.7 627.7,1303.3 621.1,1309.9 614.5,1303.3" fill="#a77be0" stroke="#2a1050" stroke-width="1.0"/>
<text x="654.9" y="1308.6" font-family="Liberation Sans" font-size="17.5" text-anchor="end" font-weight="normal" font-style="normal">40</text>
<text transform="translate(6.8,13.5) scale(0.9,1)" font-family="Liberation Sans" font-size="24" font-weight="bold" stroke="#000" stroke-width="0.5">a</text>
<text transform="translate(7.0,285.0) scale(0.9,1)" font-family="Liberation Sans" font-size="24" font-weight="bold" stroke="#000" stroke-width="0.5">b</text>
<text transform="translate(6.6,752.9) scale(0.9,1)" font-family="Liberation Sans" font-size="24" font-weight="bold" stroke="#000" stroke-width="0.5">c</text>
<text transform="translate(6.9,974.2) scale(0.9,1)" font-family="Liberation Sans" font-size="24" font-weight="bold" stroke="#000" stroke-width="0.5">d</text>
<text transform="translate(340.3,753.2) scale(0.9,1)" font-family="Liberation Sans" font-size="24" font-weight="bold" stroke="#000" stroke-width="0.5">e</text>
<text transform="translate(340.8,1130.0) scale(0.9,1)" font-family="Liberation Sans" font-size="24" font-weight="bold" stroke="#000" stroke-width="0.5">f</text>
<text x="5.8" y="1206.9" font-family="Liberation Serif" font-size="26.5" text-anchor="start" font-weight="bold" font-style="normal">g</text>
</svg></body></html>
